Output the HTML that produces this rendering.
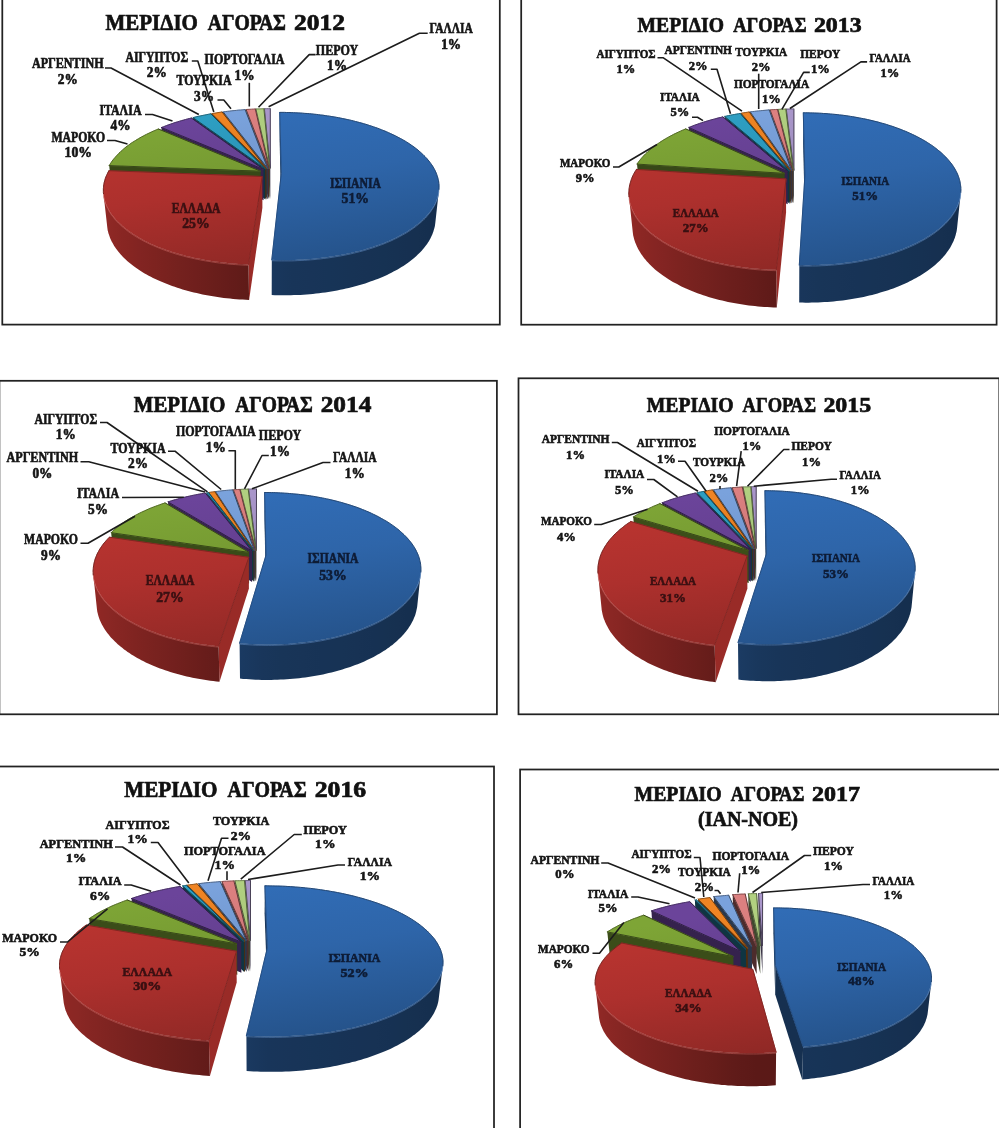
<!DOCTYPE html>
<html lang="el"><head><meta charset="utf-8"><title>ΜΕΡΙΔΙΟ ΑΓΟΡΑΣ 2012-2017</title>
<style>
html,body{margin:0;padding:0;background:#fff}
svg{display:block;filter:blur(0.35px)}
text{font-family:"Liberation Serif","DejaVu Serif",serif;font-weight:bold}
.t{fill:#111;stroke:#111;stroke-width:0.7px}
.l{stroke-width:0.6px}
</style></head><body>
<svg width="999" height="1128" viewBox="0 0 999 1128">
<defs>
<linearGradient id="t0_9" gradientUnits="userSpaceOnUse" x1="270.5" y1="109.7" x2="295.5" y2="265.1"><stop offset="0" stop-color="#a996ca"/><stop offset="0.45" stop-color="#9c8bba"/><stop offset="1" stop-color="#807299"/></linearGradient>
<linearGradient id="t0_8" gradientUnits="userSpaceOnUse" x1="270.5" y1="109.7" x2="295.5" y2="265.1"><stop offset="0" stop-color="#b1d080"/><stop offset="0.45" stop-color="#a3c076"/><stop offset="1" stop-color="#869e61"/></linearGradient>
<linearGradient id="t0_7" gradientUnits="userSpaceOnUse" x1="270.5" y1="109.7" x2="295.5" y2="265.1"><stop offset="0" stop-color="#dc8080"/><stop offset="0.45" stop-color="#cb7676"/><stop offset="1" stop-color="#a76161"/></linearGradient>
<linearGradient id="t0_6" gradientUnits="userSpaceOnUse" x1="270.5" y1="109.7" x2="295.5" y2="265.1"><stop offset="0" stop-color="#7aa2dc"/><stop offset="0.45" stop-color="#7095cb"/><stop offset="1" stop-color="#5c7aa7"/></linearGradient>
<linearGradient id="t0_5" gradientUnits="userSpaceOnUse" x1="270.5" y1="109.7" x2="295.5" y2="265.1"><stop offset="0" stop-color="#ef8423"/><stop offset="0.45" stop-color="#dc7a20"/><stop offset="1" stop-color="#b5641b"/></linearGradient>
<linearGradient id="t0_4" gradientUnits="userSpaceOnUse" x1="270.5" y1="109.7" x2="295.5" y2="265.1"><stop offset="0" stop-color="#2d9ec2"/><stop offset="0.45" stop-color="#2a91b3"/><stop offset="1" stop-color="#227793"/></linearGradient>
<linearGradient id="t0_3" gradientUnits="userSpaceOnUse" x1="270.5" y1="109.7" x2="295.5" y2="265.1"><stop offset="0" stop-color="#6b449a"/><stop offset="0.45" stop-color="#633f8e"/><stop offset="1" stop-color="#513375"/></linearGradient>
<linearGradient id="t0_2" gradientUnits="userSpaceOnUse" x1="270.5" y1="109.7" x2="295.5" y2="265.1"><stop offset="0" stop-color="#7ea536"/><stop offset="0.45" stop-color="#749831"/><stop offset="1" stop-color="#5f7d29"/></linearGradient>
<linearGradient id="w0_0_104" gradientUnits="userSpaceOnUse" x1="271.8" y1="0" x2="438.8" y2="0"><stop offset="0.000" stop-color="#19375d"/><stop offset="0.117" stop-color="#183559"/><stop offset="0.234" stop-color="#183458"/><stop offset="0.347" stop-color="#173457"/><stop offset="0.473" stop-color="#173355"/><stop offset="0.573" stop-color="#173254"/><stop offset="0.665" stop-color="#163253"/><stop offset="0.746" stop-color="#163152"/><stop offset="0.818" stop-color="#163051"/><stop offset="0.877" stop-color="#163050"/><stop offset="0.932" stop-color="#152f4f"/><stop offset="0.966" stop-color="#152e4e"/><stop offset="0.989" stop-color="#152e4d"/><stop offset="1.000" stop-color="#152d4c"/></linearGradient>
<linearGradient id="t0_0" gradientUnits="userSpaceOnUse" x1="270.5" y1="109.7" x2="295.5" y2="265.1"><stop offset="0" stop-color="#316db7"/><stop offset="0.45" stop-color="#2e65a9"/><stop offset="1" stop-color="#25538b"/></linearGradient>
<linearGradient id="w0_1_0" gradientUnits="userSpaceOnUse" x1="103.7" y1="0" x2="248.5" y2="0"><stop offset="0.000" stop-color="#912925"/><stop offset="0.014" stop-color="#902825"/><stop offset="0.037" stop-color="#8e2825"/><stop offset="0.076" stop-color="#8c2724"/><stop offset="0.119" stop-color="#892623"/><stop offset="0.184" stop-color="#862522"/><stop offset="0.248" stop-color="#822422"/><stop offset="0.337" stop-color="#7e2320"/><stop offset="0.420" stop-color="#7a221f"/><stop offset="0.530" stop-color="#74211e"/><stop offset="0.629" stop-color="#701f1d"/><stop offset="0.755" stop-color="#6a1e1b"/><stop offset="0.865" stop-color="#651c1a"/><stop offset="1.000" stop-color="#5f1b18"/></linearGradient>
<linearGradient id="t0_1" gradientUnits="userSpaceOnUse" x1="270.5" y1="109.7" x2="295.5" y2="265.1"><stop offset="0" stop-color="#bb3530"/><stop offset="0.45" stop-color="#ad302d"/><stop offset="1" stop-color="#8e2825"/></linearGradient>
<linearGradient id="t1_9" gradientUnits="userSpaceOnUse" x1="794.2" y1="110.1" x2="819.2" y2="270.5"><stop offset="0" stop-color="#a996ca"/><stop offset="0.45" stop-color="#9c8bba"/><stop offset="1" stop-color="#807299"/></linearGradient>
<linearGradient id="t1_8" gradientUnits="userSpaceOnUse" x1="794.2" y1="110.1" x2="819.2" y2="270.5"><stop offset="0" stop-color="#b1d080"/><stop offset="0.45" stop-color="#a3c076"/><stop offset="1" stop-color="#869e61"/></linearGradient>
<linearGradient id="t1_7" gradientUnits="userSpaceOnUse" x1="794.2" y1="110.1" x2="819.2" y2="270.5"><stop offset="0" stop-color="#dc8080"/><stop offset="0.45" stop-color="#cb7676"/><stop offset="1" stop-color="#a76161"/></linearGradient>
<linearGradient id="t1_6" gradientUnits="userSpaceOnUse" x1="794.2" y1="110.1" x2="819.2" y2="270.5"><stop offset="0" stop-color="#7aa2dc"/><stop offset="0.45" stop-color="#7095cb"/><stop offset="1" stop-color="#5c7aa7"/></linearGradient>
<linearGradient id="t1_5" gradientUnits="userSpaceOnUse" x1="794.2" y1="110.1" x2="819.2" y2="270.5"><stop offset="0" stop-color="#ef8423"/><stop offset="0.45" stop-color="#dc7a20"/><stop offset="1" stop-color="#b5641b"/></linearGradient>
<linearGradient id="t1_4" gradientUnits="userSpaceOnUse" x1="794.2" y1="110.1" x2="819.2" y2="270.5"><stop offset="0" stop-color="#2d9ec2"/><stop offset="0.45" stop-color="#2a91b3"/><stop offset="1" stop-color="#227793"/></linearGradient>
<linearGradient id="t1_3" gradientUnits="userSpaceOnUse" x1="794.2" y1="110.1" x2="819.2" y2="270.5"><stop offset="0" stop-color="#6b449a"/><stop offset="0.45" stop-color="#633f8e"/><stop offset="1" stop-color="#513375"/></linearGradient>
<linearGradient id="t1_2" gradientUnits="userSpaceOnUse" x1="794.2" y1="110.1" x2="819.2" y2="270.5"><stop offset="0" stop-color="#7ea536"/><stop offset="0.45" stop-color="#749831"/><stop offset="1" stop-color="#5f7d29"/></linearGradient>
<linearGradient id="w1_0_104" gradientUnits="userSpaceOnUse" x1="799.3" y1="0" x2="960.6" y2="0"><stop offset="0.000" stop-color="#19365b"/><stop offset="0.120" stop-color="#183558"/><stop offset="0.238" stop-color="#183457"/><stop offset="0.353" stop-color="#173356"/><stop offset="0.463" stop-color="#173355"/><stop offset="0.565" stop-color="#173254"/><stop offset="0.659" stop-color="#163253"/><stop offset="0.755" stop-color="#163152"/><stop offset="0.826" stop-color="#163051"/><stop offset="0.885" stop-color="#163050"/><stop offset="0.931" stop-color="#152f4f"/><stop offset="0.966" stop-color="#152e4e"/><stop offset="0.989" stop-color="#152e4d"/><stop offset="1.000" stop-color="#152d4c"/></linearGradient>
<linearGradient id="t1_0" gradientUnits="userSpaceOnUse" x1="794.2" y1="110.1" x2="819.2" y2="270.5"><stop offset="0" stop-color="#316db7"/><stop offset="0.45" stop-color="#2e65a9"/><stop offset="1" stop-color="#25538b"/></linearGradient>
<linearGradient id="w1_1_0" gradientUnits="userSpaceOnUse" x1="629.2" y1="0" x2="776.3" y2="0"><stop offset="0.000" stop-color="#912925"/><stop offset="0.014" stop-color="#902825"/><stop offset="0.035" stop-color="#8e2825"/><stop offset="0.072" stop-color="#8c2724"/><stop offset="0.123" stop-color="#892623"/><stop offset="0.175" stop-color="#862523"/><stop offset="0.249" stop-color="#822422"/><stop offset="0.336" stop-color="#7d2320"/><stop offset="0.434" stop-color="#78221f"/><stop offset="0.524" stop-color="#74211e"/><stop offset="0.640" stop-color="#6e1f1d"/><stop offset="0.763" stop-color="#691d1b"/><stop offset="0.869" stop-color="#641c1a"/><stop offset="1.000" stop-color="#5e1a18"/></linearGradient>
<linearGradient id="t1_1" gradientUnits="userSpaceOnUse" x1="794.2" y1="110.1" x2="819.2" y2="270.5"><stop offset="0" stop-color="#bb3530"/><stop offset="0.45" stop-color="#ad302d"/><stop offset="1" stop-color="#8e2825"/></linearGradient>
<linearGradient id="t2_9" gradientUnits="userSpaceOnUse" x1="256.7" y1="489.6" x2="281.7" y2="649.4"><stop offset="0" stop-color="#a996ca"/><stop offset="0.45" stop-color="#9c8bba"/><stop offset="1" stop-color="#807299"/></linearGradient>
<linearGradient id="t2_8" gradientUnits="userSpaceOnUse" x1="256.7" y1="489.6" x2="281.7" y2="649.4"><stop offset="0" stop-color="#b1d080"/><stop offset="0.45" stop-color="#a3c076"/><stop offset="1" stop-color="#869e61"/></linearGradient>
<linearGradient id="t2_7" gradientUnits="userSpaceOnUse" x1="256.7" y1="489.6" x2="281.7" y2="649.4"><stop offset="0" stop-color="#dc8080"/><stop offset="0.45" stop-color="#cb7676"/><stop offset="1" stop-color="#a76161"/></linearGradient>
<linearGradient id="t2_6" gradientUnits="userSpaceOnUse" x1="256.7" y1="489.6" x2="281.7" y2="649.4"><stop offset="0" stop-color="#7aa2dc"/><stop offset="0.45" stop-color="#7095cb"/><stop offset="1" stop-color="#5c7aa7"/></linearGradient>
<linearGradient id="t2_5" gradientUnits="userSpaceOnUse" x1="256.7" y1="489.6" x2="281.7" y2="649.4"><stop offset="0" stop-color="#ef8423"/><stop offset="0.45" stop-color="#dc7a20"/><stop offset="1" stop-color="#b5641b"/></linearGradient>
<linearGradient id="t2_4" gradientUnits="userSpaceOnUse" x1="256.7" y1="489.6" x2="281.7" y2="649.4"><stop offset="0" stop-color="#2d9ec2"/><stop offset="0.45" stop-color="#2a91b3"/><stop offset="1" stop-color="#227793"/></linearGradient>
<linearGradient id="t2_3" gradientUnits="userSpaceOnUse" x1="256.7" y1="489.6" x2="281.7" y2="649.4"><stop offset="0" stop-color="#6b449a"/><stop offset="0.45" stop-color="#633f8e"/><stop offset="1" stop-color="#513375"/></linearGradient>
<linearGradient id="t2_2" gradientUnits="userSpaceOnUse" x1="256.7" y1="489.6" x2="281.7" y2="649.4"><stop offset="0" stop-color="#7ea536"/><stop offset="0.45" stop-color="#749831"/><stop offset="1" stop-color="#5f7d29"/></linearGradient>
<linearGradient id="w2_0_104" gradientUnits="userSpaceOnUse" x1="239.6" y1="0" x2="420.6" y2="0"><stop offset="0.000" stop-color="#1a3a62"/><stop offset="0.123" stop-color="#19365b"/><stop offset="0.230" stop-color="#183558"/><stop offset="0.352" stop-color="#183457"/><stop offset="0.453" stop-color="#173356"/><stop offset="0.564" stop-color="#173355"/><stop offset="0.652" stop-color="#173254"/><stop offset="0.743" stop-color="#163153"/><stop offset="0.812" stop-color="#163151"/><stop offset="0.879" stop-color="#163050"/><stop offset="0.924" stop-color="#152f4f"/><stop offset="0.964" stop-color="#152f4e"/><stop offset="0.987" stop-color="#152e4d"/><stop offset="1.000" stop-color="#152d4c"/></linearGradient>
<linearGradient id="t2_0" gradientUnits="userSpaceOnUse" x1="256.7" y1="489.6" x2="281.7" y2="649.4"><stop offset="0" stop-color="#316db7"/><stop offset="0.45" stop-color="#2e65a9"/><stop offset="1" stop-color="#25538b"/></linearGradient>
<linearGradient id="w2_1_0" gradientUnits="userSpaceOnUse" x1="93.5" y1="0" x2="218.6" y2="0"><stop offset="0.000" stop-color="#912925"/><stop offset="0.013" stop-color="#902825"/><stop offset="0.035" stop-color="#8f2825"/><stop offset="0.069" stop-color="#8d2724"/><stop offset="0.124" stop-color="#8a2724"/><stop offset="0.181" stop-color="#872623"/><stop offset="0.249" stop-color="#842522"/><stop offset="0.328" stop-color="#802421"/><stop offset="0.416" stop-color="#7c2320"/><stop offset="0.513" stop-color="#78221f"/><stop offset="0.641" stop-color="#73201e"/><stop offset="0.755" stop-color="#6e1f1c"/><stop offset="0.876" stop-color="#691d1b"/><stop offset="1.000" stop-color="#641c1a"/></linearGradient>
<linearGradient id="t2_1" gradientUnits="userSpaceOnUse" x1="256.7" y1="489.6" x2="281.7" y2="649.4"><stop offset="0" stop-color="#bb3530"/><stop offset="0.45" stop-color="#ad302d"/><stop offset="1" stop-color="#8e2825"/></linearGradient>
<linearGradient id="t3_9" gradientUnits="userSpaceOnUse" x1="756.4" y1="487.7" x2="781.4" y2="649.0"><stop offset="0" stop-color="#a996ca"/><stop offset="0.45" stop-color="#9c8bba"/><stop offset="1" stop-color="#807299"/></linearGradient>
<linearGradient id="t3_8" gradientUnits="userSpaceOnUse" x1="756.4" y1="487.7" x2="781.4" y2="649.0"><stop offset="0" stop-color="#b1d080"/><stop offset="0.45" stop-color="#a3c076"/><stop offset="1" stop-color="#869e61"/></linearGradient>
<linearGradient id="t3_7" gradientUnits="userSpaceOnUse" x1="756.4" y1="487.7" x2="781.4" y2="649.0"><stop offset="0" stop-color="#dc8080"/><stop offset="0.45" stop-color="#cb7676"/><stop offset="1" stop-color="#a76161"/></linearGradient>
<linearGradient id="t3_6" gradientUnits="userSpaceOnUse" x1="756.4" y1="487.7" x2="781.4" y2="649.0"><stop offset="0" stop-color="#7aa2dc"/><stop offset="0.45" stop-color="#7095cb"/><stop offset="1" stop-color="#5c7aa7"/></linearGradient>
<linearGradient id="t3_5" gradientUnits="userSpaceOnUse" x1="756.4" y1="487.7" x2="781.4" y2="649.0"><stop offset="0" stop-color="#ef8423"/><stop offset="0.45" stop-color="#dc7a20"/><stop offset="1" stop-color="#b5641b"/></linearGradient>
<linearGradient id="t3_4" gradientUnits="userSpaceOnUse" x1="756.4" y1="487.7" x2="781.4" y2="649.0"><stop offset="0" stop-color="#2d9ec2"/><stop offset="0.45" stop-color="#2a91b3"/><stop offset="1" stop-color="#227793"/></linearGradient>
<linearGradient id="t3_3" gradientUnits="userSpaceOnUse" x1="756.4" y1="487.7" x2="781.4" y2="649.0"><stop offset="0" stop-color="#6b449a"/><stop offset="0.45" stop-color="#633f8e"/><stop offset="1" stop-color="#513375"/></linearGradient>
<linearGradient id="t3_2" gradientUnits="userSpaceOnUse" x1="756.4" y1="487.7" x2="781.4" y2="649.0"><stop offset="0" stop-color="#7ea536"/><stop offset="0.45" stop-color="#749831"/><stop offset="1" stop-color="#5f7d29"/></linearGradient>
<linearGradient id="w3_0_104" gradientUnits="userSpaceOnUse" x1="738.0" y1="0" x2="914.9" y2="0"><stop offset="0.000" stop-color="#1b3b63"/><stop offset="0.121" stop-color="#19375c"/><stop offset="0.226" stop-color="#183559"/><stop offset="0.346" stop-color="#183457"/><stop offset="0.446" stop-color="#173356"/><stop offset="0.556" stop-color="#173355"/><stop offset="0.658" stop-color="#173254"/><stop offset="0.736" stop-color="#163153"/><stop offset="0.815" stop-color="#163151"/><stop offset="0.881" stop-color="#163050"/><stop offset="0.926" stop-color="#152f4f"/><stop offset="0.965" stop-color="#152f4e"/><stop offset="0.987" stop-color="#152e4d"/><stop offset="1.000" stop-color="#152d4c"/></linearGradient>
<linearGradient id="t3_0" gradientUnits="userSpaceOnUse" x1="756.4" y1="487.7" x2="781.4" y2="649.0"><stop offset="0" stop-color="#316db7"/><stop offset="0.45" stop-color="#2e65a9"/><stop offset="1" stop-color="#25538b"/></linearGradient>
<linearGradient id="w3_1_0" gradientUnits="userSpaceOnUse" x1="598.2" y1="0" x2="714.6" y2="0"><stop offset="0.000" stop-color="#912925"/><stop offset="0.012" stop-color="#902825"/><stop offset="0.035" stop-color="#8f2825"/><stop offset="0.069" stop-color="#8d2724"/><stop offset="0.114" stop-color="#8a2724"/><stop offset="0.171" stop-color="#882623"/><stop offset="0.238" stop-color="#842522"/><stop offset="0.334" stop-color="#802421"/><stop offset="0.424" stop-color="#7c2320"/><stop offset="0.525" stop-color="#78221f"/><stop offset="0.633" stop-color="#74201e"/><stop offset="0.750" stop-color="#6f1f1d"/><stop offset="0.872" stop-color="#6a1e1b"/><stop offset="1.000" stop-color="#651c1a"/></linearGradient>
<linearGradient id="t3_1" gradientUnits="userSpaceOnUse" x1="756.4" y1="487.7" x2="781.4" y2="649.0"><stop offset="0" stop-color="#bb3530"/><stop offset="0.45" stop-color="#ad302d"/><stop offset="1" stop-color="#8e2825"/></linearGradient>
<linearGradient id="t4_9" gradientUnits="userSpaceOnUse" x1="250.8" y1="882.9" x2="275.8" y2="1041.3"><stop offset="0" stop-color="#a996ca"/><stop offset="0.45" stop-color="#9c8bba"/><stop offset="1" stop-color="#807299"/></linearGradient>
<linearGradient id="t4_8" gradientUnits="userSpaceOnUse" x1="250.8" y1="882.9" x2="275.8" y2="1041.3"><stop offset="0" stop-color="#b1d080"/><stop offset="0.45" stop-color="#a3c076"/><stop offset="1" stop-color="#869e61"/></linearGradient>
<linearGradient id="t4_7" gradientUnits="userSpaceOnUse" x1="250.8" y1="882.9" x2="275.8" y2="1041.3"><stop offset="0" stop-color="#dc8080"/><stop offset="0.45" stop-color="#cb7676"/><stop offset="1" stop-color="#a76161"/></linearGradient>
<linearGradient id="t4_6" gradientUnits="userSpaceOnUse" x1="250.8" y1="882.9" x2="275.8" y2="1041.3"><stop offset="0" stop-color="#7aa2dc"/><stop offset="0.45" stop-color="#7095cb"/><stop offset="1" stop-color="#5c7aa7"/></linearGradient>
<linearGradient id="t4_5" gradientUnits="userSpaceOnUse" x1="250.8" y1="882.9" x2="275.8" y2="1041.3"><stop offset="0" stop-color="#ef8423"/><stop offset="0.45" stop-color="#dc7a20"/><stop offset="1" stop-color="#b5641b"/></linearGradient>
<linearGradient id="t4_4" gradientUnits="userSpaceOnUse" x1="250.8" y1="882.9" x2="275.8" y2="1041.3"><stop offset="0" stop-color="#2d9ec2"/><stop offset="0.45" stop-color="#2a91b3"/><stop offset="1" stop-color="#227793"/></linearGradient>
<linearGradient id="t4_3" gradientUnits="userSpaceOnUse" x1="250.8" y1="882.9" x2="275.8" y2="1041.3"><stop offset="0" stop-color="#6b449a"/><stop offset="0.45" stop-color="#633f8e"/><stop offset="1" stop-color="#513375"/></linearGradient>
<linearGradient id="t4_2" gradientUnits="userSpaceOnUse" x1="250.8" y1="882.9" x2="275.8" y2="1041.3"><stop offset="0" stop-color="#7ea536"/><stop offset="0.45" stop-color="#749831"/><stop offset="1" stop-color="#5f7d29"/></linearGradient>
<linearGradient id="w4_0_105" gradientUnits="userSpaceOnUse" x1="246.4" y1="0" x2="442.6" y2="0"><stop offset="0.000" stop-color="#1a3960"/><stop offset="0.111" stop-color="#18355a"/><stop offset="0.240" stop-color="#183458"/><stop offset="0.349" stop-color="#173457"/><stop offset="0.453" stop-color="#173356"/><stop offset="0.567" stop-color="#173255"/><stop offset="0.657" stop-color="#173254"/><stop offset="0.738" stop-color="#163153"/><stop offset="0.808" stop-color="#163151"/><stop offset="0.877" stop-color="#163050"/><stop offset="0.925" stop-color="#152f4f"/><stop offset="0.960" stop-color="#152f4e"/><stop offset="0.988" stop-color="#152e4d"/><stop offset="1.000" stop-color="#152e4c"/></linearGradient>
<linearGradient id="t4_0" gradientUnits="userSpaceOnUse" x1="250.8" y1="882.9" x2="275.8" y2="1041.3"><stop offset="0" stop-color="#316db7"/><stop offset="0.45" stop-color="#2e65a9"/><stop offset="1" stop-color="#25538b"/></linearGradient>
<linearGradient id="w4_1_0" gradientUnits="userSpaceOnUse" x1="59.9" y1="0" x2="208.9" y2="0"><stop offset="0.000" stop-color="#912925"/><stop offset="0.012" stop-color="#902825"/><stop offset="0.039" stop-color="#8e2825"/><stop offset="0.073" stop-color="#8c2724"/><stop offset="0.118" stop-color="#8a2724"/><stop offset="0.185" stop-color="#862623"/><stop offset="0.251" stop-color="#832522"/><stop offset="0.328" stop-color="#7f2421"/><stop offset="0.414" stop-color="#7b2320"/><stop offset="0.528" stop-color="#76211f"/><stop offset="0.631" stop-color="#72201d"/><stop offset="0.741" stop-color="#6d1f1c"/><stop offset="0.880" stop-color="#671d1b"/><stop offset="1.000" stop-color="#621b19"/></linearGradient>
<linearGradient id="t4_1" gradientUnits="userSpaceOnUse" x1="250.8" y1="882.9" x2="275.8" y2="1041.3"><stop offset="0" stop-color="#bb3530"/><stop offset="0.45" stop-color="#ad302d"/><stop offset="1" stop-color="#8e2825"/></linearGradient>
<linearGradient id="t5_9" gradientUnits="userSpaceOnUse" x1="763.2" y1="905.7" x2="788.2" y2="1053.1"><stop offset="0" stop-color="#a996ca"/><stop offset="0.45" stop-color="#9c8bba"/><stop offset="1" stop-color="#807299"/></linearGradient>
<linearGradient id="t5_8" gradientUnits="userSpaceOnUse" x1="763.2" y1="905.7" x2="788.2" y2="1053.1"><stop offset="0" stop-color="#b1d080"/><stop offset="0.45" stop-color="#a3c076"/><stop offset="1" stop-color="#869e61"/></linearGradient>
<linearGradient id="t5_7" gradientUnits="userSpaceOnUse" x1="763.2" y1="905.7" x2="788.2" y2="1053.1"><stop offset="0" stop-color="#dc8080"/><stop offset="0.45" stop-color="#cb7676"/><stop offset="1" stop-color="#a76161"/></linearGradient>
<linearGradient id="t5_6" gradientUnits="userSpaceOnUse" x1="763.2" y1="905.7" x2="788.2" y2="1053.1"><stop offset="0" stop-color="#7aa2dc"/><stop offset="0.45" stop-color="#7095cb"/><stop offset="1" stop-color="#5c7aa7"/></linearGradient>
<linearGradient id="t5_5" gradientUnits="userSpaceOnUse" x1="763.2" y1="905.7" x2="788.2" y2="1053.1"><stop offset="0" stop-color="#ef8423"/><stop offset="0.45" stop-color="#dc7a20"/><stop offset="1" stop-color="#b5641b"/></linearGradient>
<linearGradient id="t5_4" gradientUnits="userSpaceOnUse" x1="763.2" y1="905.7" x2="788.2" y2="1053.1"><stop offset="0" stop-color="#2d9ec2"/><stop offset="0.45" stop-color="#2a91b3"/><stop offset="1" stop-color="#227793"/></linearGradient>
<linearGradient id="t5_3" gradientUnits="userSpaceOnUse" x1="763.2" y1="905.7" x2="788.2" y2="1053.1"><stop offset="0" stop-color="#6b449a"/><stop offset="0.45" stop-color="#633f8e"/><stop offset="1" stop-color="#513375"/></linearGradient>
<linearGradient id="t5_2" gradientUnits="userSpaceOnUse" x1="763.2" y1="905.7" x2="788.2" y2="1053.1"><stop offset="0" stop-color="#7ea536"/><stop offset="0.45" stop-color="#749831"/><stop offset="1" stop-color="#5f7d29"/></linearGradient>
<linearGradient id="w5_0_105" gradientUnits="userSpaceOnUse" x1="803.1" y1="0" x2="931.2" y2="0"><stop offset="0.000" stop-color="#183458"/><stop offset="0.122" stop-color="#173457"/><stop offset="0.240" stop-color="#173356"/><stop offset="0.375" stop-color="#173355"/><stop offset="0.480" stop-color="#173254"/><stop offset="0.576" stop-color="#163253"/><stop offset="0.664" stop-color="#163152"/><stop offset="0.757" stop-color="#163051"/><stop offset="0.824" stop-color="#163050"/><stop offset="0.880" stop-color="#152f50"/><stop offset="0.925" stop-color="#152f4f"/><stop offset="0.966" stop-color="#152e4e"/><stop offset="0.988" stop-color="#152e4d"/><stop offset="1.000" stop-color="#152d4c"/></linearGradient>
<linearGradient id="t5_0" gradientUnits="userSpaceOnUse" x1="763.2" y1="905.7" x2="788.2" y2="1053.1"><stop offset="0" stop-color="#316db7"/><stop offset="0.45" stop-color="#2e65a9"/><stop offset="1" stop-color="#25538b"/></linearGradient>
<linearGradient id="w5_1_0" gradientUnits="userSpaceOnUse" x1="595.4" y1="0" x2="776.1" y2="0"><stop offset="0.000" stop-color="#912925"/><stop offset="0.010" stop-color="#902825"/><stop offset="0.036" stop-color="#8e2825"/><stop offset="0.069" stop-color="#8b2724"/><stop offset="0.122" stop-color="#872623"/><stop offset="0.180" stop-color="#832522"/><stop offset="0.260" stop-color="#7e2321"/><stop offset="0.339" stop-color="#79221f"/><stop offset="0.442" stop-color="#73201e"/><stop offset="0.539" stop-color="#6d1f1c"/><stop offset="0.658" stop-color="#671d1a"/><stop offset="0.765" stop-color="#601b19"/><stop offset="0.892" stop-color="#5b1917"/><stop offset="1.000" stop-color="#5a1917"/></linearGradient>
<linearGradient id="t5_1" gradientUnits="userSpaceOnUse" x1="763.2" y1="905.7" x2="788.2" y2="1053.1"><stop offset="0" stop-color="#bb3530"/><stop offset="0.45" stop-color="#ad302d"/><stop offset="1" stop-color="#8e2825"/></linearGradient>
</defs>
<rect width="999" height="1128" fill="#fff"/>
<rect x="2.3" y="-10.0" width="497.5" height="334.6" fill="#fff" stroke="#222" stroke-width="1.75"/>
<rect x="521.2" y="-10.0" width="475.4" height="334.7" fill="#fff" stroke="#222" stroke-width="1.75"/>
<rect x="-0.6" y="380.8" width="497.5" height="333.5" fill="#fff" stroke="#222" stroke-width="1.75"/>
<rect x="518.5" y="378.3" width="480.8" height="336.0" fill="#fff" stroke="#222" stroke-width="1.75"/>
<rect x="-20.0" y="766.5" width="514.0" height="383.5" fill="#fff" stroke="#222" stroke-width="1.75"/>
<rect x="520.1" y="769.5" width="499.9" height="380.5" fill="#fff" stroke="#222" stroke-width="1.75"/>
<polygon points="270.3,168.3 264.4,108.8 264.5,136.1 270.3,199.0" fill="#3b3547"/>
<polygon points="270.3,168.3 270.3,108.7 270.3,136.0 270.3,199.0" fill="#27232f"/>
<polygon points="270.3,168.3 264.4,108.8 266.4,108.7 268.3,108.7 270.3,108.7" fill="url(#t0_9)" stroke="url(#t0_9)" stroke-width="0.5" stroke-linejoin="round"/>
<polyline points="264.4,108.8 270.3,168.3 270.3,108.7" fill="none" stroke="#4a4258" stroke-width="1.0" stroke-linejoin="round" stroke-linecap="round"/>
<polyline points="264.4,108.8 266.4,108.7 268.3,108.7 270.3,108.7" fill="none" stroke="#625876" stroke-width="0.9"/>
<polygon points="269.7,168.3 255.9,109.0 256.1,136.3 269.7,199.0" fill="#3e492d"/>
<polygon points="269.7,168.3 255.9,109.0 257.9,108.9 259.9,108.9 261.9,108.8 263.9,108.8" fill="url(#t0_8)" stroke="url(#t0_8)" stroke-width="0.5" stroke-linejoin="round"/>
<polyline points="255.9,109.0 269.7,168.3 263.9,108.8" fill="none" stroke="#4d5b38" stroke-width="1.0" stroke-linejoin="round" stroke-linecap="round"/>
<polyline points="255.9,109.0 257.9,108.9 259.9,108.9 261.9,108.8 263.9,108.8" fill="none" stroke="#67794a" stroke-width="0.9"/>
<polygon points="269.0,168.3 246.1,109.5 246.6,136.9 269.0,199.0" fill="#4d2c2c"/>
<polygon points="269.0,168.3 246.1,109.5 248.0,109.4 249.8,109.3 251.6,109.2 253.4,109.1 255.3,109.0" fill="url(#t0_7)" stroke="url(#t0_7)" stroke-width="0.5" stroke-linejoin="round"/>
<polyline points="246.1,109.5 269.0,168.3 255.3,109.0" fill="none" stroke="#603838" stroke-width="1.0" stroke-linejoin="round" stroke-linecap="round"/>
<polyline points="246.1,109.5 248.0,109.4 249.8,109.3 251.6,109.2 253.4,109.1 255.3,109.0" fill="none" stroke="#804a4a" stroke-width="0.9"/>
<polygon points="267.7,168.4 223.2,111.9 224.1,139.4 267.8,199.2" fill="#2a374c"/>
<polygon points="267.7,168.4 223.2,111.9 225.4,111.6 227.6,111.3 229.7,111.1 231.9,110.8 234.1,110.6 236.3,110.4 238.5,110.1 240.7,110.0 242.9,109.8 245.1,109.6" fill="url(#t0_6)" stroke="url(#t0_6)" stroke-width="0.5" stroke-linejoin="round"/>
<polyline points="223.2,111.9 267.7,168.4 245.1,109.6" fill="none" stroke="#354760" stroke-width="1.0" stroke-linejoin="round" stroke-linecap="round"/>
<polyline points="223.2,111.9 225.4,111.6 227.6,111.3 229.7,111.1 231.9,110.8 234.1,110.6 236.3,110.4 238.5,110.1 240.7,110.0 242.9,109.8 245.1,109.6" fill="none" stroke="#475e80" stroke-width="0.9"/>
<polygon points="266.4,168.6 211.9,113.6 212.9,141.2 266.5,199.4" fill="#512d0c"/>
<polygon points="266.4,168.6 211.9,113.6 213.9,113.3 216.0,113.0 218.0,112.6 220.1,112.3 222.1,112.0" fill="url(#t0_5)" stroke="url(#t0_5)" stroke-width="0.5" stroke-linejoin="round"/>
<polyline points="211.9,113.6 266.4,168.6 222.1,112.0" fill="none" stroke="#683a0f" stroke-width="1.0" stroke-linejoin="round" stroke-linecap="round"/>
<polyline points="211.9,113.6 213.9,113.3 216.0,113.0 218.0,112.6 220.1,112.3 222.1,112.0" fill="none" stroke="#8b4d14" stroke-width="0.9"/>
<polygon points="265.3,168.9 193.0,117.6 194.4,145.4 265.4,199.6" fill="#0f3440"/>
<polygon points="265.3,168.9 193.0,117.6 195.0,117.1 196.9,116.6 198.9,116.2 200.9,115.8 202.9,115.4 204.9,115.0 206.9,114.6 208.9,114.2 210.9,113.8" fill="url(#t0_4)" stroke="url(#t0_4)" stroke-width="0.5" stroke-linejoin="round"/>
<polyline points="193.0,117.6 265.3,168.9 210.9,113.8" fill="none" stroke="#144555" stroke-width="1.0" stroke-linejoin="round" stroke-linecap="round"/>
<polyline points="193.0,117.6 195.0,117.1 196.9,116.6 198.9,116.2 200.9,115.8 202.9,115.4 204.9,115.0 206.9,114.6 208.9,114.2 210.9,113.8" fill="none" stroke="#1a5c71" stroke-width="0.9"/>
<polygon points="263.5,169.4 161.4,127.5 163.4,156.0 263.6,200.2" fill="#35214c"/>
<polygon points="263.5,169.4 161.4,127.5 163.2,126.9 164.9,126.2 166.7,125.5 168.5,124.8 170.3,124.2 172.2,123.6 174.0,122.9 175.9,122.3 177.8,121.8 179.7,121.2 181.6,120.6 183.5,120.1 185.5,119.5 187.4,119.0 189.4,118.5 191.4,118.0" fill="url(#t0_3)" stroke="url(#t0_3)" stroke-width="0.5" stroke-linejoin="round"/>
<polyline points="161.4,127.5 263.5,169.4 191.4,118.0" fill="none" stroke="#2f1e44" stroke-width="1.0" stroke-linejoin="round" stroke-linecap="round"/>
<polyline points="161.4,127.5 163.2,126.9 164.9,126.2 166.7,125.5 168.5,124.8 170.3,124.2 172.2,123.6 174.0,122.9 175.9,122.3 177.8,121.8 179.7,121.2 181.6,120.6 183.5,120.1 185.5,119.5 187.4,119.0 189.4,118.5 191.4,118.0" fill="none" stroke="#3e285a" stroke-width="0.9"/>
<polygon points="260.6,171.2 109.2,165.6 112.4,196.2 260.8,202.1" fill="#374817"/>
<polygon points="260.6,171.2 109.2,165.6 109.9,164.5 110.6,163.3 111.4,162.2 112.2,161.0 113.0,159.9 113.9,158.8 114.9,157.7 115.8,156.6 116.8,155.5 117.8,154.4 118.9,153.3 120.0,152.3 121.1,151.2 122.3,150.2 123.5,149.1 124.7,148.1 125.9,147.1 127.2,146.1 128.5,145.2 129.9,144.2 131.2,143.2 132.6,142.3 134.1,141.4 135.5,140.5 137.0,139.6 138.5,138.7 140.0,137.8 141.6,136.9 143.2,136.1 144.8,135.2 146.4,134.4 148.1,133.6 149.7,132.8 151.4,132.0 153.1,131.2 154.9,130.5 156.6,129.7 158.4,129.0" fill="url(#t0_2)" stroke="url(#t0_2)" stroke-width="0.5" stroke-linejoin="round"/>
<polyline points="109.2,165.6 260.6,171.2 158.4,129.0" fill="none" stroke="#374817" stroke-width="1.0" stroke-linejoin="round" stroke-linecap="round"/>
<polyline points="109.2,165.6 109.9,164.5 110.6,163.3 111.4,162.2 112.2,161.0 113.0,159.9 113.9,158.8 114.9,157.7 115.8,156.6 116.8,155.5 117.8,154.4 118.9,153.3 120.0,152.3 121.1,151.2 122.3,150.2 123.5,149.1 124.7,148.1 125.9,147.1 127.2,146.1 128.5,145.2 129.9,144.2 131.2,143.2 132.6,142.3 134.1,141.4 135.5,140.5 137.0,139.6 138.5,138.7 140.0,137.8 141.6,136.9 143.2,136.1 144.8,135.2 146.4,134.4 148.1,133.6 149.7,132.8 151.4,132.0 153.1,131.2 154.9,130.5 156.6,129.7 158.4,129.0" fill="none" stroke="#49601f" stroke-width="0.9"/>
<polygon points="281.3,173.4 279.7,112.4 279.6,139.9 281.1,204.4" fill="#163050"/>
<polygon points="438.8,191.2 438.6,192.5 438.4,193.8 438.1,195.1 437.8,196.4 437.4,197.8 437.0,199.1 436.5,200.4 435.9,201.7 435.3,203.1 434.7,204.4 434.0,205.7 433.2,207.0 432.4,208.3 431.5,209.6 430.6,210.9 429.6,212.2 428.6,213.5 427.5,214.8 426.4,216.1 425.2,217.4 423.9,218.6 422.6,219.9 421.2,221.2 419.8,222.4 418.3,223.6 416.8,224.8 415.2,226.1 413.6,227.2 411.9,228.4 410.1,229.6 408.3,230.8 406.5,231.9 404.6,233.0 402.6,234.1 400.6,235.2 398.6,236.3 396.5,237.4 394.3,238.4 392.1,239.5 389.8,240.5 387.5,241.5 385.2,242.4 382.8,243.4 380.3,244.3 377.8,245.2 375.3,246.1 372.7,247.0 370.1,247.8 367.5,248.6 364.8,249.4 362.0,250.2 359.3,250.9 356.4,251.6 353.6,252.3 350.7,253.0 347.8,253.6 344.9,254.2 341.9,254.8 338.9,255.3 335.9,255.8 332.8,256.3 329.7,256.8 326.6,257.2 323.5,257.6 320.3,258.0 317.2,258.3 314.0,258.7 310.8,258.9 307.6,259.2 304.4,259.4 301.1,259.6 297.9,259.7 294.6,259.9 291.4,260.0 288.1,260.0 284.8,260.0 281.6,260.0 278.3,260.0 275.0,259.9 271.8,259.8 271.7,295.1 274.9,295.2 278.1,295.3 281.3,295.3 284.5,295.3 287.7,295.3 290.9,295.2 294.0,295.1 297.2,295.0 300.4,294.9 303.5,294.7 306.7,294.4 309.8,294.2 312.9,293.9 316.0,293.6 319.1,293.2 322.2,292.8 325.3,292.4 328.3,291.9 331.3,291.5 334.3,290.9 337.2,290.4 340.2,289.8 343.1,289.2 346.0,288.6 348.8,287.9 351.6,287.2 354.4,286.5 357.1,285.8 359.8,285.0 362.5,284.2 365.2,283.4 367.8,282.5 370.3,281.6 372.8,280.7 375.3,279.8 377.7,278.9 380.1,277.9 382.5,276.9 384.8,275.9 387.0,274.9 389.3,273.8 391.4,272.7 393.5,271.6 395.6,270.5 397.6,269.4 399.6,268.2 401.5,267.1 403.4,265.9 405.2,264.7 407.0,263.5 408.7,262.3 410.3,261.0 411.9,259.8 413.5,258.5 415.0,257.2 416.4,255.9 417.8,254.6 419.2,253.3 420.5,252.0 421.7,250.7 422.9,249.3 424.0,248.0 425.1,246.6 426.1,245.3 427.1,243.9 428.0,242.5 428.9,241.2 429.7,239.8 430.4,238.4 431.1,237.0 431.8,235.6 432.4,234.2 432.9,232.8 433.4,231.4 433.8,230.1 434.2,228.7 434.6,227.3 434.9,225.9 435.1,224.5 435.3,223.1" fill="url(#w0_0_104)"/>
<polygon points="281.3,173.4 279.7,112.4 282.0,112.4 284.3,112.4 286.6,112.5 288.9,112.5 291.2,112.6 293.5,112.7 295.8,112.8 298.1,112.9 300.4,113.0 302.7,113.2 304.9,113.4 307.2,113.5 309.5,113.7 311.8,113.9 314.0,114.2 316.3,114.4 318.5,114.7 320.8,115.0 323.0,115.2 325.2,115.6 327.5,115.9 329.7,116.2 331.9,116.6 334.1,116.9 336.3,117.3 338.5,117.7 340.6,118.1 342.8,118.6 345.0,119.0 347.1,119.5 349.2,119.9 351.3,120.4 353.4,120.9 355.5,121.5 357.6,122.0 359.7,122.6 361.7,123.1 363.7,123.7 365.8,124.3 367.8,124.9 369.7,125.6 371.7,126.2 373.7,126.9 375.6,127.5 377.5,128.2 379.4,128.9 381.3,129.7 383.1,130.4 385.0,131.1 386.8,131.9 388.6,132.7 390.4,133.5 392.1,134.3 393.8,135.1 395.5,135.9 397.2,136.8 398.9,137.7 400.5,138.5 402.1,139.4 403.7,140.3 405.3,141.2 406.8,142.2 408.3,143.1 409.8,144.1 411.2,145.1 412.6,146.0 414.0,147.0 415.3,148.0 416.7,149.1 418.0,150.1 419.2,151.2 420.4,152.2 421.6,153.3 422.8,154.4 423.9,155.5 425.0,156.6 426.0,157.7 427.1,158.8 428.0,160.0 429.0,161.1 429.9,162.3 430.7,163.4 431.6,164.6 432.4,165.8 433.1,167.0 433.8,168.2 434.5,169.4 435.1,170.6 435.7,171.9 436.2,173.1 436.7,174.4 437.1,175.6 437.5,176.9 437.9,178.2 438.2,179.4 438.5,180.7 438.7,182.0 438.8,183.3 439.0,184.6 439.0,185.9 439.0,187.2 439.0,188.5 438.9,189.8 438.8,191.2 438.6,192.5 438.4,193.8 438.1,195.1 437.8,196.4 437.4,197.8 437.0,199.1 436.5,200.4 435.9,201.7 435.3,203.1 434.7,204.4 434.0,205.7 433.2,207.0 432.4,208.3 431.5,209.6 430.6,210.9 429.6,212.2 428.6,213.5 427.5,214.8 426.4,216.1 425.2,217.4 423.9,218.6 422.6,219.9 421.2,221.2 419.8,222.4 418.3,223.6 416.8,224.8 415.2,226.1 413.6,227.2 411.9,228.4 410.1,229.6 408.3,230.8 406.5,231.9 404.6,233.0 402.6,234.1 400.6,235.2 398.6,236.3 396.5,237.4 394.3,238.4 392.1,239.5 389.8,240.5 387.5,241.5 385.2,242.4 382.8,243.4 380.3,244.3 377.8,245.2 375.3,246.1 372.7,247.0 370.1,247.8 367.5,248.6 364.8,249.4 362.0,250.2 359.3,250.9 356.4,251.6 353.6,252.3 350.7,253.0 347.8,253.6 344.9,254.2 341.9,254.8 338.9,255.3 335.9,255.8 332.8,256.3 329.7,256.8 326.6,257.2 323.5,257.6 320.3,258.0 317.2,258.3 314.0,258.7 310.8,258.9 307.6,259.2 304.4,259.4 301.1,259.6 297.9,259.7 294.6,259.9 291.4,260.0 288.1,260.0 284.8,260.0 281.6,260.0 278.3,260.0 275.0,259.9 271.8,259.8" fill="url(#t0_0)" stroke="url(#t0_0)" stroke-width="0.5" stroke-linejoin="round"/>
<polyline points="279.7,112.4 281.3,173.4 271.8,259.8" fill="none" stroke="#234c80" stroke-width="1.0" stroke-linejoin="round" stroke-linecap="round"/>
<polyline points="279.7,112.4 282.0,112.4 284.3,112.4 286.6,112.5 288.9,112.5 291.2,112.6 293.5,112.7 295.8,112.8 298.1,112.9 300.4,113.0 302.7,113.2 304.9,113.4 307.2,113.5 309.5,113.7 311.8,113.9 314.0,114.2 316.3,114.4 318.5,114.7 320.8,115.0 323.0,115.2 325.2,115.6 327.5,115.9 329.7,116.2 331.9,116.6 334.1,116.9 336.3,117.3 338.5,117.7 340.6,118.1 342.8,118.6 345.0,119.0 347.1,119.5 349.2,119.9 351.3,120.4 353.4,120.9 355.5,121.5 357.6,122.0 359.7,122.6 361.7,123.1 363.7,123.7 365.8,124.3 367.8,124.9 369.7,125.6 371.7,126.2 373.7,126.9 375.6,127.5 377.5,128.2 379.4,128.9 381.3,129.7 383.1,130.4 385.0,131.1 386.8,131.9 388.6,132.7 390.4,133.5 392.1,134.3 393.8,135.1 395.5,135.9 397.2,136.8 398.9,137.7 400.5,138.5 402.1,139.4 403.7,140.3 405.3,141.2 406.8,142.2 408.3,143.1 409.8,144.1 411.2,145.1 412.6,146.0 414.0,147.0 415.3,148.0 416.7,149.1 418.0,150.1 419.2,151.2 420.4,152.2 421.6,153.3 422.8,154.4 423.9,155.5 425.0,156.6 426.0,157.7 427.1,158.8 428.0,160.0 429.0,161.1 429.9,162.3 430.7,163.4 431.6,164.6 432.4,165.8 433.1,167.0 433.8,168.2 434.5,169.4 435.1,170.6 435.7,171.9 436.2,173.1 436.7,174.4 437.1,175.6 437.5,176.9 437.9,178.2 438.2,179.4 438.5,180.7 438.7,182.0 438.8,183.3 439.0,184.6 439.0,185.9 439.0,187.2 439.0,188.5 438.9,189.8" fill="none" stroke="#1d406b" stroke-width="0.9"/>
<polyline points="438.8,191.2 438.6,192.5 438.4,193.8 438.1,195.1 437.8,196.4 437.4,197.8 437.0,199.1 436.5,200.4 435.9,201.7 435.3,203.1 434.7,204.4 434.0,205.7 433.2,207.0 432.4,208.3 431.5,209.6 430.6,210.9 429.6,212.2 428.6,213.5 427.5,214.8 426.4,216.1 425.2,217.4 423.9,218.6 422.6,219.9 421.2,221.2 419.8,222.4 418.3,223.6 416.8,224.8 415.2,226.1 413.6,227.2 411.9,228.4 410.1,229.6 408.3,230.8 406.5,231.9 404.6,233.0 402.6,234.1 400.6,235.2 398.6,236.3 396.5,237.4 394.3,238.4 392.1,239.5 389.8,240.5 387.5,241.5 385.2,242.4 382.8,243.4 380.3,244.3 377.8,245.2 375.3,246.1 372.7,247.0 370.1,247.8 367.5,248.6 364.8,249.4 362.0,250.2 359.3,250.9 356.4,251.6 353.6,252.3 350.7,253.0 347.8,253.6 344.9,254.2 341.9,254.8 338.9,255.3 335.9,255.8 332.8,256.3 329.7,256.8 326.6,257.2 323.5,257.6 320.3,258.0 317.2,258.3 314.0,258.7 310.8,258.9 307.6,259.2 304.4,259.4 301.1,259.6 297.9,259.7 294.6,259.9 291.4,260.0 288.1,260.0 284.8,260.0 281.6,260.0 278.3,260.0 275.0,259.9 271.8,259.8" fill="none" stroke="#5e8bc3" stroke-width="1" stroke-opacity="0.55" transform="translate(0,0.9)"/>
<polygon points="262.2,176.5 248.5,264.4 249.1,299.9 262.4,207.7" fill="#992b27"/>
<polygon points="248.5,264.4 245.3,264.3 242.0,264.1 238.7,263.9 235.4,263.7 232.2,263.5 229.0,263.2 225.8,262.8 222.6,262.5 219.4,262.1 216.2,261.7 213.1,261.2 210.0,260.7 206.9,260.2 203.8,259.7 200.8,259.1 197.8,258.5 194.8,257.9 191.9,257.2 189.0,256.6 186.1,255.9 183.3,255.1 180.5,254.4 177.7,253.6 175.0,252.8 172.3,251.9 169.7,251.1 167.1,250.2 164.5,249.3 162.0,248.3 159.6,247.4 157.2,246.4 154.8,245.4 152.5,244.4 150.2,243.4 148.0,242.3 145.8,241.2 143.7,240.2 141.6,239.0 139.6,237.9 137.6,236.8 135.7,235.6 133.9,234.5 132.1,233.3 130.3,232.1 128.6,230.9 127.0,229.6 125.4,228.4 123.9,227.1 122.4,225.9 121.0,224.6 119.6,223.3 118.3,222.1 117.0,220.8 115.8,219.5 114.7,218.2 113.6,216.8 112.6,215.5 111.6,214.2 110.7,212.9 109.8,211.5 109.0,210.2 108.3,208.8 107.6,207.5 106.9,206.2 106.3,204.8 105.8,203.5 105.3,202.1 104.9,200.8 104.5,199.4 104.2,198.1 103.9,196.7 103.7,195.4 107.3,227.5 107.5,229.0 107.7,230.4 108.1,231.8 108.4,233.2 108.9,234.6 109.4,236.0 109.9,237.5 110.5,238.9 111.1,240.3 111.8,241.7 112.6,243.1 113.4,244.5 114.2,245.9 115.1,247.3 116.1,248.7 117.1,250.1 118.2,251.5 119.3,252.8 120.5,254.2 121.7,255.6 123.0,256.9 124.3,258.3 125.7,259.6 127.2,260.9 128.7,262.2 130.3,263.5 131.9,264.8 133.5,266.1 135.2,267.3 137.0,268.6 138.8,269.8 140.7,271.0 142.6,272.2 144.6,273.4 146.6,274.5 148.7,275.7 150.9,276.8 153.0,277.9 155.3,279.0 157.5,280.0 159.8,281.1 162.2,282.1 164.6,283.1 167.1,284.1 169.6,285.0 172.1,285.9 174.7,286.8 177.3,287.7 179.9,288.6 182.6,289.4 185.4,290.2 188.1,291.0 190.9,291.7 193.8,292.4 196.7,293.1 199.6,293.7 202.5,294.4 205.4,295.0 208.4,295.5 211.4,296.1 214.5,296.6 217.5,297.0 220.6,297.5 223.7,297.9 226.8,298.2 230.0,298.6 233.1,298.9 236.3,299.2 239.5,299.4 242.7,299.6 245.9,299.8 249.1,299.9" fill="url(#w0_1_0)"/>
<polygon points="262.2,176.5 248.5,264.4 245.3,264.3 242.0,264.1 238.7,263.9 235.4,263.7 232.2,263.5 229.0,263.2 225.8,262.8 222.6,262.5 219.4,262.1 216.2,261.7 213.1,261.2 210.0,260.7 206.9,260.2 203.8,259.7 200.8,259.1 197.8,258.5 194.8,257.9 191.9,257.2 189.0,256.6 186.1,255.9 183.3,255.1 180.5,254.4 177.7,253.6 175.0,252.8 172.3,251.9 169.7,251.1 167.1,250.2 164.5,249.3 162.0,248.3 159.6,247.4 157.2,246.4 154.8,245.4 152.5,244.4 150.2,243.4 148.0,242.3 145.8,241.2 143.7,240.2 141.6,239.0 139.6,237.9 137.6,236.8 135.7,235.6 133.9,234.5 132.1,233.3 130.3,232.1 128.6,230.9 127.0,229.6 125.4,228.4 123.9,227.1 122.4,225.9 121.0,224.6 119.6,223.3 118.3,222.1 117.0,220.8 115.8,219.5 114.7,218.2 113.6,216.8 112.6,215.5 111.6,214.2 110.7,212.9 109.8,211.5 109.0,210.2 108.3,208.8 107.6,207.5 106.9,206.2 106.3,204.8 105.8,203.5 105.3,202.1 104.9,200.8 104.5,199.4 104.2,198.1 103.9,196.7 103.7,195.4 103.6,194.0 103.4,192.7 103.4,191.4 103.4,190.0 103.4,188.7 103.5,187.4 103.6,186.1 103.8,184.7 104.0,183.4 104.3,182.1 104.7,180.8 105.0,179.5 105.4,178.3 105.9,177.0 106.4,175.7 107.0,174.5 107.6,173.2 108.2,172.0 108.9,170.7" fill="url(#t0_1)" stroke="url(#t0_1)" stroke-width="0.5" stroke-linejoin="round"/>
<polyline points="248.5,264.4 262.2,176.5 108.9,170.7" fill="none" stroke="#832522" stroke-width="1.0" stroke-linejoin="round" stroke-linecap="round"/>
<polyline points="103.6,194.0 103.4,192.7 103.4,191.4 103.4,190.0 103.4,188.7 103.5,187.4 103.6,186.1 103.8,184.7 104.0,183.4 104.3,182.1 104.7,180.8 105.0,179.5 105.4,178.3 105.9,177.0 106.4,175.7 107.0,174.5 107.6,173.2 108.2,172.0 108.9,170.7" fill="none" stroke="#6d1f1c" stroke-width="0.9"/>
<polyline points="248.5,264.4 245.3,264.3 242.0,264.1 238.7,263.9 235.4,263.7 232.2,263.5 229.0,263.2 225.8,262.8 222.6,262.5 219.4,262.1 216.2,261.7 213.1,261.2 210.0,260.7 206.9,260.2 203.8,259.7 200.8,259.1 197.8,258.5 194.8,257.9 191.9,257.2 189.0,256.6 186.1,255.9 183.3,255.1 180.5,254.4 177.7,253.6 175.0,252.8 172.3,251.9 169.7,251.1 167.1,250.2 164.5,249.3 162.0,248.3 159.6,247.4 157.2,246.4 154.8,245.4 152.5,244.4 150.2,243.4 148.0,242.3 145.8,241.2 143.7,240.2 141.6,239.0 139.6,237.9 137.6,236.8 135.7,235.6 133.9,234.5 132.1,233.3 130.3,232.1 128.6,230.9 127.0,229.6 125.4,228.4 123.9,227.1 122.4,225.9 121.0,224.6 119.6,223.3 118.3,222.1 117.0,220.8 115.8,219.5 114.7,218.2 113.6,216.8 112.6,215.5 111.6,214.2 110.7,212.9 109.8,211.5 109.0,210.2 108.3,208.8 107.6,207.5 106.9,206.2 106.3,204.8 105.8,203.5 105.3,202.1 104.9,200.8 104.5,199.4 104.2,198.1 103.9,196.7 103.7,195.4" fill="none" stroke="#c6605d" stroke-width="1" stroke-opacity="0.55" transform="translate(0,0.9)"/>
<polyline points="427.7,33.3 419.4,33.3 268.6,106.8" fill="none" stroke="#1c1c1c" stroke-width="1.6" stroke-linejoin="round"/>
<polyline points="315.5,54.6 309.2,54.6 258.5,107.2" fill="none" stroke="#1c1c1c" stroke-width="1.6" stroke-linejoin="round"/>
<polyline points="249.3,82.8 249.3,106.5" fill="none" stroke="#1c1c1c" stroke-width="1.6" stroke-linejoin="round"/>
<polyline points="105.0,68.0 111.0,68.0 198.8,114.5" fill="none" stroke="#1c1c1c" stroke-width="1.6" stroke-linejoin="round"/>
<polyline points="191.8,61.0 197.8,61.0 213.8,112.0" fill="none" stroke="#1c1c1c" stroke-width="1.6" stroke-linejoin="round"/>
<polyline points="217.5,100.0 223.8,100.0 231.0,108.8" fill="none" stroke="#1c1c1c" stroke-width="1.6" stroke-linejoin="round"/>
<polyline points="145.0,114.5 152.5,114.5 172.5,121.0" fill="none" stroke="#1c1c1c" stroke-width="1.6" stroke-linejoin="round"/>
<polyline points="107.0,140.5 115.0,140.5 127.5,144.0" fill="none" stroke="#1c1c1c" stroke-width="1.6" stroke-linejoin="round"/>
<text x="105.4" y="30.0" font-size="23.2" textLength="92.5" lengthAdjust="spacingAndGlyphs" class="t">ΜΕΡΙΔΙΟ</text>
<text x="207.7" y="30.0" font-size="23.2" textLength="78.3" lengthAdjust="spacingAndGlyphs" class="t">ΑΓΟΡΑΣ</text>
<text x="294.0" y="30.0" font-size="23.2" textLength="51.0" lengthAdjust="spacingAndGlyphs" class="t">2012</text>
<text x="429.4" y="33.2" font-size="13.7" textLength="43.5" lengthAdjust="spacingAndGlyphs" class="l" fill="#151515" stroke="#151515">ΓΑΛΛΙΑ</text>
<text x="441.2" y="48.7" font-size="13.7" textLength="20.0" lengthAdjust="spacingAndGlyphs" class="l" fill="#151515" stroke="#151515">1%</text>
<text x="315.8" y="55.3" font-size="13.7" textLength="42.5" lengthAdjust="spacingAndGlyphs" class="l" fill="#151515" stroke="#151515">ΠΕΡΟΥ</text>
<text x="327.0" y="70.2" font-size="13.7" textLength="20.0" lengthAdjust="spacingAndGlyphs" class="l" fill="#151515" stroke="#151515">1%</text>
<text x="204.6" y="63.6" font-size="13.7" textLength="79.9" lengthAdjust="spacingAndGlyphs" class="l" fill="#151515" stroke="#151515">ΠΟΡΤΟΓΑΛΙΑ</text>
<text x="234.6" y="79.5" font-size="13.7" textLength="20.0" lengthAdjust="spacingAndGlyphs" class="l" fill="#151515" stroke="#151515">1%</text>
<text x="31.9" y="68.2" font-size="13.7" textLength="71.7" lengthAdjust="spacingAndGlyphs" class="l" fill="#151515" stroke="#151515">ΑΡΓΕΝΤΙΝΗ</text>
<text x="57.8" y="83.8" font-size="13.7" textLength="20.0" lengthAdjust="spacingAndGlyphs" class="l" fill="#151515" stroke="#151515">2%</text>
<text x="125.5" y="62.0" font-size="13.7" textLength="62.7" lengthAdjust="spacingAndGlyphs" class="l" fill="#151515" stroke="#151515">ΑΙΓΥΠΤΟΣ</text>
<text x="146.8" y="77.0" font-size="13.7" textLength="20.0" lengthAdjust="spacingAndGlyphs" class="l" fill="#151515" stroke="#151515">2%</text>
<text x="176.4" y="85.0" font-size="13.7" textLength="55.2" lengthAdjust="spacingAndGlyphs" class="l" fill="#151515" stroke="#151515">ΤΟΥΡΚΙΑ</text>
<text x="194.0" y="100.5" font-size="13.7" textLength="20.0" lengthAdjust="spacingAndGlyphs" class="l" fill="#151515" stroke="#151515">3%</text>
<text x="99.4" y="115.0" font-size="13.7" textLength="42.2" lengthAdjust="spacingAndGlyphs" class="l" fill="#151515" stroke="#151515">ΙΤΑΛΙΑ</text>
<text x="110.5" y="130.0" font-size="13.7" textLength="20.0" lengthAdjust="spacingAndGlyphs" class="l" fill="#151515" stroke="#151515">4%</text>
<text x="51.4" y="141.8" font-size="13.7" textLength="53.7" lengthAdjust="spacingAndGlyphs" class="l" fill="#151515" stroke="#151515">ΜΑΡΟΚΟ</text>
<text x="64.5" y="157.0" font-size="13.7" textLength="27.5" lengthAdjust="spacingAndGlyphs" class="l" fill="#151515" stroke="#151515">10%</text>
<text x="329.9" y="187.8" font-size="13.7" textLength="51.0" lengthAdjust="spacingAndGlyphs" class="l" fill="#0e1c36" stroke="#0e1c36">ΙΣΠΑΝΙΑ</text>
<text x="341.6" y="202.7" font-size="13.7" textLength="27.5" lengthAdjust="spacingAndGlyphs" class="l" fill="#0e1c36" stroke="#0e1c36">51%</text>
<text x="171.7" y="212.7" font-size="13.7" textLength="48.7" lengthAdjust="spacingAndGlyphs" class="l" fill="#3a1012" stroke="#3a1012">ΕΛΛΑΔΑ</text>
<text x="182.2" y="227.6" font-size="13.7" textLength="27.5" lengthAdjust="spacingAndGlyphs" class="l" fill="#3a1012" stroke="#3a1012">25%</text>
<polygon points="793.9,170.5 786.3,109.1 786.4,138.1 793.9,203.2" fill="#3b3547"/>
<polygon points="793.9,170.5 793.9,109.0 793.9,138.0 793.9,203.2" fill="#27232f"/>
<polygon points="793.9,170.5 786.3,109.1 788.2,109.1 790.1,109.0 792.0,109.0 793.9,109.0" fill="url(#t1_9)" stroke="url(#t1_9)" stroke-width="0.5" stroke-linejoin="round"/>
<polyline points="786.3,109.1 793.9,170.5 793.9,109.0" fill="none" stroke="#4a4258" stroke-width="1.0" stroke-linejoin="round" stroke-linecap="round"/>
<polyline points="786.3,109.1 788.2,109.1 790.1,109.0 792.0,109.0 793.9,109.0" fill="none" stroke="#625876" stroke-width="0.9"/>
<polygon points="793.3,170.5 778.0,109.4 778.3,138.4 793.3,203.2" fill="#3e492d"/>
<polygon points="793.3,170.5 778.0,109.4 779.9,109.3 781.9,109.2 783.8,109.2 785.8,109.1" fill="url(#t1_8)" stroke="url(#t1_8)" stroke-width="0.5" stroke-linejoin="round"/>
<polyline points="778.0,109.4 793.3,170.5 785.8,109.1" fill="none" stroke="#4d5b38" stroke-width="1.0" stroke-linejoin="round" stroke-linecap="round"/>
<polyline points="778.0,109.4 779.9,109.3 781.9,109.2 783.8,109.2 785.8,109.1" fill="none" stroke="#67794a" stroke-width="0.9"/>
<polygon points="792.6,170.6 770.1,109.9 770.6,138.9 792.7,203.2" fill="#4d2c2c"/>
<polygon points="792.6,170.6 770.1,109.9 772.0,109.7 773.8,109.6 775.6,109.5 777.5,109.4" fill="url(#t1_7)" stroke="url(#t1_7)" stroke-width="0.5" stroke-linejoin="round"/>
<polyline points="770.1,109.9 792.6,170.6 777.5,109.4" fill="none" stroke="#603838" stroke-width="1.0" stroke-linejoin="round" stroke-linecap="round"/>
<polyline points="770.1,109.9 772.0,109.7 773.8,109.6 775.6,109.5 777.5,109.4" fill="none" stroke="#804a4a" stroke-width="0.9"/>
<polygon points="791.6,170.7 750.2,111.9 751.0,141.1 791.6,203.3" fill="#2a384c"/>
<polygon points="791.6,170.7 750.2,111.9 752.3,111.6 754.4,111.4 756.5,111.1 758.6,110.9 760.7,110.7 762.8,110.5 765.0,110.3 767.1,110.1 769.2,109.9" fill="url(#t1_6)" stroke="url(#t1_6)" stroke-width="0.5" stroke-linejoin="round"/>
<polyline points="750.2,111.9 791.6,170.7 769.2,109.9" fill="none" stroke="#354760" stroke-width="1.0" stroke-linejoin="round" stroke-linecap="round"/>
<polyline points="750.2,111.9 752.3,111.6 754.4,111.4 756.5,111.1 758.6,110.9 760.7,110.7 762.8,110.5 765.0,110.3 767.1,110.1 769.2,109.9" fill="none" stroke="#475e80" stroke-width="0.9"/>
<polygon points="790.5,170.8 741.1,113.3 742.0,142.6 790.6,203.5" fill="#512d0c"/>
<polygon points="790.5,170.8 741.1,113.3 743.1,112.9 745.2,112.6 747.2,112.3 749.3,112.0" fill="url(#t1_5)" stroke="url(#t1_5)" stroke-width="0.5" stroke-linejoin="round"/>
<polyline points="741.1,113.3 790.5,170.8 749.3,112.0" fill="none" stroke="#683a0f" stroke-width="1.0" stroke-linejoin="round" stroke-linecap="round"/>
<polyline points="741.1,113.3 743.1,112.9 745.2,112.6 747.2,112.3 749.3,112.0" fill="none" stroke="#8b4d14" stroke-width="0.9"/>
<polygon points="789.5,171.0 724.7,116.5 725.9,145.9 789.6,203.7" fill="#0f3541"/>
<polygon points="789.5,171.0 724.7,116.5 726.6,116.0 728.5,115.6 730.5,115.2 732.4,114.8 734.3,114.5 736.3,114.1 738.3,113.8 740.2,113.4" fill="url(#t1_4)" stroke="url(#t1_4)" stroke-width="0.5" stroke-linejoin="round"/>
<polyline points="724.7,116.5 789.5,171.0 740.2,113.4" fill="none" stroke="#144555" stroke-width="1.0" stroke-linejoin="round" stroke-linecap="round"/>
<polyline points="724.7,116.5 726.6,116.0 728.5,115.6 730.5,115.2 732.4,114.8 734.3,114.5 736.3,114.1 738.3,113.8 740.2,113.4" fill="none" stroke="#1a5c71" stroke-width="0.9"/>
<polygon points="787.6,171.6 688.8,127.5 690.7,157.6 787.7,204.3" fill="#35224c"/>
<polygon points="787.6,171.6 688.8,127.5 690.5,126.8 692.3,126.1 694.1,125.4 695.9,124.7 697.8,124.1 699.6,123.4 701.5,122.8 703.4,122.2 705.3,121.6 707.2,121.0 709.1,120.5 711.0,119.9 713.0,119.4 715.0,118.9 716.9,118.3 718.9,117.8 720.9,117.4 722.9,116.9" fill="url(#t1_3)" stroke="url(#t1_3)" stroke-width="0.5" stroke-linejoin="round"/>
<polyline points="688.8,127.5 787.6,171.6 722.9,116.9" fill="none" stroke="#2f1e44" stroke-width="1.0" stroke-linejoin="round" stroke-linecap="round"/>
<polyline points="688.8,127.5 690.5,126.8 692.3,126.1 694.1,125.4 695.9,124.7 697.8,124.1 699.6,123.4 701.5,122.8 703.4,122.2 705.3,121.6 707.2,121.0 709.1,120.5 711.0,119.9 713.0,119.4 715.0,118.9 716.9,118.3 718.9,117.8 720.9,117.4 722.9,116.9" fill="none" stroke="#3e285a" stroke-width="0.9"/>
<polygon points="784.6,173.4 637.0,164.1 640.2,196.4 784.8,206.2" fill="#374818"/>
<polygon points="784.6,173.4 637.0,164.1 637.8,163.0 638.6,161.8 639.5,160.6 640.4,159.5 641.4,158.3 642.4,157.2 643.4,156.1 644.4,155.0 645.5,153.9 646.7,152.8 647.8,151.7 649.0,150.6 650.2,149.6 651.5,148.5 652.7,147.5 654.0,146.5 655.4,145.5 656.8,144.5 658.2,143.5 659.6,142.5 661.0,141.6 662.5,140.6 664.0,139.7 665.5,138.8 667.1,137.9 668.7,137.0 670.3,136.1 671.9,135.3 673.5,134.4 675.2,133.6 676.9,132.8 678.6,132.0 680.4,131.2 682.1,130.4 683.9,129.7 685.7,128.9" fill="url(#t1_2)" stroke="url(#t1_2)" stroke-width="0.5" stroke-linejoin="round"/>
<polyline points="637.0,164.1 784.6,173.4 685.7,128.9" fill="none" stroke="#374817" stroke-width="1.0" stroke-linejoin="round" stroke-linecap="round"/>
<polyline points="637.0,164.1 637.8,163.0 638.6,161.8 639.5,160.6 640.4,159.5 641.4,158.3 642.4,157.2 643.4,156.1 644.4,155.0 645.5,153.9 646.7,152.8 647.8,151.7 649.0,150.6 650.2,149.6 651.5,148.5 652.7,147.5 654.0,146.5 655.4,145.5 656.8,144.5 658.2,143.5 659.6,142.5 661.0,141.6 662.5,140.6 664.0,139.7 665.5,138.8 667.1,137.9 668.7,137.0 670.3,136.1 671.9,135.3 673.5,134.4 675.2,133.6 676.9,132.8 678.6,132.0 680.4,131.2 682.1,130.4 683.9,129.7 685.7,128.9" fill="none" stroke="#49601f" stroke-width="0.9"/>
<polygon points="804.9,175.7 803.3,112.8 803.1,142.0 804.7,208.7" fill="#163050"/>
<polygon points="960.6,193.9 960.5,195.3 960.3,196.6 960.0,198.0 959.7,199.4 959.3,200.7 958.9,202.1 958.4,203.5 957.9,204.8 957.3,206.2 956.6,207.6 955.9,208.9 955.2,210.3 954.4,211.6 953.5,213.0 952.6,214.3 951.7,215.7 950.7,217.0 949.6,218.3 948.5,219.6 947.3,221.0 946.1,222.3 944.8,223.6 943.4,224.9 942.0,226.1 940.6,227.4 939.1,228.7 937.5,229.9 935.9,231.1 934.3,232.4 932.5,233.6 930.8,234.8 928.9,236.0 927.1,237.1 925.2,238.3 923.2,239.4 921.1,240.5 919.1,241.6 916.9,242.7 914.8,243.8 912.6,244.8 910.3,245.8 908.0,246.8 905.6,247.8 903.2,248.8 900.7,249.7 898.3,250.6 895.7,251.5 893.1,252.4 890.5,253.2 887.9,254.0 885.2,254.8 882.4,255.6 879.7,256.3 876.9,257.1 874.0,257.7 871.2,258.4 868.3,259.0 865.3,259.6 862.4,260.2 859.4,260.7 856.4,261.3 853.3,261.7 850.3,262.2 847.2,262.6 844.1,263.0 841.0,263.4 837.8,263.7 834.7,264.0 831.5,264.2 828.3,264.5 825.1,264.7 821.9,264.8 818.7,265.0 815.5,265.1 812.3,265.1 809.0,265.2 805.8,265.2 802.6,265.1 799.3,265.1 799.2,302.6 802.4,302.6 805.5,302.7 808.7,302.7 811.8,302.6 814.9,302.6 818.1,302.5 821.2,302.3 824.3,302.1 827.5,301.9 830.6,301.7 833.6,301.4 836.7,301.1 839.8,300.8 842.8,300.4 845.9,300.0 848.9,299.5 851.9,299.1 854.8,298.6 857.8,298.0 860.7,297.5 863.6,296.9 866.4,296.2 869.3,295.6 872.1,294.9 874.8,294.2 877.6,293.4 880.3,292.6 882.9,291.8 885.6,291.0 888.2,290.2 890.7,289.3 893.3,288.4 895.7,287.4 898.2,286.5 900.6,285.5 902.9,284.5 905.2,283.5 907.5,282.4 909.7,281.3 911.9,280.2 914.0,279.1 916.1,278.0 918.1,276.8 920.1,275.7 922.0,274.5 923.9,273.3 925.8,272.1 927.6,270.8 929.3,269.6 931.0,268.3 932.6,267.0 934.2,265.7 935.7,264.4 937.2,263.1 938.6,261.7 940.0,260.4 941.3,259.0 942.6,257.7 943.8,256.3 945.0,254.9 946.1,253.5 947.1,252.1 948.1,250.7 949.1,249.3 950.0,247.9 950.8,246.5 951.6,245.1 952.3,243.6 953.0,242.2 953.7,240.8 954.2,239.3 954.8,237.9 955.2,236.5 955.7,235.0 956.0,233.6 956.4,232.2 956.7,230.7 956.9,229.3 957.1,227.8" fill="url(#w1_0_104)"/>
<polygon points="804.9,175.7 803.3,112.8 805.6,112.8 807.8,112.8 810.1,112.9 812.4,112.9 814.7,113.0 816.9,113.1 819.2,113.2 821.4,113.3 823.7,113.5 826.0,113.6 828.2,113.8 830.5,114.0 832.7,114.2 835.0,114.4 837.2,114.6 839.4,114.9 841.6,115.1 843.9,115.4 846.1,115.7 848.3,116.0 850.5,116.4 852.7,116.7 854.9,117.1 857.0,117.5 859.2,117.9 861.3,118.3 863.5,118.7 865.6,119.1 867.7,119.6 869.9,120.1 872.0,120.6 874.0,121.1 876.1,121.6 878.2,122.1 880.2,122.7 882.3,123.3 884.3,123.8 886.3,124.4 888.3,125.1 890.3,125.7 892.2,126.3 894.2,127.0 896.1,127.7 898.0,128.4 899.9,129.1 901.8,129.8 903.6,130.6 905.5,131.3 907.3,132.1 909.1,132.9 910.9,133.7 912.6,134.5 914.3,135.3 916.1,136.2 917.7,137.0 919.4,137.9 921.0,138.8 922.7,139.7 924.2,140.6 925.8,141.5 927.3,142.5 928.9,143.5 930.3,144.4 931.8,145.4 933.2,146.4 934.6,147.4 936.0,148.5 937.3,149.5 938.6,150.6 939.9,151.6 941.2,152.7 942.4,153.8 943.5,154.9 944.7,156.0 945.8,157.1 946.9,158.3 947.9,159.4 948.9,160.6 949.9,161.8 950.8,162.9 951.7,164.1 952.6,165.3 953.4,166.6 954.2,167.8 954.9,169.0 955.6,170.3 956.3,171.5 956.9,172.8 957.5,174.1 958.0,175.3 958.5,176.6 958.9,177.9 959.3,179.2 959.7,180.5 960.0,181.8 960.2,183.2 960.5,184.5 960.6,185.8 960.8,187.2 960.8,188.5 960.9,189.9 960.8,191.2 960.8,192.6 960.6,193.9 960.5,195.3 960.3,196.6 960.0,198.0 959.7,199.4 959.3,200.7 958.9,202.1 958.4,203.5 957.9,204.8 957.3,206.2 956.6,207.6 955.9,208.9 955.2,210.3 954.4,211.6 953.5,213.0 952.6,214.3 951.7,215.7 950.7,217.0 949.6,218.3 948.5,219.6 947.3,221.0 946.1,222.3 944.8,223.6 943.4,224.9 942.0,226.1 940.6,227.4 939.1,228.7 937.5,229.9 935.9,231.1 934.3,232.4 932.5,233.6 930.8,234.8 928.9,236.0 927.1,237.1 925.2,238.3 923.2,239.4 921.1,240.5 919.1,241.6 916.9,242.7 914.8,243.8 912.6,244.8 910.3,245.8 908.0,246.8 905.6,247.8 903.2,248.8 900.7,249.7 898.3,250.6 895.7,251.5 893.1,252.4 890.5,253.2 887.9,254.0 885.2,254.8 882.4,255.6 879.7,256.3 876.9,257.1 874.0,257.7 871.2,258.4 868.3,259.0 865.3,259.6 862.4,260.2 859.4,260.7 856.4,261.3 853.3,261.7 850.3,262.2 847.2,262.6 844.1,263.0 841.0,263.4 837.8,263.7 834.7,264.0 831.5,264.2 828.3,264.5 825.1,264.7 821.9,264.8 818.7,265.0 815.5,265.1 812.3,265.1 809.0,265.2 805.8,265.2 802.6,265.1 799.3,265.1" fill="url(#t1_0)" stroke="url(#t1_0)" stroke-width="0.5" stroke-linejoin="round"/>
<polyline points="803.3,112.8 804.9,175.7 799.3,265.1" fill="none" stroke="#234c80" stroke-width="1.0" stroke-linejoin="round" stroke-linecap="round"/>
<polyline points="803.3,112.8 805.6,112.8 807.8,112.8 810.1,112.9 812.4,112.9 814.7,113.0 816.9,113.1 819.2,113.2 821.4,113.3 823.7,113.5 826.0,113.6 828.2,113.8 830.5,114.0 832.7,114.2 835.0,114.4 837.2,114.6 839.4,114.9 841.6,115.1 843.9,115.4 846.1,115.7 848.3,116.0 850.5,116.4 852.7,116.7 854.9,117.1 857.0,117.5 859.2,117.9 861.3,118.3 863.5,118.7 865.6,119.1 867.7,119.6 869.9,120.1 872.0,120.6 874.0,121.1 876.1,121.6 878.2,122.1 880.2,122.7 882.3,123.3 884.3,123.8 886.3,124.4 888.3,125.1 890.3,125.7 892.2,126.3 894.2,127.0 896.1,127.7 898.0,128.4 899.9,129.1 901.8,129.8 903.6,130.6 905.5,131.3 907.3,132.1 909.1,132.9 910.9,133.7 912.6,134.5 914.3,135.3 916.1,136.2 917.7,137.0 919.4,137.9 921.0,138.8 922.7,139.7 924.2,140.6 925.8,141.5 927.3,142.5 928.9,143.5 930.3,144.4 931.8,145.4 933.2,146.4 934.6,147.4 936.0,148.5 937.3,149.5 938.6,150.6 939.9,151.6 941.2,152.7 942.4,153.8 943.5,154.9 944.7,156.0 945.8,157.1 946.9,158.3 947.9,159.4 948.9,160.6 949.9,161.8 950.8,162.9 951.7,164.1 952.6,165.3 953.4,166.6 954.2,167.8 954.9,169.0 955.6,170.3 956.3,171.5 956.9,172.8 957.5,174.1 958.0,175.3 958.5,176.6 958.9,177.9 959.3,179.2 959.7,180.5 960.0,181.8 960.2,183.2 960.5,184.5 960.6,185.8 960.8,187.2 960.8,188.5 960.9,189.9 960.8,191.2 960.8,192.6" fill="none" stroke="#1d406b" stroke-width="0.9"/>
<polyline points="960.6,193.9 960.5,195.3 960.3,196.6 960.0,198.0 959.7,199.4 959.3,200.7 958.9,202.1 958.4,203.5 957.9,204.8 957.3,206.2 956.6,207.6 955.9,208.9 955.2,210.3 954.4,211.6 953.5,213.0 952.6,214.3 951.7,215.7 950.7,217.0 949.6,218.3 948.5,219.6 947.3,221.0 946.1,222.3 944.8,223.6 943.4,224.9 942.0,226.1 940.6,227.4 939.1,228.7 937.5,229.9 935.9,231.1 934.3,232.4 932.5,233.6 930.8,234.8 928.9,236.0 927.1,237.1 925.2,238.3 923.2,239.4 921.1,240.5 919.1,241.6 916.9,242.7 914.8,243.8 912.6,244.8 910.3,245.8 908.0,246.8 905.6,247.8 903.2,248.8 900.7,249.7 898.3,250.6 895.7,251.5 893.1,252.4 890.5,253.2 887.9,254.0 885.2,254.8 882.4,255.6 879.7,256.3 876.9,257.1 874.0,257.7 871.2,258.4 868.3,259.0 865.3,259.6 862.4,260.2 859.4,260.7 856.4,261.3 853.3,261.7 850.3,262.2 847.2,262.6 844.1,263.0 841.0,263.4 837.8,263.7 834.7,264.0 831.5,264.2 828.3,264.5 825.1,264.7 821.9,264.8 818.7,265.0 815.5,265.1 812.3,265.1 809.0,265.2 805.8,265.2 802.6,265.1 799.3,265.1" fill="none" stroke="#5e8bc3" stroke-width="1" stroke-opacity="0.55" transform="translate(0,0.9)"/>
<polygon points="786.0,178.9 776.3,269.8 776.8,307.5 786.1,212.1" fill="#992b27"/>
<polygon points="776.3,269.8 773.1,269.7 769.9,269.6 766.7,269.4 763.4,269.3 760.3,269.0 757.1,268.8 753.9,268.5 750.8,268.2 747.6,267.8 744.5,267.4 741.4,267.0 738.3,266.5 735.3,266.1 732.2,265.6 729.2,265.0 726.3,264.4 723.3,263.8 720.4,263.2 717.5,262.6 714.6,261.9 711.8,261.2 709.0,260.4 706.3,259.7 703.6,258.9 700.9,258.0 698.2,257.2 695.6,256.3 693.1,255.4 690.6,254.5 688.1,253.6 685.7,252.6 683.3,251.6 680.9,250.6 678.6,249.6 676.4,248.6 674.2,247.5 672.0,246.4 669.9,245.3 667.9,244.2 665.9,243.0 663.9,241.9 662.0,240.7 660.2,239.5 658.4,238.3 656.6,237.1 654.9,235.9 653.3,234.6 651.7,233.4 650.1,232.1 648.7,230.8 647.2,229.5 645.9,228.3 644.5,226.9 643.3,225.6 642.1,224.3 640.9,223.0 639.8,221.6 638.7,220.3 637.7,218.9 636.8,217.6 635.9,216.2 635.1,214.9 634.3,213.5 633.6,212.1 632.9,210.7 632.3,209.4 631.7,208.0 631.2,206.6 630.7,205.2 630.3,203.9 630.0,202.5 629.6,201.1 629.4,199.7 629.2,198.4 632.8,232.5 633.0,234.0 633.2,235.4 633.6,236.9 633.9,238.3 634.3,239.8 634.8,241.2 635.3,242.7 635.9,244.1 636.5,245.6 637.2,247.0 637.9,248.5 638.7,249.9 639.5,251.3 640.4,252.8 641.3,254.2 642.3,255.6 643.3,257.0 644.4,258.4 645.6,259.8 646.7,261.2 648.0,262.6 649.3,264.0 650.6,265.3 652.1,266.7 653.5,268.0 655.0,269.4 656.6,270.7 658.2,272.0 659.9,273.3 661.6,274.5 663.3,275.8 665.2,277.0 667.0,278.3 668.9,279.5 670.9,280.7 672.9,281.9 675.0,283.0 677.1,284.1 679.2,285.3 681.4,286.4 683.7,287.4 686.0,288.5 688.3,289.5 690.7,290.5 693.1,291.5 695.6,292.5 698.1,293.4 700.6,294.3 703.2,295.2 705.8,296.1 708.5,296.9 711.1,297.7 713.9,298.5 716.6,299.2 719.4,299.9 722.2,300.6 725.1,301.3 728.0,301.9 730.9,302.5 733.8,303.1 736.7,303.6 739.7,304.1 742.7,304.6 745.7,305.0 748.8,305.4 751.8,305.8 754.9,306.1 758.0,306.4 761.1,306.7 764.2,306.9 767.3,307.1 770.5,307.3 773.6,307.4 776.8,307.5" fill="url(#w1_1_0)"/>
<polygon points="786.0,178.9 776.3,269.8 773.1,269.7 769.9,269.6 766.7,269.4 763.4,269.3 760.3,269.0 757.1,268.8 753.9,268.5 750.8,268.2 747.6,267.8 744.5,267.4 741.4,267.0 738.3,266.5 735.3,266.1 732.2,265.6 729.2,265.0 726.3,264.4 723.3,263.8 720.4,263.2 717.5,262.6 714.6,261.9 711.8,261.2 709.0,260.4 706.3,259.7 703.6,258.9 700.9,258.0 698.2,257.2 695.6,256.3 693.1,255.4 690.6,254.5 688.1,253.6 685.7,252.6 683.3,251.6 680.9,250.6 678.6,249.6 676.4,248.6 674.2,247.5 672.0,246.4 669.9,245.3 667.9,244.2 665.9,243.0 663.9,241.9 662.0,240.7 660.2,239.5 658.4,238.3 656.6,237.1 654.9,235.9 653.3,234.6 651.7,233.4 650.1,232.1 648.7,230.8 647.2,229.5 645.9,228.3 644.5,226.9 643.3,225.6 642.1,224.3 640.9,223.0 639.8,221.6 638.7,220.3 637.7,218.9 636.8,217.6 635.9,216.2 635.1,214.9 634.3,213.5 633.6,212.1 632.9,210.7 632.3,209.4 631.7,208.0 631.2,206.6 630.7,205.2 630.3,203.9 630.0,202.5 629.6,201.1 629.4,199.7 629.2,198.4 629.0,197.0 628.9,195.6 628.8,194.2 628.8,192.9 628.9,191.5 629.0,190.2 629.1,188.8 629.3,187.5 629.5,186.1 629.8,184.8 630.1,183.5 630.5,182.2 630.9,180.9 631.3,179.6 631.8,178.3 632.3,177.0 632.9,175.7 633.5,174.4 634.2,173.2 634.9,171.9 635.7,170.7 636.4,169.4" fill="url(#t1_1)" stroke="url(#t1_1)" stroke-width="0.5" stroke-linejoin="round"/>
<polyline points="776.3,269.8 786.0,178.9 636.4,169.4" fill="none" stroke="#832522" stroke-width="1.0" stroke-linejoin="round" stroke-linecap="round"/>
<polyline points="629.0,197.0 628.9,195.6 628.8,194.2 628.8,192.9 628.9,191.5 629.0,190.2 629.1,188.8 629.3,187.5 629.5,186.1 629.8,184.8 630.1,183.5 630.5,182.2 630.9,180.9 631.3,179.6 631.8,178.3 632.3,177.0 632.9,175.7 633.5,174.4 634.2,173.2 634.9,171.9 635.7,170.7 636.4,169.4" fill="none" stroke="#6d1f1c" stroke-width="0.9"/>
<polyline points="776.3,269.8 773.1,269.7 769.9,269.6 766.7,269.4 763.4,269.3 760.3,269.0 757.1,268.8 753.9,268.5 750.8,268.2 747.6,267.8 744.5,267.4 741.4,267.0 738.3,266.5 735.3,266.1 732.2,265.6 729.2,265.0 726.3,264.4 723.3,263.8 720.4,263.2 717.5,262.6 714.6,261.9 711.8,261.2 709.0,260.4 706.3,259.7 703.6,258.9 700.9,258.0 698.2,257.2 695.6,256.3 693.1,255.4 690.6,254.5 688.1,253.6 685.7,252.6 683.3,251.6 680.9,250.6 678.6,249.6 676.4,248.6 674.2,247.5 672.0,246.4 669.9,245.3 667.9,244.2 665.9,243.0 663.9,241.9 662.0,240.7 660.2,239.5 658.4,238.3 656.6,237.1 654.9,235.9 653.3,234.6 651.7,233.4 650.1,232.1 648.7,230.8 647.2,229.5 645.9,228.3 644.5,226.9 643.3,225.6 642.1,224.3 640.9,223.0 639.8,221.6 638.7,220.3 637.7,218.9 636.8,217.6 635.9,216.2 635.1,214.9 634.3,213.5 633.6,212.1 632.9,210.7 632.3,209.4 631.7,208.0 631.2,206.6 630.7,205.2 630.3,203.9 630.0,202.5 629.6,201.1 629.4,199.7 629.2,198.4" fill="none" stroke="#c6605d" stroke-width="1" stroke-opacity="0.55" transform="translate(0,0.9)"/>
<polyline points="657.5,57.7 663.0,57.7 742.0,111.2" fill="none" stroke="#1c1c1c" stroke-width="1.6" stroke-linejoin="round"/>
<polyline points="710.8,69.2 717.0,69.2 730.5,113.8" fill="none" stroke="#1c1c1c" stroke-width="1.6" stroke-linejoin="round"/>
<polyline points="758.7,73.7 758.7,109.0" fill="none" stroke="#1c1c1c" stroke-width="1.6" stroke-linejoin="round"/>
<polyline points="809.8,72.4 803.6,72.4 781.9,109.3" fill="none" stroke="#1c1c1c" stroke-width="1.6" stroke-linejoin="round"/>
<polyline points="867.1,61.9 860.9,61.9 789.9,108.5" fill="none" stroke="#1c1c1c" stroke-width="1.6" stroke-linejoin="round"/>
<polyline points="692.0,117.3 697.5,117.3 703.0,120.6" fill="none" stroke="#1c1c1c" stroke-width="1.6" stroke-linejoin="round"/>
<polyline points="613.0,167.0 618.8,167.0 657.0,144.5" fill="none" stroke="#1c1c1c" stroke-width="1.6" stroke-linejoin="round"/>
<text x="637.5" y="31.5" font-size="21.6" textLength="86.5" lengthAdjust="spacingAndGlyphs" class="t">ΜΕΡΙΔΙΟ</text>
<text x="733.2" y="31.5" font-size="21.6" textLength="73.3" lengthAdjust="spacingAndGlyphs" class="t">ΑΓΟΡΑΣ</text>
<text x="813.9" y="31.5" font-size="21.6" textLength="47.7" lengthAdjust="spacingAndGlyphs" class="t">2013</text>
<text x="596.5" y="57.5" font-size="13.1" textLength="59.0" lengthAdjust="spacingAndGlyphs" class="l" fill="#151515" stroke="#151515">ΑΙΓΥΠΤΟΣ</text>
<text x="616.6" y="72.5" font-size="13.1" textLength="18.8" lengthAdjust="spacingAndGlyphs" class="l" fill="#151515" stroke="#151515">1%</text>
<text x="664.5" y="54.2" font-size="13.1" textLength="67.5" lengthAdjust="spacingAndGlyphs" class="l" fill="#151515" stroke="#151515">ΑΡΓΕΝΤΙΝΗ</text>
<text x="688.8" y="69.5" font-size="13.1" textLength="18.8" lengthAdjust="spacingAndGlyphs" class="l" fill="#151515" stroke="#151515">2%</text>
<text x="735.2" y="55.8" font-size="13.1" textLength="52.0" lengthAdjust="spacingAndGlyphs" class="l" fill="#151515" stroke="#151515">ΤΟΥΡΚΙΑ</text>
<text x="751.8" y="70.8" font-size="13.1" textLength="18.8" lengthAdjust="spacingAndGlyphs" class="l" fill="#151515" stroke="#151515">2%</text>
<text x="800.3" y="57.9" font-size="13.1" textLength="40.0" lengthAdjust="spacingAndGlyphs" class="l" fill="#151515" stroke="#151515">ΠΕΡΟΥ</text>
<text x="810.9" y="72.9" font-size="13.1" textLength="18.8" lengthAdjust="spacingAndGlyphs" class="l" fill="#151515" stroke="#151515">1%</text>
<text x="869.5" y="61.9" font-size="13.1" textLength="41.0" lengthAdjust="spacingAndGlyphs" class="l" fill="#151515" stroke="#151515">ΓΑΛΛΙΑ</text>
<text x="880.6" y="76.9" font-size="13.1" textLength="18.8" lengthAdjust="spacingAndGlyphs" class="l" fill="#151515" stroke="#151515">1%</text>
<text x="733.9" y="87.6" font-size="13.1" textLength="75.2" lengthAdjust="spacingAndGlyphs" class="l" fill="#151515" stroke="#151515">ΠΟΡΤΟΓΑΛΙΑ</text>
<text x="762.1" y="102.6" font-size="13.1" textLength="18.8" lengthAdjust="spacingAndGlyphs" class="l" fill="#151515" stroke="#151515">1%</text>
<text x="660.0" y="101.2" font-size="13.1" textLength="39.7" lengthAdjust="spacingAndGlyphs" class="l" fill="#151515" stroke="#151515">ΙΤΑΛΙΑ</text>
<text x="670.5" y="116.2" font-size="13.1" textLength="18.8" lengthAdjust="spacingAndGlyphs" class="l" fill="#151515" stroke="#151515">5%</text>
<text x="559.9" y="167.0" font-size="13.1" textLength="50.5" lengthAdjust="spacingAndGlyphs" class="l" fill="#151515" stroke="#151515">ΜΑΡΟΚΟ</text>
<text x="575.8" y="182.0" font-size="13.1" textLength="18.8" lengthAdjust="spacingAndGlyphs" class="l" fill="#151515" stroke="#151515">9%</text>
<text x="841.2" y="184.5" font-size="13.1" textLength="48.0" lengthAdjust="spacingAndGlyphs" class="l" fill="#0e1c36" stroke="#0e1c36">ΙΣΠΑΝΙΑ</text>
<text x="852.3" y="199.5" font-size="13.1" textLength="25.8" lengthAdjust="spacingAndGlyphs" class="l" fill="#0e1c36" stroke="#0e1c36">51%</text>
<text x="672.8" y="217.0" font-size="13.1" textLength="45.9" lengthAdjust="spacingAndGlyphs" class="l" fill="#3a1012" stroke="#3a1012">ΕΛΛΑΔΑ</text>
<text x="682.8" y="232.3" font-size="13.1" textLength="25.8" lengthAdjust="spacingAndGlyphs" class="l" fill="#3a1012" stroke="#3a1012">27%</text>
<polygon points="256.4,550.4 248.6,489.1 248.8,516.5 256.4,581.3" fill="#3b3547"/>
<polygon points="256.4,550.4 256.5,489.0 256.5,516.4 256.4,581.3" fill="#27232f"/>
<polygon points="256.4,550.4 248.6,489.1 250.6,489.1 252.5,489.0 254.5,489.0 256.5,489.0" fill="url(#t2_9)" stroke="url(#t2_9)" stroke-width="0.5" stroke-linejoin="round"/>
<polyline points="248.6,489.1 256.4,550.4 256.5,489.0" fill="none" stroke="#4a4258" stroke-width="1.0" stroke-linejoin="round" stroke-linecap="round"/>
<polyline points="248.6,489.1 250.6,489.1 252.5,489.0 254.5,489.0 256.5,489.0" fill="none" stroke="#625876" stroke-width="0.9"/>
<polygon points="255.9,550.5 240.3,489.4 240.5,516.9 255.9,581.3" fill="#3e492d"/>
<polygon points="255.9,550.5 240.3,489.4 242.2,489.3 244.2,489.2 246.2,489.2 248.2,489.1" fill="url(#t2_8)" stroke="url(#t2_8)" stroke-width="0.5" stroke-linejoin="round"/>
<polyline points="240.3,489.4 255.9,550.5 248.2,489.1" fill="none" stroke="#4d5b38" stroke-width="1.0" stroke-linejoin="round" stroke-linecap="round"/>
<polyline points="240.3,489.4 242.2,489.3 244.2,489.2 246.2,489.2 248.2,489.1" fill="none" stroke="#67794a" stroke-width="0.9"/>
<polygon points="255.3,550.5 233.4,489.8 233.8,517.3 255.4,581.3" fill="#4d2c2c"/>
<polygon points="255.3,550.5 233.4,489.8 235.6,489.7 237.7,489.5 239.8,489.4" fill="url(#t2_7)" stroke="url(#t2_7)" stroke-width="0.5" stroke-linejoin="round"/>
<polyline points="233.4,489.8 255.3,550.5 239.8,489.4" fill="none" stroke="#603838" stroke-width="1.0" stroke-linejoin="round" stroke-linecap="round"/>
<polyline points="233.4,489.8 235.6,489.7 237.7,489.5 239.8,489.4" fill="none" stroke="#804a4a" stroke-width="0.9"/>
<polygon points="254.5,550.6 215.5,491.6 216.2,519.2 254.5,581.4" fill="#2a384c"/>
<polygon points="254.5,550.6 215.5,491.6 217.7,491.3 219.8,491.1 221.9,490.8 224.1,490.6 226.2,490.4 228.4,490.2 230.5,490.0 232.7,489.9" fill="url(#t2_6)" stroke="url(#t2_6)" stroke-width="0.5" stroke-linejoin="round"/>
<polyline points="215.5,491.6 254.5,550.6 232.7,489.9" fill="none" stroke="#354760" stroke-width="1.0" stroke-linejoin="round" stroke-linecap="round"/>
<polyline points="215.5,491.6 217.7,491.3 219.8,491.1 221.9,490.8 224.1,490.6 226.2,490.4 228.4,490.2 230.5,490.0 232.7,489.9" fill="none" stroke="#475e80" stroke-width="0.9"/>
<polygon points="253.7,550.7 208.7,492.5 209.5,520.2 253.7,581.6" fill="#522d0c"/>
<polygon points="253.7,550.7 208.7,492.5 210.8,492.2 212.8,491.9 214.8,491.7" fill="url(#t2_5)" stroke="url(#t2_5)" stroke-width="0.5" stroke-linejoin="round"/>
<polyline points="208.7,492.5 253.7,550.7 214.8,491.7" fill="none" stroke="#683a0f" stroke-width="1.0" stroke-linejoin="round" stroke-linecap="round"/>
<polyline points="208.7,492.5 210.8,492.2 212.8,491.9 214.8,491.7" fill="none" stroke="#8b4d14" stroke-width="0.9"/>
<polygon points="253.4,550.7 206.6,492.9 207.5,520.5 253.5,581.6" fill="#0f3642"/>
<polygon points="253.4,550.7 206.6,492.9 207.6,492.7 208.5,492.6" fill="url(#t2_4)" stroke="url(#t2_4)" stroke-width="0.5" stroke-linejoin="round"/>
<polyline points="206.6,492.9 253.4,550.7 208.5,492.6" fill="none" stroke="#144555" stroke-width="1.0" stroke-linejoin="round" stroke-linecap="round"/>
<polyline points="206.6,492.9 207.6,492.7 208.5,492.6" fill="none" stroke="#1a5c71" stroke-width="0.9"/>
<polygon points="252.0,551.0 168.0,501.9 169.5,530.0 252.1,581.9" fill="#36224e"/>
<polygon points="252.0,551.0 168.0,501.9 169.8,501.3 171.7,500.7 173.6,500.1 175.5,499.6 177.4,499.1 179.4,498.5 181.3,498.0 183.2,497.5 185.2,497.1 187.2,496.6 189.2,496.2 191.2,495.7 193.2,495.3 195.2,494.9 197.2,494.5 199.3,494.1 201.3,493.8 203.3,493.4 205.4,493.1" fill="url(#t2_3)" stroke="url(#t2_3)" stroke-width="0.5" stroke-linejoin="round"/>
<polyline points="168.0,501.9 252.0,551.0 205.4,493.1" fill="none" stroke="#2f1e44" stroke-width="1.0" stroke-linejoin="round" stroke-linecap="round"/>
<polyline points="168.0,501.9 169.8,501.3 171.7,500.7 173.6,500.1 175.5,499.6 177.4,499.1 179.4,498.5 181.3,498.0 183.2,497.5 185.2,497.1 187.2,496.6 189.2,496.2 191.2,495.7 193.2,495.3 195.2,494.9 197.2,494.5 199.3,494.1 201.3,493.8 203.3,493.4 205.4,493.1" fill="none" stroke="#3e285a" stroke-width="0.9"/>
<polygon points="249.0,552.4 111.2,532.7 113.9,562.6 249.1,583.4" fill="#394b18"/>
<polygon points="249.0,552.4 111.2,532.7 112.3,531.6 113.5,530.5 114.7,529.5 115.9,528.4 117.2,527.4 118.5,526.3 119.8,525.3 121.1,524.3 122.5,523.3 123.9,522.3 125.4,521.3 126.8,520.4 128.3,519.4 129.9,518.5 131.4,517.6 133.0,516.7 134.6,515.8 136.2,514.9 137.8,514.1 139.5,513.2 141.2,512.4 142.9,511.6 144.7,510.8 146.4,510.0 148.2,509.2 150.0,508.4 151.8,507.7 153.6,507.0 155.5,506.3 157.4,505.6 159.3,504.9 161.2,504.2 163.1,503.6 165.1,502.9" fill="url(#t2_2)" stroke="url(#t2_2)" stroke-width="0.5" stroke-linejoin="round"/>
<polyline points="111.2,532.7 249.0,552.4 165.1,502.9" fill="none" stroke="#374817" stroke-width="1.0" stroke-linejoin="round" stroke-linecap="round"/>
<polyline points="111.2,532.7 112.3,531.6 113.5,530.5 114.7,529.5 115.9,528.4 117.2,527.4 118.5,526.3 119.8,525.3 121.1,524.3 122.5,523.3 123.9,522.3 125.4,521.3 126.8,520.4 128.3,519.4 129.9,518.5 131.4,517.6 133.0,516.7 134.6,515.8 136.2,514.9 137.8,514.1 139.5,513.2 141.2,512.4 142.9,511.6 144.7,510.8 146.4,510.0 148.2,509.2 150.0,508.4 151.8,507.7 153.6,507.0 155.5,506.3 157.4,505.6 159.3,504.9 161.2,504.2 163.1,503.6 165.1,502.9" fill="none" stroke="#49601f" stroke-width="0.9"/>
<polygon points="266.0,555.2 264.6,492.5 264.5,520.1 265.8,586.4" fill="#163050"/>
<polygon points="420.6,573.8 420.4,575.1 420.2,576.5 419.9,577.9 419.6,579.2 419.2,580.6 418.7,582.0 418.3,583.3 417.7,584.7 417.1,586.0 416.4,587.4 415.7,588.8 415.0,590.1 414.2,591.5 413.3,592.8 412.4,594.2 411.4,595.5 410.4,596.8 409.3,598.2 408.1,599.5 406.9,600.8 405.7,602.1 404.4,603.4 403.0,604.7 401.6,606.0 400.2,607.2 398.6,608.5 397.1,609.7 395.4,611.0 393.8,612.2 392.0,613.4 390.3,614.6 388.4,615.8 386.5,616.9 384.6,618.1 382.6,619.2 380.6,620.3 378.5,621.4 376.3,622.5 374.2,623.5 371.9,624.6 369.6,625.6 367.3,626.6 364.9,627.5 362.5,628.5 360.1,629.4 357.6,630.3 355.0,631.2 352.4,632.1 349.8,632.9 347.1,633.7 344.4,634.5 341.7,635.2 338.9,636.0 336.1,636.7 333.3,637.4 330.4,638.0 327.5,638.6 324.6,639.2 321.6,639.8 318.6,640.3 315.6,640.8 312.6,641.3 309.5,641.7 306.4,642.1 303.3,642.5 300.2,642.8 297.1,643.1 293.9,643.4 290.7,643.7 287.6,643.9 284.4,644.1 281.2,644.2 278.0,644.3 274.8,644.4 271.6,644.5 268.4,644.5 265.1,644.5 261.9,644.4 258.7,644.4 255.5,644.3 252.3,644.1 249.1,643.9 245.9,643.7 242.7,643.5 239.6,643.2 240.0,678.6 243.1,678.9 246.2,679.1 249.3,679.3 252.4,679.5 255.5,679.7 258.7,679.8 261.8,679.9 264.9,679.9 268.1,679.9 271.2,679.9 274.4,679.8 277.5,679.8 280.6,679.6 283.7,679.5 286.8,679.3 289.9,679.1 293.0,678.8 296.1,678.5 299.2,678.2 302.2,677.8 305.2,677.4 308.3,677.0 311.2,676.5 314.2,676.0 317.2,675.5 320.1,675.0 323.0,674.4 325.8,673.8 328.7,673.1 331.5,672.5 334.3,671.7 337.0,671.0 339.7,670.3 342.4,669.5 345.0,668.6 347.6,667.8 350.2,666.9 352.7,666.0 355.2,665.1 357.7,664.2 360.1,663.2 362.5,662.2 364.8,661.2 367.1,660.1 369.3,659.1 371.5,658.0 373.6,656.9 375.7,655.8 377.8,654.6 379.8,653.5 381.7,652.3 383.6,651.1 385.5,649.9 387.3,648.6 389.0,647.4 390.7,646.1 392.4,644.9 394.0,643.6 395.5,642.3 397.0,640.9 398.4,639.6 399.8,638.3 401.2,636.9 402.5,635.6 403.7,634.2 404.9,632.8 406.0,631.4 407.1,630.1 408.1,628.7 409.0,627.3 410.0,625.8 410.8,624.4 411.6,623.0 412.4,621.6 413.1,620.2 413.7,618.7 414.3,617.3 414.9,615.9 415.4,614.4 415.8,613.0 416.2,611.6 416.5,610.1 416.8,608.7 417.1,607.3 417.3,605.8" fill="url(#w2_0_104)"/>
<polygon points="266.0,555.2 264.6,492.5 266.9,492.5 269.1,492.5 271.4,492.6 273.7,492.6 275.9,492.7 278.2,492.8 280.4,492.9 282.7,493.0 284.9,493.2 287.2,493.3 289.4,493.5 291.7,493.7 293.9,493.9 296.1,494.1 298.4,494.3 300.6,494.6 302.8,494.8 305.0,495.1 307.2,495.4 309.4,495.7 311.6,496.1 313.8,496.4 315.9,496.8 318.1,497.2 320.3,497.6 322.4,498.0 324.5,498.4 326.7,498.9 328.8,499.3 330.9,499.8 333.0,500.3 335.0,500.8 337.1,501.3 339.2,501.9 341.2,502.4 343.2,503.0 345.2,503.6 347.2,504.2 349.2,504.8 351.2,505.4 353.1,506.1 355.1,506.7 357.0,507.4 358.9,508.1 360.8,508.8 362.6,509.6 364.5,510.3 366.3,511.1 368.1,511.8 369.9,512.6 371.6,513.4 373.4,514.3 375.1,515.1 376.8,515.9 378.5,516.8 380.1,517.7 381.7,518.6 383.3,519.5 384.9,520.4 386.5,521.3 388.0,522.3 389.5,523.2 390.9,524.2 392.4,525.2 393.8,526.2 395.2,527.2 396.5,528.2 397.9,529.3 399.2,530.3 400.4,531.4 401.6,532.5 402.8,533.6 404.0,534.7 405.1,535.8 406.2,536.9 407.3,538.1 408.3,539.2 409.3,540.4 410.3,541.6 411.2,542.8 412.1,544.0 412.9,545.2 413.7,546.4 414.5,547.6 415.2,548.9 415.9,550.1 416.5,551.4 417.1,552.6 417.7,553.9 418.2,555.2 418.7,556.5 419.1,557.8 419.5,559.1 419.8,560.4 420.1,561.7 420.4,563.0 420.6,564.3 420.7,565.7 420.8,567.0 420.9,568.4 420.9,569.7 420.9,571.1 420.8,572.4 420.6,573.8 420.4,575.1 420.2,576.5 419.9,577.9 419.6,579.2 419.2,580.6 418.7,582.0 418.3,583.3 417.7,584.7 417.1,586.0 416.4,587.4 415.7,588.8 415.0,590.1 414.2,591.5 413.3,592.8 412.4,594.2 411.4,595.5 410.4,596.8 409.3,598.2 408.1,599.5 406.9,600.8 405.7,602.1 404.4,603.4 403.0,604.7 401.6,606.0 400.2,607.2 398.6,608.5 397.1,609.7 395.4,611.0 393.8,612.2 392.0,613.4 390.3,614.6 388.4,615.8 386.5,616.9 384.6,618.1 382.6,619.2 380.6,620.3 378.5,621.4 376.3,622.5 374.2,623.5 371.9,624.6 369.6,625.6 367.3,626.6 364.9,627.5 362.5,628.5 360.1,629.4 357.6,630.3 355.0,631.2 352.4,632.1 349.8,632.9 347.1,633.7 344.4,634.5 341.7,635.2 338.9,636.0 336.1,636.7 333.3,637.4 330.4,638.0 327.5,638.6 324.6,639.2 321.6,639.8 318.6,640.3 315.6,640.8 312.6,641.3 309.5,641.7 306.4,642.1 303.3,642.5 300.2,642.8 297.1,643.1 293.9,643.4 290.7,643.7 287.6,643.9 284.4,644.1 281.2,644.2 278.0,644.3 274.8,644.4 271.6,644.5 268.4,644.5 265.1,644.5 261.9,644.4 258.7,644.4 255.5,644.3 252.3,644.1 249.1,643.9 245.9,643.7 242.7,643.5 239.6,643.2" fill="url(#t2_0)" stroke="url(#t2_0)" stroke-width="0.5" stroke-linejoin="round"/>
<polyline points="264.6,492.5 266.0,555.2 239.6,643.2" fill="none" stroke="#234c80" stroke-width="1.0" stroke-linejoin="round" stroke-linecap="round"/>
<polyline points="264.6,492.5 266.9,492.5 269.1,492.5 271.4,492.6 273.7,492.6 275.9,492.7 278.2,492.8 280.4,492.9 282.7,493.0 284.9,493.2 287.2,493.3 289.4,493.5 291.7,493.7 293.9,493.9 296.1,494.1 298.4,494.3 300.6,494.6 302.8,494.8 305.0,495.1 307.2,495.4 309.4,495.7 311.6,496.1 313.8,496.4 315.9,496.8 318.1,497.2 320.3,497.6 322.4,498.0 324.5,498.4 326.7,498.9 328.8,499.3 330.9,499.8 333.0,500.3 335.0,500.8 337.1,501.3 339.2,501.9 341.2,502.4 343.2,503.0 345.2,503.6 347.2,504.2 349.2,504.8 351.2,505.4 353.1,506.1 355.1,506.7 357.0,507.4 358.9,508.1 360.8,508.8 362.6,509.6 364.5,510.3 366.3,511.1 368.1,511.8 369.9,512.6 371.6,513.4 373.4,514.3 375.1,515.1 376.8,515.9 378.5,516.8 380.1,517.7 381.7,518.6 383.3,519.5 384.9,520.4 386.5,521.3 388.0,522.3 389.5,523.2 390.9,524.2 392.4,525.2 393.8,526.2 395.2,527.2 396.5,528.2 397.9,529.3 399.2,530.3 400.4,531.4 401.6,532.5 402.8,533.6 404.0,534.7 405.1,535.8 406.2,536.9 407.3,538.1 408.3,539.2 409.3,540.4 410.3,541.6 411.2,542.8 412.1,544.0 412.9,545.2 413.7,546.4 414.5,547.6 415.2,548.9 415.9,550.1 416.5,551.4 417.1,552.6 417.7,553.9 418.2,555.2 418.7,556.5 419.1,557.8 419.5,559.1 419.8,560.4 420.1,561.7 420.4,563.0 420.6,564.3 420.7,565.7 420.8,567.0 420.9,568.4 420.9,569.7 420.9,571.1 420.8,572.4" fill="none" stroke="#1d406b" stroke-width="0.9"/>
<polyline points="420.6,573.8 420.4,575.1 420.2,576.5 419.9,577.9 419.6,579.2 419.2,580.6 418.7,582.0 418.3,583.3 417.7,584.7 417.1,586.0 416.4,587.4 415.7,588.8 415.0,590.1 414.2,591.5 413.3,592.8 412.4,594.2 411.4,595.5 410.4,596.8 409.3,598.2 408.1,599.5 406.9,600.8 405.7,602.1 404.4,603.4 403.0,604.7 401.6,606.0 400.2,607.2 398.6,608.5 397.1,609.7 395.4,611.0 393.8,612.2 392.0,613.4 390.3,614.6 388.4,615.8 386.5,616.9 384.6,618.1 382.6,619.2 380.6,620.3 378.5,621.4 376.3,622.5 374.2,623.5 371.9,624.6 369.6,625.6 367.3,626.6 364.9,627.5 362.5,628.5 360.1,629.4 357.6,630.3 355.0,631.2 352.4,632.1 349.8,632.9 347.1,633.7 344.4,634.5 341.7,635.2 338.9,636.0 336.1,636.7 333.3,637.4 330.4,638.0 327.5,638.6 324.6,639.2 321.6,639.8 318.6,640.3 315.6,640.8 312.6,641.3 309.5,641.7 306.4,642.1 303.3,642.5 300.2,642.8 297.1,643.1 293.9,643.4 290.7,643.7 287.6,643.9 284.4,644.1 281.2,644.2 278.0,644.3 274.8,644.4 271.6,644.5 268.4,644.5 265.1,644.5 261.9,644.4 258.7,644.4 255.5,644.3 252.3,644.1 249.1,643.9 245.9,643.7 242.7,643.5 239.6,643.2" fill="none" stroke="#5e8bc3" stroke-width="1" stroke-opacity="0.55" transform="translate(0,0.9)"/>
<polygon points="248.8,557.3 218.6,646.2 219.5,681.7 248.9,588.5" fill="#992b27"/>
<polygon points="218.6,646.2 215.4,645.9 212.3,645.6 209.2,645.2 206.1,644.8 203.0,644.4 199.9,643.9 196.9,643.4 193.9,642.9 190.9,642.3 188.0,641.8 185.1,641.1 182.2,640.5 179.3,639.8 176.5,639.1 173.7,638.4 170.9,637.6 168.2,636.9 165.5,636.1 162.9,635.2 160.3,634.4 157.7,633.5 155.2,632.6 152.7,631.6 150.3,630.7 147.9,629.7 145.5,628.7 143.2,627.7 141.0,626.7 138.7,625.6 136.6,624.5 134.5,623.4 132.4,622.3 130.4,621.2 128.4,620.0 126.5,618.9 124.7,617.7 122.8,616.5 121.1,615.3 119.4,614.1 117.7,612.8 116.1,611.6 114.6,610.3 113.1,609.0 111.7,607.8 110.3,606.5 109.0,605.2 107.7,603.9 106.5,602.5 105.3,601.2 104.2,599.9 103.1,598.5 102.1,597.2 101.2,595.8 100.3,594.5 99.4,593.1 98.7,591.7 97.9,590.4 97.2,589.0 96.6,587.6 96.0,586.3 95.5,584.9 95.1,583.5 94.6,582.1 94.3,580.8 94.0,579.4 93.7,578.0 93.5,576.6 96.9,608.8 97.1,610.3 97.3,611.7 97.7,613.2 98.0,614.6 98.4,616.1 98.9,617.5 99.4,618.9 100.0,620.4 100.6,621.8 101.3,623.3 102.0,624.7 102.8,626.1 103.6,627.6 104.5,629.0 105.5,630.4 106.4,631.8 107.5,633.2 108.6,634.6 109.7,636.0 110.9,637.4 112.2,638.8 113.5,640.1 114.9,641.5 116.3,642.8 117.7,644.2 119.3,645.5 120.8,646.8 122.5,648.1 124.1,649.4 125.8,650.6 127.6,651.9 129.4,653.1 131.3,654.4 133.2,655.6 135.2,656.7 137.2,657.9 139.3,659.0 141.4,660.2 143.6,661.3 145.8,662.4 148.1,663.4 150.4,664.5 152.7,665.5 155.1,666.5 157.5,667.5 160.0,668.4 162.5,669.3 165.1,670.2 167.6,671.1 170.3,671.9 172.9,672.8 175.6,673.5 178.4,674.3 181.1,675.0 183.9,675.7 186.7,676.4 189.6,677.0 192.5,677.7 195.4,678.2 198.3,678.8 201.3,679.3 204.3,679.8 207.3,680.2 210.3,680.7 213.3,681.1 216.4,681.4 219.5,681.7" fill="url(#w2_1_0)"/>
<polygon points="248.8,557.3 218.6,646.2 215.4,645.9 212.3,645.6 209.2,645.2 206.1,644.8 203.0,644.4 199.9,643.9 196.9,643.4 193.9,642.9 190.9,642.3 188.0,641.8 185.1,641.1 182.2,640.5 179.3,639.8 176.5,639.1 173.7,638.4 170.9,637.6 168.2,636.9 165.5,636.1 162.9,635.2 160.3,634.4 157.7,633.5 155.2,632.6 152.7,631.6 150.3,630.7 147.9,629.7 145.5,628.7 143.2,627.7 141.0,626.7 138.7,625.6 136.6,624.5 134.5,623.4 132.4,622.3 130.4,621.2 128.4,620.0 126.5,618.9 124.7,617.7 122.8,616.5 121.1,615.3 119.4,614.1 117.7,612.8 116.1,611.6 114.6,610.3 113.1,609.0 111.7,607.8 110.3,606.5 109.0,605.2 107.7,603.9 106.5,602.5 105.3,601.2 104.2,599.9 103.1,598.5 102.1,597.2 101.2,595.8 100.3,594.5 99.4,593.1 98.7,591.7 97.9,590.4 97.2,589.0 96.6,587.6 96.0,586.3 95.5,584.9 95.1,583.5 94.6,582.1 94.3,580.8 94.0,579.4 93.7,578.0 93.5,576.6 93.3,575.3 93.2,573.9 93.2,572.5 93.1,571.2 93.2,569.8 93.3,568.5 93.4,567.1 93.6,565.8 93.8,564.4 94.1,563.1 94.4,561.8 94.7,560.5 95.1,559.2 95.6,557.9 96.1,556.6 96.6,555.3 97.2,554.0 97.8,552.7 98.5,551.5 99.2,550.2 99.9,549.0 100.7,547.8 101.5,546.5 102.4,545.3 103.3,544.1 104.2,542.9 105.2,541.8 106.2,540.6 107.3,539.4 108.3,538.3 109.4,537.2" fill="url(#t2_1)" stroke="url(#t2_1)" stroke-width="0.5" stroke-linejoin="round"/>
<polyline points="218.6,646.2 248.8,557.3 109.4,537.2" fill="none" stroke="#832522" stroke-width="1.0" stroke-linejoin="round" stroke-linecap="round"/>
<polyline points="93.3,575.3 93.2,573.9 93.2,572.5 93.1,571.2 93.2,569.8 93.3,568.5 93.4,567.1 93.6,565.8 93.8,564.4 94.1,563.1 94.4,561.8 94.7,560.5 95.1,559.2 95.6,557.9 96.1,556.6 96.6,555.3 97.2,554.0 97.8,552.7 98.5,551.5 99.2,550.2 99.9,549.0 100.7,547.8 101.5,546.5 102.4,545.3 103.3,544.1 104.2,542.9 105.2,541.8 106.2,540.6 107.3,539.4 108.3,538.3 109.4,537.2" fill="none" stroke="#6d1f1c" stroke-width="0.9"/>
<polyline points="218.6,646.2 215.4,645.9 212.3,645.6 209.2,645.2 206.1,644.8 203.0,644.4 199.9,643.9 196.9,643.4 193.9,642.9 190.9,642.3 188.0,641.8 185.1,641.1 182.2,640.5 179.3,639.8 176.5,639.1 173.7,638.4 170.9,637.6 168.2,636.9 165.5,636.1 162.9,635.2 160.3,634.4 157.7,633.5 155.2,632.6 152.7,631.6 150.3,630.7 147.9,629.7 145.5,628.7 143.2,627.7 141.0,626.7 138.7,625.6 136.6,624.5 134.5,623.4 132.4,622.3 130.4,621.2 128.4,620.0 126.5,618.9 124.7,617.7 122.8,616.5 121.1,615.3 119.4,614.1 117.7,612.8 116.1,611.6 114.6,610.3 113.1,609.0 111.7,607.8 110.3,606.5 109.0,605.2 107.7,603.9 106.5,602.5 105.3,601.2 104.2,599.9 103.1,598.5 102.1,597.2 101.2,595.8 100.3,594.5 99.4,593.1 98.7,591.7 97.9,590.4 97.2,589.0 96.6,587.6 96.0,586.3 95.5,584.9 95.1,583.5 94.6,582.1 94.3,580.8 94.0,579.4 93.7,578.0 93.5,576.6" fill="none" stroke="#c6605d" stroke-width="1" stroke-opacity="0.55" transform="translate(0,0.9)"/>
<polyline points="100.0,422.5 107.0,422.5 207.5,491.8" fill="none" stroke="#1c1c1c" stroke-width="1.6" stroke-linejoin="round"/>
<polyline points="80.5,461.8 88.8,461.8 205.0,492.0" fill="none" stroke="#1c1c1c" stroke-width="1.6" stroke-linejoin="round"/>
<polyline points="168.0,451.2 175.0,451.2 221.2,489.5" fill="none" stroke="#1c1c1c" stroke-width="1.6" stroke-linejoin="round"/>
<polyline points="228.4,450.8 235.3,450.8 235.3,489.2" fill="none" stroke="#1c1c1c" stroke-width="1.6" stroke-linejoin="round"/>
<polyline points="268.8,455.5 262.0,455.5 244.5,488.8" fill="none" stroke="#1c1c1c" stroke-width="1.6" stroke-linejoin="round"/>
<polyline points="330.5,462.5 323.0,462.5 252.0,488.8" fill="none" stroke="#1c1c1c" stroke-width="1.6" stroke-linejoin="round"/>
<polyline points="122.0,497.5 183.8,497.3" fill="none" stroke="#1c1c1c" stroke-width="1.6" stroke-linejoin="round"/>
<polyline points="80.5,543.2 88.0,543.2 135.0,516.2" fill="none" stroke="#1c1c1c" stroke-width="1.6" stroke-linejoin="round"/>
<text x="133.8" y="412.0" font-size="22.6" textLength="91.7" lengthAdjust="spacingAndGlyphs" class="t">ΜΕΡΙΔΙΟ</text>
<text x="235.2" y="412.0" font-size="22.6" textLength="77.7" lengthAdjust="spacingAndGlyphs" class="t">ΑΓΟΡΑΣ</text>
<text x="320.7" y="412.0" font-size="22.6" textLength="50.6" lengthAdjust="spacingAndGlyphs" class="t">2014</text>
<text x="34.4" y="423.8" font-size="13.7" textLength="62.7" lengthAdjust="spacingAndGlyphs" class="l" fill="#151515" stroke="#151515">ΑΙΓΥΠΤΟΣ</text>
<text x="55.8" y="439.2" font-size="13.7" textLength="20.0" lengthAdjust="spacingAndGlyphs" class="l" fill="#151515" stroke="#151515">1%</text>
<text x="6.5" y="462.0" font-size="13.7" textLength="71.7" lengthAdjust="spacingAndGlyphs" class="l" fill="#151515" stroke="#151515">ΑΡΓΕΝΤΙΝΗ</text>
<text x="32.4" y="477.5" font-size="13.7" textLength="20.0" lengthAdjust="spacingAndGlyphs" class="l" fill="#151515" stroke="#151515">0%</text>
<text x="110.4" y="452.5" font-size="13.7" textLength="55.2" lengthAdjust="spacingAndGlyphs" class="l" fill="#151515" stroke="#151515">ΤΟΥΡΚΙΑ</text>
<text x="128.0" y="468.0" font-size="13.7" textLength="20.0" lengthAdjust="spacingAndGlyphs" class="l" fill="#151515" stroke="#151515">2%</text>
<text x="175.9" y="436.2" font-size="13.7" textLength="79.9" lengthAdjust="spacingAndGlyphs" class="l" fill="#151515" stroke="#151515">ΠΟΡΤΟΓΑΛΙΑ</text>
<text x="205.8" y="451.9" font-size="13.7" textLength="20.0" lengthAdjust="spacingAndGlyphs" class="l" fill="#151515" stroke="#151515">1%</text>
<text x="258.8" y="439.5" font-size="13.7" textLength="42.5" lengthAdjust="spacingAndGlyphs" class="l" fill="#151515" stroke="#151515">ΠΕΡΟΥ</text>
<text x="270.0" y="455.5" font-size="13.7" textLength="20.0" lengthAdjust="spacingAndGlyphs" class="l" fill="#151515" stroke="#151515">1%</text>
<text x="333.1" y="461.8" font-size="13.7" textLength="43.5" lengthAdjust="spacingAndGlyphs" class="l" fill="#151515" stroke="#151515">ΓΑΛΛΙΑ</text>
<text x="344.8" y="477.5" font-size="13.7" textLength="20.0" lengthAdjust="spacingAndGlyphs" class="l" fill="#151515" stroke="#151515">1%</text>
<text x="76.9" y="498.0" font-size="13.7" textLength="42.2" lengthAdjust="spacingAndGlyphs" class="l" fill="#151515" stroke="#151515">ΙΤΑΛΙΑ</text>
<text x="88.0" y="513.8" font-size="13.7" textLength="20.0" lengthAdjust="spacingAndGlyphs" class="l" fill="#151515" stroke="#151515">5%</text>
<text x="24.1" y="543.8" font-size="13.7" textLength="53.7" lengthAdjust="spacingAndGlyphs" class="l" fill="#151515" stroke="#151515">ΜΑΡΟΚΟ</text>
<text x="41.0" y="559.5" font-size="13.7" textLength="20.0" lengthAdjust="spacingAndGlyphs" class="l" fill="#151515" stroke="#151515">9%</text>
<text x="307.5" y="563.0" font-size="13.7" textLength="51.0" lengthAdjust="spacingAndGlyphs" class="l" fill="#0e1c36" stroke="#0e1c36">ΙΣΠΑΝΙΑ</text>
<text x="319.2" y="580.0" font-size="13.7" textLength="27.5" lengthAdjust="spacingAndGlyphs" class="l" fill="#0e1c36" stroke="#0e1c36">53%</text>
<text x="145.7" y="585.3" font-size="13.7" textLength="48.7" lengthAdjust="spacingAndGlyphs" class="l" fill="#3a1012" stroke="#3a1012">ΕΛΛΑΔΑ</text>
<text x="156.2" y="601.5" font-size="13.7" textLength="27.5" lengthAdjust="spacingAndGlyphs" class="l" fill="#3a1012" stroke="#3a1012">27%</text>
<polygon points="756.2,548.5 751.2,486.8 751.3,515.5 756.2,580.9" fill="#3b3547"/>
<polygon points="756.2,548.5 756.2,486.7 756.2,515.5 756.2,580.9" fill="#27232f"/>
<polygon points="756.2,548.5 751.2,486.8 752.9,486.7 754.6,486.7 756.2,486.7" fill="url(#t3_9)" stroke="url(#t3_9)" stroke-width="0.5" stroke-linejoin="round"/>
<polyline points="751.2,486.8 756.2,548.5 756.2,486.7" fill="none" stroke="#4a4258" stroke-width="1.0" stroke-linejoin="round" stroke-linecap="round"/>
<polyline points="751.2,486.8 752.9,486.7 754.6,486.7 756.2,486.7" fill="none" stroke="#625876" stroke-width="0.9"/>
<polygon points="755.7,548.6 743.0,487.0 743.2,515.8 755.7,580.9" fill="#3e492d"/>
<polygon points="755.7,548.6 743.0,487.0 744.9,486.9 746.9,486.9 748.8,486.8 750.8,486.8" fill="url(#t3_8)" stroke="url(#t3_8)" stroke-width="0.5" stroke-linejoin="round"/>
<polyline points="743.0,487.0 755.7,548.6 750.8,486.8" fill="none" stroke="#4d5b38" stroke-width="1.0" stroke-linejoin="round" stroke-linecap="round"/>
<polyline points="743.0,487.0 744.9,486.9 746.9,486.9 748.8,486.8 750.8,486.8" fill="none" stroke="#67794a" stroke-width="0.9"/>
<polygon points="755.0,548.6 732.1,487.7 732.5,516.5 755.0,580.9" fill="#4d2c2c"/>
<polygon points="755.0,548.6 732.1,487.7 734.2,487.5 736.2,487.4 738.2,487.3 740.3,487.1 742.3,487.0" fill="url(#t3_7)" stroke="url(#t3_7)" stroke-width="0.5" stroke-linejoin="round"/>
<polyline points="732.1,487.7 755.0,548.6 742.3,487.0" fill="none" stroke="#603838" stroke-width="1.0" stroke-linejoin="round" stroke-linecap="round"/>
<polyline points="732.1,487.7 734.2,487.5 736.2,487.4 738.2,487.3 740.3,487.1 742.3,487.0" fill="none" stroke="#804a4a" stroke-width="0.9"/>
<polygon points="753.8,548.7 713.4,489.8 714.1,518.7 753.9,581.1" fill="#2a374c"/>
<polygon points="753.8,548.7 713.4,489.8 715.3,489.5 717.3,489.3 719.3,489.0 721.2,488.8 723.2,488.5 725.2,488.3 727.2,488.1 729.2,487.9 731.1,487.8" fill="url(#t3_6)" stroke="url(#t3_6)" stroke-width="0.5" stroke-linejoin="round"/>
<polyline points="713.4,489.8 753.8,548.7 731.1,487.8" fill="none" stroke="#354760" stroke-width="1.0" stroke-linejoin="round" stroke-linecap="round"/>
<polyline points="713.4,489.8 715.3,489.5 717.3,489.3 719.3,489.0 721.2,488.8 723.2,488.5 725.2,488.3 727.2,488.1 729.2,487.9 731.1,487.8" fill="none" stroke="#475e80" stroke-width="0.9"/>
<polygon points="752.8,548.9 704.2,491.3 705.1,520.3 752.9,581.2" fill="#512d0c"/>
<polygon points="752.8,548.9 704.2,491.3 705.8,491.0 707.5,490.7 709.1,490.4 710.8,490.2 712.5,489.9" fill="url(#t3_5)" stroke="url(#t3_5)" stroke-width="0.5" stroke-linejoin="round"/>
<polyline points="704.2,491.3 752.8,548.9 712.5,489.9" fill="none" stroke="#683a0f" stroke-width="1.0" stroke-linejoin="round" stroke-linecap="round"/>
<polyline points="704.2,491.3 705.8,491.0 707.5,490.7 709.1,490.4 710.8,490.2 712.5,489.9" fill="none" stroke="#8b4d14" stroke-width="0.9"/>
<polygon points="752.2,549.0 697.1,492.7 698.1,521.8 752.3,581.4" fill="#0f3541"/>
<polygon points="752.2,549.0 697.1,492.7 698.7,492.3 700.4,492.0 702.0,491.7 703.6,491.4" fill="url(#t3_4)" stroke="url(#t3_4)" stroke-width="0.5" stroke-linejoin="round"/>
<polyline points="697.1,492.7 752.2,549.0 703.6,491.4" fill="none" stroke="#144555" stroke-width="1.0" stroke-linejoin="round" stroke-linecap="round"/>
<polyline points="697.1,492.7 698.7,492.3 700.4,492.0 702.0,491.7 703.6,491.4" fill="none" stroke="#1a5c71" stroke-width="0.9"/>
<polygon points="750.7,549.5 662.1,502.8 663.8,532.5 750.8,581.8" fill="#35224d"/>
<polygon points="750.7,549.5 662.1,502.8 663.8,502.2 665.6,501.5 667.4,500.9 669.2,500.2 671.0,499.6 672.8,499.0 674.7,498.4 676.5,497.9 678.4,497.3 680.3,496.8 682.2,496.3 684.1,495.7 686.0,495.3 687.9,494.8 689.8,494.3 691.8,493.9 693.7,493.4 695.7,493.0" fill="url(#t3_3)" stroke="url(#t3_3)" stroke-width="0.5" stroke-linejoin="round"/>
<polyline points="662.1,502.8 750.7,549.5 695.7,493.0" fill="none" stroke="#2f1e44" stroke-width="1.0" stroke-linejoin="round" stroke-linecap="round"/>
<polyline points="662.1,502.8 663.8,502.2 665.6,501.5 667.4,500.9 669.2,500.2 671.0,499.6 672.8,499.0 674.7,498.4 676.5,497.9 678.4,497.3 680.3,496.8 682.2,496.3 684.1,495.7 686.0,495.3 687.9,494.8 689.8,494.3 691.8,493.9 693.7,493.4 695.7,493.0" fill="none" stroke="#3e285a" stroke-width="0.9"/>
<polygon points="748.5,550.5 633.3,517.0 635.6,547.5 748.7,582.9" fill="#3c4e19"/>
<polygon points="748.5,550.5 633.3,517.0 634.8,516.1 636.2,515.2 637.6,514.4 639.1,513.5 640.6,512.7 642.1,511.8 643.6,511.0 645.2,510.2 646.8,509.4 648.4,508.7 650.0,507.9 651.6,507.2 653.2,506.4 654.9,505.7 656.6,505.0 658.3,504.3 660.0,503.6" fill="url(#t3_2)" stroke="url(#t3_2)" stroke-width="0.5" stroke-linejoin="round"/>
<polyline points="633.3,517.0 748.5,550.5 660.0,503.6" fill="none" stroke="#374817" stroke-width="1.0" stroke-linejoin="round" stroke-linecap="round"/>
<polyline points="633.3,517.0 634.8,516.1 636.2,515.2 637.6,514.4 639.1,513.5 640.6,512.7 642.1,511.8 643.6,511.0 645.2,510.2 646.8,509.4 648.4,508.7 650.0,507.9 651.6,507.2 653.2,506.4 654.9,505.7 656.6,505.0 658.3,504.3 660.0,503.6" fill="none" stroke="#49601f" stroke-width="0.9"/>
<polygon points="766.4,554.0 764.9,490.7 764.8,519.7 766.2,586.7" fill="#163050"/>
<polygon points="914.9,572.8 914.8,574.2 914.5,575.6 914.3,576.9 913.9,578.3 913.6,579.7 913.1,581.1 912.7,582.5 912.1,583.8 911.5,585.2 910.9,586.6 910.2,588.0 909.5,589.3 908.7,590.7 907.9,592.1 907.0,593.4 906.1,594.8 905.1,596.1 904.0,597.4 902.9,598.8 901.8,600.1 900.6,601.4 899.3,602.7 898.0,604.0 896.7,605.3 895.3,606.6 893.8,607.9 892.3,609.1 890.8,610.4 889.1,611.6 887.5,612.8 885.8,614.0 884.0,615.2 882.2,616.4 880.3,617.5 878.4,618.7 876.5,619.8 874.4,620.9 872.4,622.0 870.3,623.0 868.1,624.1 866.0,625.1 863.7,626.1 861.4,627.1 859.1,628.0 856.8,629.0 854.3,629.9 851.9,630.8 849.4,631.7 846.9,632.5 844.3,633.3 841.7,634.1 839.1,634.9 836.4,635.6 833.7,636.3 831.0,637.0 828.2,637.6 825.5,638.2 822.6,638.8 819.8,639.4 816.9,639.9 814.0,640.4 811.1,640.9 808.2,641.3 805.2,641.8 802.2,642.1 799.2,642.5 796.2,642.8 793.2,643.1 790.2,643.3 787.1,643.5 784.0,643.7 781.0,643.9 777.9,644.0 774.8,644.1 771.7,644.1 768.6,644.1 765.5,644.1 762.5,644.1 759.4,644.0 756.3,643.9 753.2,643.7 750.1,643.5 747.1,643.3 744.0,643.1 741.0,642.8 738.0,642.5 738.4,679.6 741.4,679.9 744.3,680.2 747.3,680.4 750.3,680.7 753.3,680.8 756.3,681.0 759.3,681.1 762.3,681.2 765.3,681.3 768.3,681.3 771.3,681.3 774.4,681.2 777.4,681.1 780.4,681.0 783.4,680.8 786.3,680.6 789.3,680.4 792.3,680.2 795.2,679.9 798.2,679.5 801.1,679.2 804.0,678.8 806.9,678.4 809.8,677.9 812.6,677.4 815.4,676.9 818.2,676.3 821.0,675.7 823.8,675.1 826.5,674.5 829.2,673.8 831.9,673.1 834.5,672.3 837.1,671.6 839.7,670.8 842.2,669.9 844.7,669.1 847.2,668.2 849.6,667.3 852.0,666.4 854.4,665.4 856.7,664.4 858.9,663.4 861.2,662.4 863.4,661.4 865.5,660.3 867.6,659.2 869.7,658.1 871.7,656.9 873.6,655.8 875.6,654.6 877.4,653.4 879.3,652.2 881.0,651.0 882.8,649.7 884.4,648.5 886.1,647.2 887.7,645.9 889.2,644.6 890.7,643.3 892.1,642.0 893.5,640.6 894.8,639.3 896.1,637.9 897.3,636.5 898.5,635.1 899.6,633.8 900.7,632.4 901.8,630.9 902.7,629.5 903.7,628.1 904.5,626.7 905.4,625.3 906.1,623.8 906.9,622.4 907.5,620.9 908.2,619.5 908.7,618.0 909.3,616.6 909.7,615.1 910.2,613.7 910.5,612.2 910.9,610.8 911.1,609.3 911.4,607.9 911.6,606.5" fill="url(#w3_0_104)"/>
<polygon points="766.4,554.0 764.9,490.7 767.1,490.7 769.3,490.7 771.5,490.8 773.6,490.8 775.8,490.9 778.0,491.0 780.1,491.1 782.3,491.2 784.5,491.4 786.6,491.5 788.8,491.7 790.9,491.9 793.1,492.1 795.2,492.3 797.4,492.6 799.5,492.8 801.6,493.1 803.7,493.4 805.9,493.7 808.0,494.0 810.1,494.3 812.2,494.7 814.2,495.1 816.3,495.4 818.4,495.8 820.5,496.3 822.5,496.7 824.5,497.1 826.6,497.6 828.6,498.1 830.6,498.6 832.6,499.1 834.6,499.6 836.6,500.2 838.5,500.7 840.5,501.3 842.4,501.9 844.3,502.5 846.2,503.1 848.1,503.8 850.0,504.4 851.8,505.1 853.7,505.8 855.5,506.5 857.3,507.2 859.1,508.0 860.9,508.7 862.6,509.5 864.4,510.3 866.1,511.1 867.8,511.9 869.4,512.7 871.1,513.5 872.7,514.4 874.3,515.3 875.9,516.1 877.5,517.0 879.0,518.0 880.5,518.9 882.0,519.8 883.5,520.8 884.9,521.8 886.4,522.7 887.7,523.7 889.1,524.8 890.4,525.8 891.7,526.8 893.0,527.9 894.2,528.9 895.5,530.0 896.6,531.1 897.8,532.2 898.9,533.3 900.0,534.5 901.1,535.6 902.1,536.8 903.1,537.9 904.0,539.1 904.9,540.3 905.8,541.5 906.7,542.7 907.5,543.9 908.3,545.2 909.0,546.4 909.7,547.6 910.3,548.9 911.0,550.2 911.5,551.4 912.1,552.7 912.6,554.0 913.0,555.3 913.4,556.6 913.8,558.0 914.1,559.3 914.4,560.6 914.7,561.9 914.9,563.3 915.0,564.6 915.1,566.0 915.2,567.3 915.2,568.7 915.1,570.1 915.1,571.4 914.9,572.8 914.8,574.2 914.5,575.6 914.3,576.9 913.9,578.3 913.6,579.7 913.1,581.1 912.7,582.5 912.1,583.8 911.5,585.2 910.9,586.6 910.2,588.0 909.5,589.3 908.7,590.7 907.9,592.1 907.0,593.4 906.1,594.8 905.1,596.1 904.0,597.4 902.9,598.8 901.8,600.1 900.6,601.4 899.3,602.7 898.0,604.0 896.7,605.3 895.3,606.6 893.8,607.9 892.3,609.1 890.8,610.4 889.1,611.6 887.5,612.8 885.8,614.0 884.0,615.2 882.2,616.4 880.3,617.5 878.4,618.7 876.5,619.8 874.4,620.9 872.4,622.0 870.3,623.0 868.1,624.1 866.0,625.1 863.7,626.1 861.4,627.1 859.1,628.0 856.8,629.0 854.3,629.9 851.9,630.8 849.4,631.7 846.9,632.5 844.3,633.3 841.7,634.1 839.1,634.9 836.4,635.6 833.7,636.3 831.0,637.0 828.2,637.6 825.5,638.2 822.6,638.8 819.8,639.4 816.9,639.9 814.0,640.4 811.1,640.9 808.2,641.3 805.2,641.8 802.2,642.1 799.2,642.5 796.2,642.8 793.2,643.1 790.2,643.3 787.1,643.5 784.0,643.7 781.0,643.9 777.9,644.0 774.8,644.1 771.7,644.1 768.6,644.1 765.5,644.1 762.5,644.1 759.4,644.0 756.3,643.9 753.2,643.7 750.1,643.5 747.1,643.3 744.0,643.1 741.0,642.8 738.0,642.5" fill="url(#t3_0)" stroke="url(#t3_0)" stroke-width="0.5" stroke-linejoin="round"/>
<polyline points="764.9,490.7 766.4,554.0 738.0,642.5" fill="none" stroke="#234c80" stroke-width="1.0" stroke-linejoin="round" stroke-linecap="round"/>
<polyline points="764.9,490.7 767.1,490.7 769.3,490.7 771.5,490.8 773.6,490.8 775.8,490.9 778.0,491.0 780.1,491.1 782.3,491.2 784.5,491.4 786.6,491.5 788.8,491.7 790.9,491.9 793.1,492.1 795.2,492.3 797.4,492.6 799.5,492.8 801.6,493.1 803.7,493.4 805.9,493.7 808.0,494.0 810.1,494.3 812.2,494.7 814.2,495.1 816.3,495.4 818.4,495.8 820.5,496.3 822.5,496.7 824.5,497.1 826.6,497.6 828.6,498.1 830.6,498.6 832.6,499.1 834.6,499.6 836.6,500.2 838.5,500.7 840.5,501.3 842.4,501.9 844.3,502.5 846.2,503.1 848.1,503.8 850.0,504.4 851.8,505.1 853.7,505.8 855.5,506.5 857.3,507.2 859.1,508.0 860.9,508.7 862.6,509.5 864.4,510.3 866.1,511.1 867.8,511.9 869.4,512.7 871.1,513.5 872.7,514.4 874.3,515.3 875.9,516.1 877.5,517.0 879.0,518.0 880.5,518.9 882.0,519.8 883.5,520.8 884.9,521.8 886.4,522.7 887.7,523.7 889.1,524.8 890.4,525.8 891.7,526.8 893.0,527.9 894.2,528.9 895.5,530.0 896.6,531.1 897.8,532.2 898.9,533.3 900.0,534.5 901.1,535.6 902.1,536.8 903.1,537.9 904.0,539.1 904.9,540.3 905.8,541.5 906.7,542.7 907.5,543.9 908.3,545.2 909.0,546.4 909.7,547.6 910.3,548.9 911.0,550.2 911.5,551.4 912.1,552.7 912.6,554.0 913.0,555.3 913.4,556.6 913.8,558.0 914.1,559.3 914.4,560.6 914.7,561.9 914.9,563.3 915.0,564.6 915.1,566.0 915.2,567.3 915.2,568.7 915.1,570.1 915.1,571.4" fill="none" stroke="#1d406b" stroke-width="0.9"/>
<polyline points="914.9,572.8 914.8,574.2 914.5,575.6 914.3,576.9 913.9,578.3 913.6,579.7 913.1,581.1 912.7,582.5 912.1,583.8 911.5,585.2 910.9,586.6 910.2,588.0 909.5,589.3 908.7,590.7 907.9,592.1 907.0,593.4 906.1,594.8 905.1,596.1 904.0,597.4 902.9,598.8 901.8,600.1 900.6,601.4 899.3,602.7 898.0,604.0 896.7,605.3 895.3,606.6 893.8,607.9 892.3,609.1 890.8,610.4 889.1,611.6 887.5,612.8 885.8,614.0 884.0,615.2 882.2,616.4 880.3,617.5 878.4,618.7 876.5,619.8 874.4,620.9 872.4,622.0 870.3,623.0 868.1,624.1 866.0,625.1 863.7,626.1 861.4,627.1 859.1,628.0 856.8,629.0 854.3,629.9 851.9,630.8 849.4,631.7 846.9,632.5 844.3,633.3 841.7,634.1 839.1,634.9 836.4,635.6 833.7,636.3 831.0,637.0 828.2,637.6 825.5,638.2 822.6,638.8 819.8,639.4 816.9,639.9 814.0,640.4 811.1,640.9 808.2,641.3 805.2,641.8 802.2,642.1 799.2,642.5 796.2,642.8 793.2,643.1 790.2,643.3 787.1,643.5 784.0,643.7 781.0,643.9 777.9,644.0 774.8,644.1 771.7,644.1 768.6,644.1 765.5,644.1 762.5,644.1 759.4,644.0 756.3,643.9 753.2,643.7 750.1,643.5 747.1,643.3 744.0,643.1 741.0,642.8 738.0,642.5" fill="none" stroke="#5e8bc3" stroke-width="1" stroke-opacity="0.55" transform="translate(0,0.9)"/>
<polygon points="747.2,555.8 714.6,645.0 715.7,682.2 747.4,588.5" fill="#992b27"/>
<polygon points="714.6,645.0 711.6,644.7 708.6,644.3 705.7,643.9 702.7,643.4 699.8,643.0 696.9,642.5 694.0,641.9 691.1,641.4 688.3,640.8 685.5,640.2 682.7,639.5 680.0,638.8 677.3,638.1 674.6,637.4 671.9,636.6 669.3,635.8 666.7,635.0 664.2,634.1 661.7,633.3 659.3,632.4 656.8,631.5 654.5,630.5 652.1,629.6 649.8,628.6 647.6,627.6 645.4,626.5 643.2,625.5 641.1,624.4 639.0,623.3 637.0,622.2 635.1,621.1 633.1,619.9 631.3,618.8 629.4,617.6 627.7,616.4 625.9,615.2 624.3,614.0 622.6,612.7 621.1,611.5 619.5,610.2 618.1,608.9 616.7,607.6 615.3,606.3 614.0,605.0 612.7,603.7 611.5,602.4 610.3,601.1 609.2,599.7 608.2,598.4 607.2,597.0 606.2,595.6 605.3,594.3 604.5,592.9 603.7,591.5 603.0,590.2 602.3,588.8 601.6,587.4 601.1,586.0 600.5,584.6 600.0,583.2 599.6,581.8 599.2,580.4 598.9,579.1 598.6,577.7 598.4,576.3 598.2,574.9 601.6,608.7 601.7,610.1 602.0,611.6 602.3,613.0 602.6,614.5 603.0,615.9 603.4,617.4 603.9,618.9 604.5,620.3 605.0,621.8 605.7,623.2 606.4,624.7 607.1,626.1 607.9,627.6 608.7,629.0 609.6,630.5 610.5,631.9 611.5,633.3 612.6,634.7 613.6,636.1 614.8,637.5 616.0,638.9 617.2,640.3 618.5,641.7 619.9,643.1 621.2,644.4 622.7,645.7 624.2,647.1 625.7,648.4 627.3,649.7 629.0,651.0 630.7,652.2 632.4,653.5 634.2,654.7 636.0,655.9 637.9,657.1 639.8,658.3 641.8,659.5 643.8,660.6 645.9,661.8 648.0,662.9 650.2,663.9 652.4,665.0 654.6,666.0 656.9,667.0 659.2,668.0 661.6,669.0 664.0,669.9 666.4,670.8 668.9,671.7 671.4,672.6 674.0,673.4 676.6,674.2 679.2,675.0 681.8,675.7 684.5,676.4 687.2,677.1 690.0,677.8 692.7,678.4 695.5,679.0 698.3,679.5 701.2,680.1 704.0,680.6 706.9,681.0 709.8,681.4 712.7,681.8 715.7,682.2" fill="url(#w3_1_0)"/>
<polygon points="747.2,555.8 714.6,645.0 711.6,644.7 708.6,644.3 705.7,643.9 702.7,643.4 699.8,643.0 696.9,642.5 694.0,641.9 691.1,641.4 688.3,640.8 685.5,640.2 682.7,639.5 680.0,638.8 677.3,638.1 674.6,637.4 671.9,636.6 669.3,635.8 666.7,635.0 664.2,634.1 661.7,633.3 659.3,632.4 656.8,631.5 654.5,630.5 652.1,629.6 649.8,628.6 647.6,627.6 645.4,626.5 643.2,625.5 641.1,624.4 639.0,623.3 637.0,622.2 635.1,621.1 633.1,619.9 631.3,618.8 629.4,617.6 627.7,616.4 625.9,615.2 624.3,614.0 622.6,612.7 621.1,611.5 619.5,610.2 618.1,608.9 616.7,607.6 615.3,606.3 614.0,605.0 612.7,603.7 611.5,602.4 610.3,601.1 609.2,599.7 608.2,598.4 607.2,597.0 606.2,595.6 605.3,594.3 604.5,592.9 603.7,591.5 603.0,590.2 602.3,588.8 601.6,587.4 601.1,586.0 600.5,584.6 600.0,583.2 599.6,581.8 599.2,580.4 598.9,579.1 598.6,577.7 598.4,576.3 598.2,574.9 598.0,573.5 597.9,572.1 597.9,570.8 597.9,569.4 598.0,568.0 598.0,566.7 598.2,565.3 598.4,564.0 598.6,562.6 598.9,561.3 599.2,559.9 599.6,558.6 600.0,557.3 600.4,556.0 600.9,554.7 601.4,553.4 602.0,552.1 602.6,550.8 603.3,549.5 604.0,548.3 604.7,547.0 605.5,545.8 606.3,544.6 607.1,543.3 608.0,542.1 608.9,540.9 609.9,539.7 610.8,538.6 611.9,537.4 612.9,536.3 614.0,535.1 615.1,534.0 616.3,532.9 617.4,531.8 618.7,530.7 619.9,529.6 621.2,528.6 622.5,527.5 623.8,526.5 625.1,525.4 626.5,524.4 627.9,523.4 629.4,522.5 630.8,521.5" fill="url(#t3_1)" stroke="url(#t3_1)" stroke-width="0.5" stroke-linejoin="round"/>
<polyline points="714.6,645.0 747.2,555.8 630.8,521.5" fill="none" stroke="#832522" stroke-width="1.0" stroke-linejoin="round" stroke-linecap="round"/>
<polyline points="598.0,573.5 597.9,572.1 597.9,570.8 597.9,569.4 598.0,568.0 598.0,566.7 598.2,565.3 598.4,564.0 598.6,562.6 598.9,561.3 599.2,559.9 599.6,558.6 600.0,557.3 600.4,556.0 600.9,554.7 601.4,553.4 602.0,552.1 602.6,550.8 603.3,549.5 604.0,548.3 604.7,547.0 605.5,545.8 606.3,544.6 607.1,543.3 608.0,542.1 608.9,540.9 609.9,539.7 610.8,538.6 611.9,537.4 612.9,536.3 614.0,535.1 615.1,534.0 616.3,532.9 617.4,531.8 618.7,530.7 619.9,529.6 621.2,528.6 622.5,527.5 623.8,526.5 625.1,525.4 626.5,524.4 627.9,523.4 629.4,522.5 630.8,521.5" fill="none" stroke="#6d1f1c" stroke-width="0.9"/>
<polyline points="714.6,645.0 711.6,644.7 708.6,644.3 705.7,643.9 702.7,643.4 699.8,643.0 696.9,642.5 694.0,641.9 691.1,641.4 688.3,640.8 685.5,640.2 682.7,639.5 680.0,638.8 677.3,638.1 674.6,637.4 671.9,636.6 669.3,635.8 666.7,635.0 664.2,634.1 661.7,633.3 659.3,632.4 656.8,631.5 654.5,630.5 652.1,629.6 649.8,628.6 647.6,627.6 645.4,626.5 643.2,625.5 641.1,624.4 639.0,623.3 637.0,622.2 635.1,621.1 633.1,619.9 631.3,618.8 629.4,617.6 627.7,616.4 625.9,615.2 624.3,614.0 622.6,612.7 621.1,611.5 619.5,610.2 618.1,608.9 616.7,607.6 615.3,606.3 614.0,605.0 612.7,603.7 611.5,602.4 610.3,601.1 609.2,599.7 608.2,598.4 607.2,597.0 606.2,595.6 605.3,594.3 604.5,592.9 603.7,591.5 603.0,590.2 602.3,588.8 601.6,587.4 601.1,586.0 600.5,584.6 600.0,583.2 599.6,581.8 599.2,580.4 598.9,579.1 598.6,577.7 598.4,576.3 598.2,574.9" fill="none" stroke="#c6605d" stroke-width="1" stroke-opacity="0.55" transform="translate(0,0.9)"/>
<polyline points="611.8,442.5 617.5,442.5 698.0,491.2" fill="none" stroke="#1c1c1c" stroke-width="1.6" stroke-linejoin="round"/>
<polyline points="678.0,461.2 685.0,461.2 706.2,491.2" fill="none" stroke="#1c1c1c" stroke-width="1.6" stroke-linejoin="round"/>
<polyline points="720.0,486.0 720.0,489.0" fill="none" stroke="#1c1c1c" stroke-width="1.6" stroke-linejoin="round"/>
<polyline points="741.2,451.2 736.6,486.2" fill="none" stroke="#1c1c1c" stroke-width="1.6" stroke-linejoin="round"/>
<polyline points="789.5,449.5 783.8,449.5 747.5,486.2" fill="none" stroke="#1c1c1c" stroke-width="1.6" stroke-linejoin="round"/>
<polyline points="837.0,479.2 831.2,479.2 753.8,486.2" fill="none" stroke="#1c1c1c" stroke-width="1.6" stroke-linejoin="round"/>
<polyline points="647.0,479.5 653.8,479.5 677.5,496.8" fill="none" stroke="#1c1c1c" stroke-width="1.6" stroke-linejoin="round"/>
<polyline points="594.2,524.5 601.2,524.5 647.5,509.2" fill="none" stroke="#1c1c1c" stroke-width="1.6" stroke-linejoin="round"/>
<text x="646.8" y="412.0" font-size="21.6" textLength="86.7" lengthAdjust="spacingAndGlyphs" class="t">ΜΕΡΙΔΙΟ</text>
<text x="742.6" y="412.0" font-size="21.6" textLength="73.4" lengthAdjust="spacingAndGlyphs" class="t">ΑΓΟΡΑΣ</text>
<text x="823.4" y="412.0" font-size="21.6" textLength="47.8" lengthAdjust="spacingAndGlyphs" class="t">2015</text>
<text x="541.7" y="442.5" font-size="13.3" textLength="67.8" lengthAdjust="spacingAndGlyphs" class="l" fill="#151515" stroke="#151515">ΑΡΓΕΝΤΙΝΗ</text>
<text x="566.1" y="458.8" font-size="13.3" textLength="18.9" lengthAdjust="spacingAndGlyphs" class="l" fill="#151515" stroke="#151515">1%</text>
<text x="636.7" y="446.8" font-size="13.3" textLength="59.3" lengthAdjust="spacingAndGlyphs" class="l" fill="#151515" stroke="#151515">ΑΙΓΥΠΤΟΣ</text>
<text x="656.9" y="462.5" font-size="13.3" textLength="18.9" lengthAdjust="spacingAndGlyphs" class="l" fill="#151515" stroke="#151515">1%</text>
<text x="692.9" y="466.2" font-size="13.3" textLength="52.2" lengthAdjust="spacingAndGlyphs" class="l" fill="#151515" stroke="#151515">ΤΟΥΡΚΙΑ</text>
<text x="709.5" y="481.8" font-size="13.3" textLength="18.9" lengthAdjust="spacingAndGlyphs" class="l" fill="#151515" stroke="#151515">2%</text>
<text x="714.2" y="434.5" font-size="13.3" textLength="75.6" lengthAdjust="spacingAndGlyphs" class="l" fill="#151515" stroke="#151515">ΠΟΡΤΟΓΑΛΙΑ</text>
<text x="742.5" y="450.0" font-size="13.3" textLength="18.9" lengthAdjust="spacingAndGlyphs" class="l" fill="#151515" stroke="#151515">1%</text>
<text x="791.5" y="449.5" font-size="13.3" textLength="40.2" lengthAdjust="spacingAndGlyphs" class="l" fill="#151515" stroke="#151515">ΠΕΡΟΥ</text>
<text x="802.1" y="465.5" font-size="13.3" textLength="18.9" lengthAdjust="spacingAndGlyphs" class="l" fill="#151515" stroke="#151515">1%</text>
<text x="839.6" y="478.8" font-size="13.3" textLength="41.2" lengthAdjust="spacingAndGlyphs" class="l" fill="#151515" stroke="#151515">ΓΑΛΛΙΑ</text>
<text x="850.8" y="494.2" font-size="13.3" textLength="18.9" lengthAdjust="spacingAndGlyphs" class="l" fill="#151515" stroke="#151515">1%</text>
<text x="604.4" y="477.5" font-size="13.3" textLength="39.9" lengthAdjust="spacingAndGlyphs" class="l" fill="#151515" stroke="#151515">ΙΤΑΛΙΑ</text>
<text x="614.9" y="493.8" font-size="13.3" textLength="18.9" lengthAdjust="spacingAndGlyphs" class="l" fill="#151515" stroke="#151515">5%</text>
<text x="541.0" y="525.0" font-size="13.3" textLength="50.8" lengthAdjust="spacingAndGlyphs" class="l" fill="#151515" stroke="#151515">ΜΑΡΟΚΟ</text>
<text x="556.9" y="540.5" font-size="13.3" textLength="18.9" lengthAdjust="spacingAndGlyphs" class="l" fill="#151515" stroke="#151515">4%</text>
<text x="811.8" y="561.9" font-size="13.3" textLength="48.3" lengthAdjust="spacingAndGlyphs" class="l" fill="#0e1c36" stroke="#0e1c36">ΙΣΠΑΝΙΑ</text>
<text x="822.9" y="578.1" font-size="13.3" textLength="26.0" lengthAdjust="spacingAndGlyphs" class="l" fill="#0e1c36" stroke="#0e1c36">53%</text>
<text x="650.0" y="585.3" font-size="13.3" textLength="46.1" lengthAdjust="spacingAndGlyphs" class="l" fill="#3a1012" stroke="#3a1012">ΕΛΛΑΔΑ</text>
<text x="660.0" y="601.5" font-size="13.3" textLength="26.0" lengthAdjust="spacingAndGlyphs" class="l" fill="#3a1012" stroke="#3a1012">31%</text>
<polygon points="250.5,940.7 245.2,880.6 245.3,907.9 250.5,971.4" fill="#3b3547"/>
<polygon points="250.5,940.7 250.5,880.5 250.5,907.8 250.5,971.4" fill="#27232f"/>
<polygon points="250.5,940.7 245.2,880.6 247.0,880.6 248.8,880.5 250.5,880.5" fill="url(#t4_9)" stroke="url(#t4_9)" stroke-width="0.5" stroke-linejoin="round"/>
<polyline points="245.2,880.6 250.5,940.7 250.5,880.5" fill="none" stroke="#4a4258" stroke-width="1.0" stroke-linejoin="round" stroke-linecap="round"/>
<polyline points="245.2,880.6 247.0,880.6 248.8,880.5 250.5,880.5" fill="none" stroke="#625876" stroke-width="0.9"/>
<polygon points="249.7,940.7 234.9,880.8 235.2,908.1 249.7,971.4" fill="#3e492d"/>
<polygon points="249.7,940.7 234.9,880.8 237.3,880.7 239.7,880.7 242.1,880.6 244.5,880.6" fill="url(#t4_8)" stroke="url(#t4_8)" stroke-width="0.5" stroke-linejoin="round"/>
<polyline points="234.9,880.8 249.7,940.7 244.5,880.6" fill="none" stroke="#4d5b38" stroke-width="1.0" stroke-linejoin="round" stroke-linecap="round"/>
<polyline points="234.9,880.8 237.3,880.7 239.7,880.7 242.1,880.6 244.5,880.6" fill="none" stroke="#67794a" stroke-width="0.9"/>
<polygon points="248.5,940.8 221.9,881.5 222.4,908.8 248.5,971.5" fill="#4d2c2c"/>
<polygon points="248.5,940.8 221.9,881.5 224.3,881.3 226.7,881.2 229.1,881.1 231.5,881.0 233.9,880.9" fill="url(#t4_7)" stroke="url(#t4_7)" stroke-width="0.5" stroke-linejoin="round"/>
<polyline points="221.9,881.5 248.5,940.8 233.9,880.9" fill="none" stroke="#603838" stroke-width="1.0" stroke-linejoin="round" stroke-linecap="round"/>
<polyline points="221.9,881.5 224.3,881.3 226.7,881.2 229.1,881.1 231.5,881.0 233.9,880.9" fill="none" stroke="#804a4a" stroke-width="0.9"/>
<polygon points="246.6,941.0 198.7,883.7 199.6,911.1 246.7,971.7" fill="#2a374c"/>
<polygon points="246.6,941.0 198.7,883.7 201.0,883.4 203.4,883.1 205.8,882.8 208.2,882.6 210.6,882.4 213.0,882.2 215.4,882.0 217.8,881.8 220.3,881.6" fill="url(#t4_6)" stroke="url(#t4_6)" stroke-width="0.5" stroke-linejoin="round"/>
<polyline points="198.7,883.7 246.6,941.0 220.3,881.6" fill="none" stroke="#354760" stroke-width="1.0" stroke-linejoin="round" stroke-linecap="round"/>
<polyline points="198.7,883.7 201.0,883.4 203.4,883.1 205.8,882.8 208.2,882.6 210.6,882.4 213.0,882.2 215.4,882.0 217.8,881.8 220.3,881.6" fill="none" stroke="#475e80" stroke-width="0.9"/>
<polygon points="244.8,941.2 187.1,885.2 188.2,912.8 245.0,971.9" fill="#512d0c"/>
<polygon points="244.8,941.2 187.1,885.2 189.1,884.9 191.1,884.6 193.1,884.4 195.1,884.1 197.2,883.8" fill="url(#t4_5)" stroke="url(#t4_5)" stroke-width="0.5" stroke-linejoin="round"/>
<polyline points="187.1,885.2 244.8,941.2 197.2,883.8" fill="none" stroke="#683a0f" stroke-width="1.0" stroke-linejoin="round" stroke-linecap="round"/>
<polyline points="187.1,885.2 189.1,884.9 191.1,884.6 193.1,884.4 195.1,884.1 197.2,883.8" fill="none" stroke="#8b4d14" stroke-width="0.9"/>
<polygon points="244.1,941.3 182.6,885.9 183.8,913.5 244.2,972.1" fill="#0f3542"/>
<polygon points="244.1,941.3 182.6,885.9 184.5,885.6 186.4,885.3" fill="url(#t4_4)" stroke="url(#t4_4)" stroke-width="0.5" stroke-linejoin="round"/>
<polyline points="182.6,885.9 244.1,941.3 186.4,885.3" fill="none" stroke="#144555" stroke-width="1.0" stroke-linejoin="round" stroke-linecap="round"/>
<polyline points="182.6,885.9 184.5,885.6 186.4,885.3" fill="none" stroke="#1a5c71" stroke-width="0.9"/>
<polygon points="241.2,942.0 131.5,898.5 133.6,926.9 241.4,972.8" fill="#35224c"/>
<polygon points="241.2,942.0 131.5,898.5 133.5,897.8 135.6,897.1 137.7,896.5 139.7,895.8 141.8,895.1 144.0,894.5 146.1,893.9 148.3,893.3 150.4,892.7 152.6,892.1 154.8,891.6 157.1,891.0 159.3,890.5 161.6,890.0 163.8,889.5 166.1,889.0 168.4,888.6 170.7,888.1 173.0,887.7 175.4,887.2 177.7,886.8 180.1,886.4" fill="url(#t4_3)" stroke="url(#t4_3)" stroke-width="0.5" stroke-linejoin="round"/>
<polyline points="131.5,898.5 241.2,942.0 180.1,886.4" fill="none" stroke="#2f1e44" stroke-width="1.0" stroke-linejoin="round" stroke-linecap="round"/>
<polyline points="131.5,898.5 133.5,897.8 135.6,897.1 137.7,896.5 139.7,895.8 141.8,895.1 144.0,894.5 146.1,893.9 148.3,893.3 150.4,892.7 152.6,892.1 154.8,891.6 157.1,891.0 159.3,890.5 161.6,890.0 163.8,889.5 166.1,889.0 168.4,888.6 170.7,888.1 173.0,887.7 175.4,887.2 177.7,886.8 180.1,886.4" fill="none" stroke="#3e285a" stroke-width="0.9"/>
<polygon points="237.0,943.9 89.2,918.6 92.2,948.1 237.3,974.7" fill="#3a4c19"/>
<polygon points="237.0,943.9 89.2,918.6 90.7,917.6 92.2,916.7 93.7,915.7 95.2,914.8 96.7,913.8 98.3,912.9 100.0,912.0 101.6,911.1 103.3,910.2 105.0,909.4 106.7,908.5 108.5,907.7 110.2,906.8 112.0,906.0 113.9,905.2 115.7,904.4 117.6,903.7 119.5,902.9 121.4,902.2 123.4,901.4 125.3,900.7 127.3,900.0" fill="url(#t4_2)" stroke="url(#t4_2)" stroke-width="0.5" stroke-linejoin="round"/>
<polyline points="89.2,918.6 237.0,943.9 127.3,900.0" fill="none" stroke="#374817" stroke-width="1.0" stroke-linejoin="round" stroke-linecap="round"/>
<polyline points="89.2,918.6 90.7,917.6 92.2,916.7 93.7,915.7 95.2,914.8 96.7,913.8 98.3,912.9 100.0,912.0 101.6,911.1 103.3,910.2 105.0,909.4 106.7,908.5 108.5,907.7 110.2,906.8 112.0,906.0 113.9,905.2 115.7,904.4 117.6,903.7 119.5,902.9 121.4,902.2 123.4,901.4 125.3,900.7 127.3,900.0" fill="none" stroke="#49601f" stroke-width="0.9"/>
<polygon points="267.3,948.0 264.9,885.8 264.6,913.4 267.0,979.1" fill="#163050"/>
<polygon points="442.6,967.6 442.4,968.9 442.1,970.3 441.7,971.6 441.3,973.0 440.8,974.3 440.3,975.7 439.7,977.0 439.0,978.4 438.3,979.7 437.5,981.1 436.7,982.4 435.8,983.8 434.8,985.1 433.8,986.4 432.7,987.7 431.6,989.1 430.4,990.4 429.1,991.7 427.8,993.0 426.4,994.3 425.0,995.6 423.5,996.8 421.9,998.1 420.3,999.4 418.6,1000.6 416.8,1001.8 415.0,1003.1 413.1,1004.3 411.2,1005.5 409.2,1006.6 407.1,1007.8 405.0,1009.0 402.9,1010.1 400.6,1011.2 398.3,1012.3 396.0,1013.4 393.6,1014.5 391.2,1015.5 388.6,1016.5 386.1,1017.6 383.5,1018.5 380.8,1019.5 378.1,1020.5 375.3,1021.4 372.5,1022.3 369.7,1023.2 366.8,1024.0 363.8,1024.8 360.8,1025.6 357.8,1026.4 354.7,1027.2 351.6,1027.9 348.4,1028.6 345.2,1029.3 341.9,1029.9 338.7,1030.5 335.4,1031.1 332.0,1031.7 328.7,1032.2 325.3,1032.7 321.8,1033.2 318.4,1033.6 314.9,1034.0 311.4,1034.4 307.9,1034.7 304.3,1035.1 300.8,1035.3 297.2,1035.6 293.6,1035.8 290.0,1036.0 286.4,1036.2 282.8,1036.3 279.1,1036.4 275.5,1036.4 271.9,1036.5 268.2,1036.4 264.6,1036.4 260.9,1036.3 257.3,1036.2 253.7,1036.1 250.1,1035.9 246.4,1035.7 246.6,1071.1 250.1,1071.3 253.6,1071.5 257.2,1071.6 260.7,1071.7 264.3,1071.8 267.8,1071.8 271.4,1071.8 274.9,1071.8 278.5,1071.8 282.0,1071.7 285.5,1071.5 289.1,1071.4 292.6,1071.2 296.1,1070.9 299.6,1070.7 303.1,1070.4 306.5,1070.1 310.0,1069.7 313.4,1069.3 316.8,1068.9 320.1,1068.4 323.5,1067.9 326.8,1067.4 330.1,1066.9 333.4,1066.3 336.6,1065.7 339.8,1065.0 343.0,1064.3 346.1,1063.6 349.2,1062.9 352.2,1062.1 355.3,1061.4 358.2,1060.5 361.2,1059.7 364.0,1058.8 366.9,1058.0 369.7,1057.0 372.4,1056.1 375.1,1055.1 377.8,1054.1 380.4,1053.1 383.0,1052.1 385.5,1051.0 387.9,1050.0 390.3,1048.9 392.7,1047.8 395.0,1046.6 397.2,1045.5 399.4,1044.3 401.5,1043.1 403.6,1041.9 405.6,1040.7 407.6,1039.4 409.5,1038.2 411.3,1036.9 413.1,1035.6 414.8,1034.4 416.5,1033.0 418.1,1031.7 419.6,1030.4 421.1,1029.1 422.6,1027.7 423.9,1026.4 425.2,1025.0 426.5,1023.6 427.7,1022.3 428.8,1020.9 429.9,1019.5 430.9,1018.1 431.8,1016.7 432.7,1015.3 433.5,1013.9 434.3,1012.4 435.0,1011.0 435.7,1009.6 436.3,1008.2 436.8,1006.8 437.3,1005.4 437.7,1003.9 438.1,1002.5 438.4,1001.1 438.6,999.7" fill="url(#w4_0_105)"/>
<polygon points="267.3,948.0 264.9,885.8 267.4,885.8 270.0,885.9 272.5,885.9 275.1,886.0 277.7,886.0 280.2,886.1 282.8,886.2 285.3,886.3 287.9,886.5 290.4,886.6 293.0,886.8 295.5,887.0 298.0,887.2 300.5,887.4 303.1,887.6 305.6,887.9 308.1,888.2 310.6,888.4 313.1,888.7 315.6,889.0 318.1,889.4 320.5,889.7 323.0,890.1 325.5,890.5 327.9,890.8 330.3,891.3 332.8,891.7 335.2,892.1 337.6,892.6 339.9,893.0 342.3,893.5 344.7,894.0 347.0,894.6 349.4,895.1 351.7,895.6 354.0,896.2 356.3,896.8 358.5,897.4 360.8,898.0 363.0,898.6 365.2,899.3 367.4,899.9 369.6,900.6 371.8,901.3 373.9,902.0 376.0,902.7 378.1,903.4 380.2,904.2 382.3,905.0 384.3,905.7 386.3,906.5 388.3,907.3 390.2,908.2 392.2,909.0 394.1,909.9 396.0,910.7 397.8,911.6 399.6,912.5 401.4,913.4 403.2,914.3 404.9,915.3 406.6,916.2 408.3,917.2 410.0,918.2 411.6,919.2 413.2,920.2 414.7,921.2 416.2,922.2 417.7,923.3 419.2,924.3 420.6,925.4 421.9,926.5 423.3,927.6 424.6,928.7 425.8,929.8 427.1,930.9 428.2,932.1 429.4,933.2 430.5,934.4 431.5,935.5 432.6,936.7 433.5,937.9 434.5,939.1 435.4,940.3 436.2,941.6 437.0,942.8 437.7,944.0 438.4,945.3 439.1,946.6 439.7,947.8 440.3,949.1 440.8,950.4 441.2,951.7 441.6,953.0 442.0,954.3 442.3,955.6 442.5,956.9 442.7,958.2 442.9,959.5 443.0,960.9 443.0,962.2 443.0,963.5 442.9,964.9 442.8,966.2 442.6,967.6 442.4,968.9 442.1,970.3 441.7,971.6 441.3,973.0 440.8,974.3 440.3,975.7 439.7,977.0 439.0,978.4 438.3,979.7 437.5,981.1 436.7,982.4 435.8,983.8 434.8,985.1 433.8,986.4 432.7,987.7 431.6,989.1 430.4,990.4 429.1,991.7 427.8,993.0 426.4,994.3 425.0,995.6 423.5,996.8 421.9,998.1 420.3,999.4 418.6,1000.6 416.8,1001.8 415.0,1003.1 413.1,1004.3 411.2,1005.5 409.2,1006.6 407.1,1007.8 405.0,1009.0 402.9,1010.1 400.6,1011.2 398.3,1012.3 396.0,1013.4 393.6,1014.5 391.2,1015.5 388.6,1016.5 386.1,1017.6 383.5,1018.5 380.8,1019.5 378.1,1020.5 375.3,1021.4 372.5,1022.3 369.7,1023.2 366.8,1024.0 363.8,1024.8 360.8,1025.6 357.8,1026.4 354.7,1027.2 351.6,1027.9 348.4,1028.6 345.2,1029.3 341.9,1029.9 338.7,1030.5 335.4,1031.1 332.0,1031.7 328.7,1032.2 325.3,1032.7 321.8,1033.2 318.4,1033.6 314.9,1034.0 311.4,1034.4 307.9,1034.7 304.3,1035.1 300.8,1035.3 297.2,1035.6 293.6,1035.8 290.0,1036.0 286.4,1036.2 282.8,1036.3 279.1,1036.4 275.5,1036.4 271.9,1036.5 268.2,1036.4 264.6,1036.4 260.9,1036.3 257.3,1036.2 253.7,1036.1 250.1,1035.9 246.4,1035.7" fill="url(#t4_0)" stroke="url(#t4_0)" stroke-width="0.5" stroke-linejoin="round"/>
<polyline points="264.9,885.8 267.3,948.0 246.4,1035.7" fill="none" stroke="#234c80" stroke-width="1.0" stroke-linejoin="round" stroke-linecap="round"/>
<polyline points="264.9,885.8 267.4,885.8 270.0,885.9 272.5,885.9 275.1,886.0 277.7,886.0 280.2,886.1 282.8,886.2 285.3,886.3 287.9,886.5 290.4,886.6 293.0,886.8 295.5,887.0 298.0,887.2 300.5,887.4 303.1,887.6 305.6,887.9 308.1,888.2 310.6,888.4 313.1,888.7 315.6,889.0 318.1,889.4 320.5,889.7 323.0,890.1 325.5,890.5 327.9,890.8 330.3,891.3 332.8,891.7 335.2,892.1 337.6,892.6 339.9,893.0 342.3,893.5 344.7,894.0 347.0,894.6 349.4,895.1 351.7,895.6 354.0,896.2 356.3,896.8 358.5,897.4 360.8,898.0 363.0,898.6 365.2,899.3 367.4,899.9 369.6,900.6 371.8,901.3 373.9,902.0 376.0,902.7 378.1,903.4 380.2,904.2 382.3,905.0 384.3,905.7 386.3,906.5 388.3,907.3 390.2,908.2 392.2,909.0 394.1,909.9 396.0,910.7 397.8,911.6 399.6,912.5 401.4,913.4 403.2,914.3 404.9,915.3 406.6,916.2 408.3,917.2 410.0,918.2 411.6,919.2 413.2,920.2 414.7,921.2 416.2,922.2 417.7,923.3 419.2,924.3 420.6,925.4 421.9,926.5 423.3,927.6 424.6,928.7 425.8,929.8 427.1,930.9 428.2,932.1 429.4,933.2 430.5,934.4 431.5,935.5 432.6,936.7 433.5,937.9 434.5,939.1 435.4,940.3 436.2,941.6 437.0,942.8 437.7,944.0 438.4,945.3 439.1,946.6 439.7,947.8 440.3,949.1 440.8,950.4 441.2,951.7 441.6,953.0 442.0,954.3 442.3,955.6 442.5,956.9 442.7,958.2 442.9,959.5 443.0,960.9 443.0,962.2 443.0,963.5 442.9,964.9 442.8,966.2" fill="none" stroke="#1d406b" stroke-width="0.9"/>
<polyline points="442.6,967.6 442.4,968.9 442.1,970.3 441.7,971.6 441.3,973.0 440.8,974.3 440.3,975.7 439.7,977.0 439.0,978.4 438.3,979.7 437.5,981.1 436.7,982.4 435.8,983.8 434.8,985.1 433.8,986.4 432.7,987.7 431.6,989.1 430.4,990.4 429.1,991.7 427.8,993.0 426.4,994.3 425.0,995.6 423.5,996.8 421.9,998.1 420.3,999.4 418.6,1000.6 416.8,1001.8 415.0,1003.1 413.1,1004.3 411.2,1005.5 409.2,1006.6 407.1,1007.8 405.0,1009.0 402.9,1010.1 400.6,1011.2 398.3,1012.3 396.0,1013.4 393.6,1014.5 391.2,1015.5 388.6,1016.5 386.1,1017.6 383.5,1018.5 380.8,1019.5 378.1,1020.5 375.3,1021.4 372.5,1022.3 369.7,1023.2 366.8,1024.0 363.8,1024.8 360.8,1025.6 357.8,1026.4 354.7,1027.2 351.6,1027.9 348.4,1028.6 345.2,1029.3 341.9,1029.9 338.7,1030.5 335.4,1031.1 332.0,1031.7 328.7,1032.2 325.3,1032.7 321.8,1033.2 318.4,1033.6 314.9,1034.0 311.4,1034.4 307.9,1034.7 304.3,1035.1 300.8,1035.3 297.2,1035.6 293.6,1035.8 290.0,1036.0 286.4,1036.2 282.8,1036.3 279.1,1036.4 275.5,1036.4 271.9,1036.5 268.2,1036.4 264.6,1036.4 260.9,1036.3 257.3,1036.2 253.7,1036.1 250.1,1035.9 246.4,1035.7" fill="none" stroke="#5e8bc3" stroke-width="1" stroke-opacity="0.55" transform="translate(0,0.9)"/>
<polygon points="236.5,951.2 208.9,1040.4 209.9,1076.0 236.7,982.5" fill="#992b27"/>
<polygon points="208.9,1040.4 205.3,1040.1 201.7,1039.9 198.1,1039.6 194.6,1039.2 191.0,1038.9 187.5,1038.5 184.0,1038.1 180.6,1037.6 177.1,1037.1 173.7,1036.6 170.3,1036.1 167.0,1035.5 163.7,1034.9 160.4,1034.2 157.2,1033.6 154.0,1032.9 150.8,1032.2 147.7,1031.4 144.6,1030.7 141.5,1029.9 138.5,1029.0 135.6,1028.2 132.7,1027.3 129.8,1026.4 127.0,1025.5 124.2,1024.6 121.5,1023.6 118.9,1022.6 116.2,1021.6 113.7,1020.6 111.2,1019.5 108.7,1018.5 106.3,1017.4 104.0,1016.3 101.7,1015.1 99.5,1014.0 97.3,1012.8 95.2,1011.7 93.2,1010.5 91.2,1009.3 89.2,1008.1 87.4,1006.9 85.5,1005.6 83.8,1004.4 82.1,1003.1 80.5,1001.8 78.9,1000.5 77.4,999.2 76.0,997.9 74.6,996.6 73.3,995.3 72.0,994.0 70.8,992.7 69.7,991.3 68.6,990.0 67.6,988.6 66.6,987.3 65.7,985.9 64.9,984.6 64.1,983.2 63.4,981.8 62.8,980.5 62.2,979.1 61.6,977.7 61.2,976.4 60.7,975.0 60.4,973.6 60.1,972.3 59.9,970.9 63.8,1003.2 64.1,1004.6 64.4,1006.0 64.8,1007.5 65.2,1008.9 65.6,1010.4 66.2,1011.8 66.8,1013.2 67.4,1014.7 68.1,1016.1 68.9,1017.5 69.7,1018.9 70.6,1020.4 71.5,1021.8 72.5,1023.2 73.6,1024.6 74.7,1026.0 75.9,1027.4 77.2,1028.8 78.5,1030.2 79.8,1031.6 81.3,1032.9 82.7,1034.3 84.3,1035.6 85.9,1037.0 87.5,1038.3 89.3,1039.6 91.0,1040.9 92.9,1042.2 94.8,1043.4 96.7,1044.7 98.7,1045.9 100.8,1047.2 102.9,1048.4 105.1,1049.6 107.4,1050.7 109.7,1051.9 112.0,1053.0 114.4,1054.1 116.9,1055.2 119.4,1056.3 121.9,1057.4 124.5,1058.4 127.2,1059.4 129.9,1060.4 132.6,1061.4 135.4,1062.3 138.3,1063.2 141.2,1064.1 144.1,1065.0 147.1,1065.8 150.1,1066.6 153.2,1067.4 156.3,1068.1 159.4,1068.8 162.6,1069.5 165.8,1070.2 169.0,1070.8 172.3,1071.4 175.6,1072.0 178.9,1072.5 182.3,1073.0 185.6,1073.5 189.0,1074.0 192.5,1074.4 195.9,1074.8 199.4,1075.1 202.9,1075.4 206.4,1075.7 209.9,1076.0" fill="url(#w4_1_0)"/>
<polygon points="236.5,951.2 208.9,1040.4 205.3,1040.1 201.7,1039.9 198.1,1039.6 194.6,1039.2 191.0,1038.9 187.5,1038.5 184.0,1038.1 180.6,1037.6 177.1,1037.1 173.7,1036.6 170.3,1036.1 167.0,1035.5 163.7,1034.9 160.4,1034.2 157.2,1033.6 154.0,1032.9 150.8,1032.2 147.7,1031.4 144.6,1030.7 141.5,1029.9 138.5,1029.0 135.6,1028.2 132.7,1027.3 129.8,1026.4 127.0,1025.5 124.2,1024.6 121.5,1023.6 118.9,1022.6 116.2,1021.6 113.7,1020.6 111.2,1019.5 108.7,1018.5 106.3,1017.4 104.0,1016.3 101.7,1015.1 99.5,1014.0 97.3,1012.8 95.2,1011.7 93.2,1010.5 91.2,1009.3 89.2,1008.1 87.4,1006.9 85.5,1005.6 83.8,1004.4 82.1,1003.1 80.5,1001.8 78.9,1000.5 77.4,999.2 76.0,997.9 74.6,996.6 73.3,995.3 72.0,994.0 70.8,992.7 69.7,991.3 68.6,990.0 67.6,988.6 66.6,987.3 65.7,985.9 64.9,984.6 64.1,983.2 63.4,981.8 62.8,980.5 62.2,979.1 61.6,977.7 61.2,976.4 60.7,975.0 60.4,973.6 60.1,972.3 59.9,970.9 59.7,969.5 59.5,968.2 59.5,966.8 59.5,965.5 59.5,964.1 59.6,962.8 59.7,961.4 59.9,960.1 60.2,958.8 60.5,957.4 60.9,956.1 61.3,954.8 61.7,953.5 62.2,952.2 62.8,950.9 63.4,949.7 64.1,948.4 64.8,947.1 65.5,945.9 66.3,944.6 67.1,943.4 68.0,942.2 69.0,940.9 69.9,939.7 71.0,938.5 72.0,937.3 73.1,936.2 74.3,935.0 75.4,933.9 76.7,932.7 77.9,931.6 79.2,930.5 80.6,929.4 81.9,928.3 83.3,927.2 84.8,926.1 86.3,925.1" fill="url(#t4_1)" stroke="url(#t4_1)" stroke-width="0.5" stroke-linejoin="round"/>
<polyline points="208.9,1040.4 236.5,951.2 86.3,925.1" fill="none" stroke="#832522" stroke-width="1.0" stroke-linejoin="round" stroke-linecap="round"/>
<polyline points="59.7,969.5 59.5,968.2 59.5,966.8 59.5,965.5 59.5,964.1 59.6,962.8 59.7,961.4 59.9,960.1 60.2,958.8 60.5,957.4 60.9,956.1 61.3,954.8 61.7,953.5 62.2,952.2 62.8,950.9 63.4,949.7 64.1,948.4 64.8,947.1 65.5,945.9 66.3,944.6 67.1,943.4 68.0,942.2 69.0,940.9 69.9,939.7 71.0,938.5 72.0,937.3 73.1,936.2 74.3,935.0 75.4,933.9 76.7,932.7 77.9,931.6 79.2,930.5 80.6,929.4 81.9,928.3 83.3,927.2 84.8,926.1 86.3,925.1" fill="none" stroke="#6d1f1c" stroke-width="0.9"/>
<polyline points="208.9,1040.4 205.3,1040.1 201.7,1039.9 198.1,1039.6 194.6,1039.2 191.0,1038.9 187.5,1038.5 184.0,1038.1 180.6,1037.6 177.1,1037.1 173.7,1036.6 170.3,1036.1 167.0,1035.5 163.7,1034.9 160.4,1034.2 157.2,1033.6 154.0,1032.9 150.8,1032.2 147.7,1031.4 144.6,1030.7 141.5,1029.9 138.5,1029.0 135.6,1028.2 132.7,1027.3 129.8,1026.4 127.0,1025.5 124.2,1024.6 121.5,1023.6 118.9,1022.6 116.2,1021.6 113.7,1020.6 111.2,1019.5 108.7,1018.5 106.3,1017.4 104.0,1016.3 101.7,1015.1 99.5,1014.0 97.3,1012.8 95.2,1011.7 93.2,1010.5 91.2,1009.3 89.2,1008.1 87.4,1006.9 85.5,1005.6 83.8,1004.4 82.1,1003.1 80.5,1001.8 78.9,1000.5 77.4,999.2 76.0,997.9 74.6,996.6 73.3,995.3 72.0,994.0 70.8,992.7 69.7,991.3 68.6,990.0 67.6,988.6 66.6,987.3 65.7,985.9 64.9,984.6 64.1,983.2 63.4,981.8 62.8,980.5 62.2,979.1 61.6,977.7 61.2,976.4 60.7,975.0 60.4,973.6 60.1,972.3 59.9,970.9" fill="none" stroke="#c6605d" stroke-width="1" stroke-opacity="0.55" transform="translate(0,0.9)"/>
<polyline points="150.8,842.5 158.0,842.5 188.8,883.0" fill="none" stroke="#1c1c1c" stroke-width="1.6" stroke-linejoin="round"/>
<polyline points="115.0,847.0 122.5,847.0 180.5,885.0" fill="none" stroke="#1c1c1c" stroke-width="1.6" stroke-linejoin="round"/>
<polyline points="228.5,838.3 221.5,838.3 208.0,880.8" fill="none" stroke="#1c1c1c" stroke-width="1.6" stroke-linejoin="round"/>
<polyline points="227.0,871.2 227.0,880.0" fill="none" stroke="#1c1c1c" stroke-width="1.6" stroke-linejoin="round"/>
<polyline points="301.8,834.5 294.2,834.5 240.8,879.2" fill="none" stroke="#1c1c1c" stroke-width="1.6" stroke-linejoin="round"/>
<polyline points="345.0,865.0 338.0,865.0 248.0,879.5" fill="none" stroke="#1c1c1c" stroke-width="1.6" stroke-linejoin="round"/>
<polyline points="124.2,885.0 131.2,885.0 151.2,891.2" fill="none" stroke="#1c1c1c" stroke-width="1.6" stroke-linejoin="round"/>
<polyline points="60.0,942.0 67.5,942.0 107.5,908.8" fill="none" stroke="#1c1c1c" stroke-width="1.6" stroke-linejoin="round"/>
<text x="124.2" y="797.0" font-size="22.6" textLength="93.4" lengthAdjust="spacingAndGlyphs" class="t">ΜΕΡΙΔΙΟ</text>
<text x="227.6" y="797.0" font-size="22.6" textLength="79.1" lengthAdjust="spacingAndGlyphs" class="t">ΑΓΟΡΑΣ</text>
<text x="314.7" y="797.0" font-size="22.6" textLength="51.5" lengthAdjust="spacingAndGlyphs" class="t">2016</text>
<text x="105.6" y="828.8" font-size="13.3" textLength="63.9" lengthAdjust="spacingAndGlyphs" class="l" fill="#151515" stroke="#151515">ΑΙΓΥΠΤΟΣ</text>
<text x="127.4" y="843.0" font-size="13.3" textLength="20.4" lengthAdjust="spacingAndGlyphs" class="l" fill="#151515" stroke="#151515">1%</text>
<text x="39.7" y="847.5" font-size="13.3" textLength="73.1" lengthAdjust="spacingAndGlyphs" class="l" fill="#151515" stroke="#151515">ΑΡΓΕΝΤΙΝΗ</text>
<text x="66.0" y="862.0" font-size="13.3" textLength="20.4" lengthAdjust="spacingAndGlyphs" class="l" fill="#151515" stroke="#151515">1%</text>
<text x="212.9" y="824.5" font-size="13.3" textLength="56.3" lengthAdjust="spacingAndGlyphs" class="l" fill="#151515" stroke="#151515">ΤΟΥΡΚΙΑ</text>
<text x="230.8" y="839.5" font-size="13.3" textLength="20.4" lengthAdjust="spacingAndGlyphs" class="l" fill="#151515" stroke="#151515">2%</text>
<text x="184.0" y="854.5" font-size="13.3" textLength="81.5" lengthAdjust="spacingAndGlyphs" class="l" fill="#151515" stroke="#151515">ΠΟΡΤΟΓΑΛΙΑ</text>
<text x="214.6" y="868.8" font-size="13.3" textLength="20.4" lengthAdjust="spacingAndGlyphs" class="l" fill="#151515" stroke="#151515">1%</text>
<text x="303.6" y="833.8" font-size="13.3" textLength="43.3" lengthAdjust="spacingAndGlyphs" class="l" fill="#151515" stroke="#151515">ΠΕΡΟΥ</text>
<text x="315.1" y="848.0" font-size="13.3" textLength="20.4" lengthAdjust="spacingAndGlyphs" class="l" fill="#151515" stroke="#151515">1%</text>
<text x="347.8" y="865.5" font-size="13.3" textLength="44.3" lengthAdjust="spacingAndGlyphs" class="l" fill="#151515" stroke="#151515">ΓΑΛΛΙΑ</text>
<text x="359.8" y="879.5" font-size="13.3" textLength="20.4" lengthAdjust="spacingAndGlyphs" class="l" fill="#151515" stroke="#151515">1%</text>
<text x="78.6" y="885.0" font-size="13.3" textLength="43.0" lengthAdjust="spacingAndGlyphs" class="l" fill="#151515" stroke="#151515">ΙΤΑΛΙΑ</text>
<text x="89.9" y="899.5" font-size="13.3" textLength="20.4" lengthAdjust="spacingAndGlyphs" class="l" fill="#151515" stroke="#151515">6%</text>
<text x="2.3" y="942.0" font-size="13.3" textLength="54.8" lengthAdjust="spacingAndGlyphs" class="l" fill="#151515" stroke="#151515">ΜΑΡΟΚΟ</text>
<text x="19.5" y="956.2" font-size="13.3" textLength="20.4" lengthAdjust="spacingAndGlyphs" class="l" fill="#151515" stroke="#151515">5%</text>
<text x="328.4" y="962.1" font-size="13.3" textLength="52.0" lengthAdjust="spacingAndGlyphs" class="l" fill="#0e1c36" stroke="#0e1c36">ΙΣΠΑΝΙΑ</text>
<text x="340.4" y="976.9" font-size="13.3" textLength="28.1" lengthAdjust="spacingAndGlyphs" class="l" fill="#0e1c36" stroke="#0e1c36">52%</text>
<text x="122.4" y="975.6" font-size="13.3" textLength="49.7" lengthAdjust="spacingAndGlyphs" class="l" fill="#3a1012" stroke="#3a1012">ΕΛΛΑΔΑ</text>
<text x="133.2" y="990.3" font-size="13.3" textLength="28.1" lengthAdjust="spacingAndGlyphs" class="l" fill="#3a1012" stroke="#3a1012">30%</text>
<polygon points="762.5,945.8 758.5,893.5 758.6,918.2 762.5,973.6" fill="#3b3547"/>
<polygon points="762.5,945.8 762.6,893.4 762.6,918.2 762.5,973.6" fill="#27232f"/>
<polygon points="762.5,945.8 758.5,893.5 760.5,893.4 762.6,893.4" fill="url(#t5_9)" stroke="url(#t5_9)" stroke-width="0.5" stroke-linejoin="round"/>
<polyline points="758.5,893.5 762.5,945.8 762.6,893.4" fill="none" stroke="#4a4258" stroke-width="1.0" stroke-linejoin="round" stroke-linecap="round"/>
<polyline points="758.5,893.5 760.5,893.4 762.6,893.4" fill="none" stroke="#625876" stroke-width="0.9"/>
<polygon points="760.2,945.9 748.3,893.8 748.6,918.6 760.3,973.8" fill="#3e492d"/>
<polygon points="760.2,945.9 748.3,893.8 750.4,893.7 752.5,893.6 754.5,893.6 756.6,893.6" fill="url(#t5_8)" stroke="url(#t5_8)" stroke-width="0.5" stroke-linejoin="round"/>
<polyline points="748.3,893.8 760.2,945.9 756.6,893.6" fill="none" stroke="#4d5b38" stroke-width="1.0" stroke-linejoin="round" stroke-linecap="round"/>
<polyline points="748.3,893.8 750.4,893.7 752.5,893.6 754.5,893.6 756.6,893.6" fill="none" stroke="#67794a" stroke-width="0.9"/>
<polygon points="756.5,946.2 732.7,894.6 733.2,919.5 756.7,974.1" fill="#4d2c2c"/>
<polygon points="756.5,946.2 732.7,894.6 734.8,894.5 736.9,894.4 738.9,894.3 741.0,894.1 743.1,894.1 745.2,894.0" fill="url(#t5_7)" stroke="url(#t5_7)" stroke-width="0.5" stroke-linejoin="round"/>
<polyline points="732.7,894.6 756.5,946.2 745.2,894.0" fill="none" stroke="#603838" stroke-width="1.0" stroke-linejoin="round" stroke-linecap="round"/>
<polyline points="732.7,894.6 734.8,894.5 736.9,894.4 738.9,894.3 741.0,894.1 743.1,894.1 745.2,894.0" fill="none" stroke="#804a4a" stroke-width="0.9"/>
<polygon points="751.8,947.0 713.7,896.6 714.5,921.6 752.1,974.9" fill="#2a384c"/>
<polygon points="751.8,947.0 713.7,896.6 715.8,896.4 717.9,896.2 720.1,896.0 722.2,895.8 724.4,895.6 726.5,895.4 728.7,895.2" fill="url(#t5_6)" stroke="url(#t5_6)" stroke-width="0.5" stroke-linejoin="round"/>
<polyline points="713.7,896.6 751.8,947.0 728.7,895.2" fill="none" stroke="#354760" stroke-width="1.0" stroke-linejoin="round" stroke-linecap="round"/>
<polyline points="713.7,896.6 715.8,896.4 717.9,896.2 720.1,896.0 722.2,895.8 724.4,895.6 726.5,895.4 728.7,895.2" fill="none" stroke="#475e80" stroke-width="0.9"/>
<polygon points="747.7,948.3 698.0,899.2 699.1,924.4 748.0,976.2" fill="#512d0c"/>
<polygon points="747.7,948.3 698.0,899.2 700.0,898.9 702.0,898.6 704.0,898.4 706.0,898.1 708.0,897.8 710.0,897.6" fill="url(#t5_5)" stroke="url(#t5_5)" stroke-width="0.5" stroke-linejoin="round"/>
<polyline points="698.0,899.2 747.7,948.3 710.0,897.6" fill="none" stroke="#683a0f" stroke-width="1.0" stroke-linejoin="round" stroke-linecap="round"/>
<polyline points="698.0,899.2 700.0,898.9 702.0,898.6 704.0,898.4 706.0,898.1 708.0,897.8 710.0,897.6" fill="none" stroke="#8b4d14" stroke-width="0.9"/>
<polygon points="745.9,949.1 694.9,900.1 696.0,925.3 746.3,977.0" fill="#0f3542"/>
<polygon points="745.9,949.1 694.9,900.1 695.6,900.0 696.4,899.8" fill="url(#t5_4)" stroke="url(#t5_4)" stroke-width="0.5" stroke-linejoin="round"/>
<polyline points="694.9,900.1 745.9,949.1 696.4,899.8" fill="none" stroke="#144555" stroke-width="1.0" stroke-linejoin="round" stroke-linecap="round"/>
<polyline points="694.9,900.1 695.6,900.0 696.4,899.8" fill="none" stroke="#1a5c71" stroke-width="0.9"/>
<polygon points="740.4,951.2 651.4,910.9 653.3,936.7 740.9,979.3" fill="#35224d"/>
<polygon points="740.4,951.2 651.4,910.9 653.2,910.3 655.0,909.7 656.8,909.2 658.7,908.6 660.5,908.1 662.4,907.6 664.3,907.1 666.2,906.6 668.1,906.1 670.0,905.6 671.9,905.2 673.9,904.8 675.9,904.3 677.8,903.9 679.8,903.5 681.8,903.1 683.8,902.7 685.8,902.4 687.8,902.0 689.8,901.7" fill="url(#t5_3)" stroke="url(#t5_3)" stroke-width="0.5" stroke-linejoin="round"/>
<polyline points="651.4,910.9 740.4,951.2 689.8,901.7" fill="none" stroke="#2f1e44" stroke-width="1.0" stroke-linejoin="round" stroke-linecap="round"/>
<polyline points="651.4,910.9 653.2,910.3 655.0,909.7 656.8,909.2 658.7,908.6 660.5,908.1 662.4,907.6 664.3,907.1 666.2,906.6 668.1,906.1 670.0,905.6 671.9,905.2 673.9,904.8 675.9,904.3 677.8,903.9 679.8,903.5 681.8,903.1 683.8,902.7 685.8,902.4 687.8,902.0 689.8,901.7" fill="none" stroke="#3e285a" stroke-width="0.9"/>
<polygon points="733.3,956.6 607.3,931.9 610.2,959.0 733.9,985.0" fill="#3b4d19"/>
<polygon points="733.3,956.6 607.3,931.9 608.7,931.0 610.2,930.2 611.6,929.3 613.1,928.4 614.6,927.6 616.2,926.8 617.7,925.9 619.3,925.1 620.9,924.3 622.6,923.6 624.2,922.8 625.9,922.0 627.6,921.3 629.3,920.6 631.1,919.8 632.8,919.1 634.6,918.4 636.4,917.8 638.3,917.1 640.1,916.4 642.0,915.8 643.8,915.2" fill="url(#t5_2)" stroke="url(#t5_2)" stroke-width="0.5" stroke-linejoin="round"/>
<polyline points="607.3,931.9 733.3,956.6 643.8,915.2" fill="none" stroke="#374817" stroke-width="1.0" stroke-linejoin="round" stroke-linecap="round"/>
<polyline points="607.3,931.9 608.7,931.0 610.2,930.2 611.6,929.3 613.1,928.4 614.6,927.6 616.2,926.8 617.7,925.9 619.3,925.1 620.9,924.3 622.6,923.6 624.2,922.8 625.9,922.0 627.6,921.3 629.3,920.6 631.1,919.8 632.8,919.1 634.6,918.4 636.4,917.8 638.3,917.1 640.1,916.4 642.0,915.8 643.8,915.2" fill="none" stroke="#49601f" stroke-width="0.9"/>
<polygon points="775.4,965.5 773.6,907.9 773.4,933.5 775.2,994.4" fill="#163050"/>
<polygon points="775.4,965.5 803.1,1046.6 802.2,1079.4 775.2,994.4" fill="#163050"/>
<polygon points="931.2,983.3 931.0,984.5 930.7,985.8 930.4,987.0 930.0,988.3 929.6,989.5 929.2,990.8 928.6,992.0 928.1,993.3 927.5,994.5 926.8,995.7 926.0,997.0 925.3,998.2 924.4,999.5 923.5,1000.7 922.6,1001.9 921.6,1003.1 920.5,1004.4 919.4,1005.6 918.3,1006.8 917.0,1008.0 915.8,1009.2 914.4,1010.3 913.1,1011.5 911.6,1012.7 910.1,1013.8 908.6,1015.0 907.0,1016.1 905.4,1017.2 903.7,1018.3 901.9,1019.4 900.1,1020.5 898.2,1021.6 896.3,1022.6 894.4,1023.7 892.4,1024.7 890.3,1025.7 888.2,1026.7 886.0,1027.7 883.8,1028.6 881.6,1029.6 879.3,1030.5 876.9,1031.4 874.5,1032.3 872.1,1033.1 869.6,1034.0 867.1,1034.8 864.5,1035.6 861.9,1036.4 859.3,1037.1 856.6,1037.9 853.9,1038.6 851.1,1039.3 848.3,1039.9 845.5,1040.5 842.7,1041.1 839.8,1041.7 836.8,1042.3 833.9,1042.8 830.9,1043.3 827.9,1043.8 824.9,1044.2 821.8,1044.7 818.8,1045.1 815.7,1045.4 812.6,1045.7 809.4,1046.1 806.3,1046.3 803.1,1046.6 802.2,1079.4 805.3,1079.2 808.3,1078.9 811.4,1078.5 814.4,1078.2 817.4,1077.8 820.4,1077.4 823.4,1077.0 826.4,1076.5 829.3,1076.0 832.2,1075.5 835.1,1074.9 838.0,1074.3 840.8,1073.7 843.6,1073.1 846.3,1072.4 849.1,1071.8 851.8,1071.0 854.4,1070.3 857.0,1069.5 859.6,1068.8 862.2,1067.9 864.7,1067.1 867.2,1066.3 869.6,1065.4 872.0,1064.5 874.3,1063.6 876.6,1062.6 878.9,1061.6 881.1,1060.7 883.2,1059.7 885.3,1058.6 887.4,1057.6 889.4,1056.5 891.4,1055.5 893.3,1054.4 895.2,1053.3 897.0,1052.2 898.8,1051.0 900.5,1049.9 902.2,1048.7 903.8,1047.5 905.4,1046.4 906.9,1045.2 908.3,1043.9 909.8,1042.7 911.1,1041.5 912.4,1040.3 913.7,1039.0 914.9,1037.8 916.0,1036.5 917.1,1035.2 918.2,1033.9 919.1,1032.7 920.1,1031.4 921.0,1030.1 921.8,1028.8 922.6,1027.5 923.3,1026.2 924.0,1024.9 924.6,1023.6 925.2,1022.3 925.7,1020.9 926.1,1019.6 926.6,1018.3 926.9,1017.0 927.2,1015.7 927.5,1014.4 927.7,1013.1" fill="url(#w5_0_105)"/>
<polygon points="775.4,965.5 773.6,907.9 775.9,907.9 778.1,907.9 780.4,907.9 782.7,908.0 784.9,908.1 787.2,908.1 789.5,908.2 791.7,908.3 794.0,908.5 796.2,908.6 798.5,908.8 800.7,908.9 803.0,909.1 805.2,909.3 807.5,909.5 809.7,909.8 811.9,910.0 814.1,910.3 816.3,910.5 818.5,910.8 820.7,911.1 822.9,911.5 825.1,911.8 827.3,912.1 829.5,912.5 831.6,912.9 833.8,913.3 835.9,913.7 838.0,914.1 840.1,914.5 842.2,915.0 844.3,915.4 846.4,915.9 848.5,916.4 850.5,916.9 852.6,917.4 854.6,918.0 856.6,918.5 858.6,919.1 860.6,919.7 862.5,920.3 864.5,920.9 866.4,921.5 868.3,922.1 870.2,922.8 872.1,923.4 873.9,924.1 875.8,924.8 877.6,925.5 879.4,926.2 881.2,927.0 882.9,927.7 884.7,928.5 886.4,929.2 888.1,930.0 889.7,930.8 891.4,931.6 893.0,932.5 894.6,933.3 896.2,934.2 897.7,935.0 899.2,935.9 900.7,936.8 902.2,937.7 903.6,938.6 905.0,939.5 906.4,940.5 907.7,941.4 909.0,942.4 910.3,943.4 911.6,944.3 912.8,945.3 914.0,946.3 915.1,947.4 916.2,948.4 917.3,949.4 918.4,950.5 919.4,951.6 920.3,952.6 921.3,953.7 922.2,954.8 923.1,955.9 923.9,957.0 924.7,958.1 925.4,959.3 926.1,960.4 926.8,961.6 927.4,962.7 928.0,963.9 928.5,965.0 929.0,966.2 929.5,967.4 929.9,968.6 930.3,969.8 930.6,971.0 930.9,972.2 931.1,973.4 931.3,974.6 931.4,975.8 931.5,977.1 931.5,978.3 931.5,979.5 931.5,980.8 931.3,982.0 931.2,983.3 931.0,984.5 930.7,985.8 930.4,987.0 930.0,988.3 929.6,989.5 929.2,990.8 928.6,992.0 928.1,993.3 927.5,994.5 926.8,995.7 926.0,997.0 925.3,998.2 924.4,999.5 923.5,1000.7 922.6,1001.9 921.6,1003.1 920.5,1004.4 919.4,1005.6 918.3,1006.8 917.0,1008.0 915.8,1009.2 914.4,1010.3 913.1,1011.5 911.6,1012.7 910.1,1013.8 908.6,1015.0 907.0,1016.1 905.4,1017.2 903.7,1018.3 901.9,1019.4 900.1,1020.5 898.2,1021.6 896.3,1022.6 894.4,1023.7 892.4,1024.7 890.3,1025.7 888.2,1026.7 886.0,1027.7 883.8,1028.6 881.6,1029.6 879.3,1030.5 876.9,1031.4 874.5,1032.3 872.1,1033.1 869.6,1034.0 867.1,1034.8 864.5,1035.6 861.9,1036.4 859.3,1037.1 856.6,1037.9 853.9,1038.6 851.1,1039.3 848.3,1039.9 845.5,1040.5 842.7,1041.1 839.8,1041.7 836.8,1042.3 833.9,1042.8 830.9,1043.3 827.9,1043.8 824.9,1044.2 821.8,1044.7 818.8,1045.1 815.7,1045.4 812.6,1045.7 809.4,1046.1 806.3,1046.3 803.1,1046.6" fill="url(#t5_0)" stroke="url(#t5_0)" stroke-width="0.5" stroke-linejoin="round"/>
<polyline points="773.6,907.9 775.4,965.5 803.1,1046.6" fill="none" stroke="#234c80" stroke-width="1.0" stroke-linejoin="round" stroke-linecap="round"/>
<polyline points="773.6,907.9 775.9,907.9 778.1,907.9 780.4,907.9 782.7,908.0 784.9,908.1 787.2,908.1 789.5,908.2 791.7,908.3 794.0,908.5 796.2,908.6 798.5,908.8 800.7,908.9 803.0,909.1 805.2,909.3 807.5,909.5 809.7,909.8 811.9,910.0 814.1,910.3 816.3,910.5 818.5,910.8 820.7,911.1 822.9,911.5 825.1,911.8 827.3,912.1 829.5,912.5 831.6,912.9 833.8,913.3 835.9,913.7 838.0,914.1 840.1,914.5 842.2,915.0 844.3,915.4 846.4,915.9 848.5,916.4 850.5,916.9 852.6,917.4 854.6,918.0 856.6,918.5 858.6,919.1 860.6,919.7 862.5,920.3 864.5,920.9 866.4,921.5 868.3,922.1 870.2,922.8 872.1,923.4 873.9,924.1 875.8,924.8 877.6,925.5 879.4,926.2 881.2,927.0 882.9,927.7 884.7,928.5 886.4,929.2 888.1,930.0 889.7,930.8 891.4,931.6 893.0,932.5 894.6,933.3 896.2,934.2 897.7,935.0 899.2,935.9 900.7,936.8 902.2,937.7 903.6,938.6 905.0,939.5 906.4,940.5 907.7,941.4 909.0,942.4 910.3,943.4 911.6,944.3 912.8,945.3 914.0,946.3 915.1,947.4 916.2,948.4 917.3,949.4 918.4,950.5 919.4,951.6 920.3,952.6 921.3,953.7 922.2,954.8 923.1,955.9 923.9,957.0 924.7,958.1 925.4,959.3 926.1,960.4 926.8,961.6 927.4,962.7 928.0,963.9 928.5,965.0 929.0,966.2 929.5,967.4 929.9,968.6 930.3,969.8 930.6,971.0 930.9,972.2 931.1,973.4 931.3,974.6 931.4,975.8 931.5,977.1 931.5,978.3 931.5,979.5 931.5,980.8 931.3,982.0" fill="none" stroke="#1d406b" stroke-width="0.9"/>
<polyline points="931.2,983.3 931.0,984.5 930.7,985.8 930.4,987.0 930.0,988.3 929.6,989.5 929.2,990.8 928.6,992.0 928.1,993.3 927.5,994.5 926.8,995.7 926.0,997.0 925.3,998.2 924.4,999.5 923.5,1000.7 922.6,1001.9 921.6,1003.1 920.5,1004.4 919.4,1005.6 918.3,1006.8 917.0,1008.0 915.8,1009.2 914.4,1010.3 913.1,1011.5 911.6,1012.7 910.1,1013.8 908.6,1015.0 907.0,1016.1 905.4,1017.2 903.7,1018.3 901.9,1019.4 900.1,1020.5 898.2,1021.6 896.3,1022.6 894.4,1023.7 892.4,1024.7 890.3,1025.7 888.2,1026.7 886.0,1027.7 883.8,1028.6 881.6,1029.6 879.3,1030.5 876.9,1031.4 874.5,1032.3 872.1,1033.1 869.6,1034.0 867.1,1034.8 864.5,1035.6 861.9,1036.4 859.3,1037.1 856.6,1037.9 853.9,1038.6 851.1,1039.3 848.3,1039.9 845.5,1040.5 842.7,1041.1 839.8,1041.7 836.8,1042.3 833.9,1042.8 830.9,1043.3 827.9,1043.8 824.9,1044.2 821.8,1044.7 818.8,1045.1 815.7,1045.4 812.6,1045.7 809.4,1046.1 806.3,1046.3 803.1,1046.6" fill="none" stroke="#5e8bc3" stroke-width="1" stroke-opacity="0.55" transform="translate(0,0.9)"/>
<polygon points="776.1,1052.2 772.8,1052.4 769.6,1052.6 766.3,1052.7 763.1,1052.9 759.8,1053.0 756.5,1053.1 753.2,1053.1 750.0,1053.1 746.7,1053.1 743.4,1053.0 740.1,1052.9 736.9,1052.8 733.6,1052.7 730.4,1052.5 727.1,1052.3 723.9,1052.1 720.7,1051.8 717.5,1051.5 714.3,1051.2 711.2,1050.8 708.0,1050.4 704.9,1050.0 701.8,1049.6 698.8,1049.1 695.7,1048.6 692.7,1048.1 689.7,1047.5 686.8,1046.9 683.9,1046.3 681.0,1045.7 678.1,1045.0 675.3,1044.4 672.5,1043.6 669.8,1042.9 667.0,1042.1 664.4,1041.4 661.7,1040.6 659.2,1039.7 656.6,1038.9 654.1,1038.0 651.7,1037.1 649.3,1036.2 646.9,1035.3 644.6,1034.3 642.3,1033.3 640.1,1032.3 637.9,1031.3 635.8,1030.3 633.7,1029.2 631.7,1028.2 629.8,1027.1 627.8,1026.0 626.0,1024.9 624.2,1023.8 622.4,1022.7 620.7,1021.5 619.1,1020.4 617.5,1019.2 615.9,1018.0 614.5,1016.8 613.0,1015.6 611.7,1014.4 610.4,1013.2 609.1,1012.0 607.9,1010.7 606.7,1009.5 605.6,1008.3 604.6,1007.0 603.6,1005.7 602.7,1004.5 601.8,1003.2 601.0,1002.0 600.2,1000.7 599.5,999.4 598.9,998.1 598.3,996.8 597.7,995.6 597.2,994.3 596.8,993.0 596.4,991.7 596.1,990.4 595.8,989.2 595.6,987.9 595.4,986.6 598.9,1016.6 599.1,1017.9 599.3,1019.3 599.6,1020.6 599.9,1022.0 600.3,1023.3 600.7,1024.7 601.2,1026.0 601.8,1027.3 602.4,1028.7 603.0,1030.0 603.7,1031.4 604.5,1032.7 605.3,1034.0 606.2,1035.4 607.1,1036.7 608.1,1038.0 609.1,1039.3 610.2,1040.6 611.3,1041.9 612.5,1043.2 613.7,1044.5 615.0,1045.8 616.4,1047.0 617.8,1048.3 619.2,1049.5 620.8,1050.8 622.3,1052.0 623.9,1053.2 625.6,1054.4 627.3,1055.6 629.1,1056.8 630.9,1057.9 632.8,1059.1 634.7,1060.2 636.7,1061.3 638.7,1062.4 640.8,1063.5 642.9,1064.5 645.1,1065.6 647.3,1066.6 649.6,1067.6 651.9,1068.6 654.3,1069.5 656.7,1070.5 659.1,1071.4 661.6,1072.3 664.1,1073.1 666.7,1074.0 669.3,1074.8 672.0,1075.6 674.6,1076.3 677.4,1077.1 680.1,1077.8 682.9,1078.5 685.7,1079.2 688.6,1079.8 691.5,1080.4 694.4,1081.0 697.3,1081.5 700.3,1082.1 703.3,1082.6 706.3,1083.0 709.4,1083.4 712.4,1083.8 715.5,1084.2 718.6,1084.6 721.7,1084.9 724.9,1085.1 728.0,1085.4 731.2,1085.6 734.3,1085.8 737.5,1085.9 740.7,1086.1 743.9,1086.1 747.1,1086.2 750.3,1086.2 753.5,1086.2 756.7,1086.2 759.9,1086.1 763.1,1086.0 766.3,1085.9 769.4,1085.7 772.6,1085.5 775.8,1085.2" fill="url(#w5_1_0)"/>
<polygon points="752.8,969.3 776.1,1052.2 772.8,1052.4 769.6,1052.6 766.3,1052.7 763.1,1052.9 759.8,1053.0 756.5,1053.1 753.2,1053.1 750.0,1053.1 746.7,1053.1 743.4,1053.0 740.1,1052.9 736.9,1052.8 733.6,1052.7 730.4,1052.5 727.1,1052.3 723.9,1052.1 720.7,1051.8 717.5,1051.5 714.3,1051.2 711.2,1050.8 708.0,1050.4 704.9,1050.0 701.8,1049.6 698.8,1049.1 695.7,1048.6 692.7,1048.1 689.7,1047.5 686.8,1046.9 683.9,1046.3 681.0,1045.7 678.1,1045.0 675.3,1044.4 672.5,1043.6 669.8,1042.9 667.0,1042.1 664.4,1041.4 661.7,1040.6 659.2,1039.7 656.6,1038.9 654.1,1038.0 651.7,1037.1 649.3,1036.2 646.9,1035.3 644.6,1034.3 642.3,1033.3 640.1,1032.3 637.9,1031.3 635.8,1030.3 633.7,1029.2 631.7,1028.2 629.8,1027.1 627.8,1026.0 626.0,1024.9 624.2,1023.8 622.4,1022.7 620.7,1021.5 619.1,1020.4 617.5,1019.2 615.9,1018.0 614.5,1016.8 613.0,1015.6 611.7,1014.4 610.4,1013.2 609.1,1012.0 607.9,1010.7 606.7,1009.5 605.6,1008.3 604.6,1007.0 603.6,1005.7 602.7,1004.5 601.8,1003.2 601.0,1002.0 600.2,1000.7 599.5,999.4 598.9,998.1 598.3,996.8 597.7,995.6 597.2,994.3 596.8,993.0 596.4,991.7 596.1,990.4 595.8,989.2 595.6,987.9 595.4,986.6 595.2,985.3 595.2,984.1 595.1,982.8 595.2,981.5 595.2,980.3 595.4,979.0 595.5,977.8 595.7,976.5 596.0,975.3 596.3,974.1 596.7,972.8 597.1,971.6 597.5,970.4 598.0,969.2 598.5,968.0 599.1,966.8 599.7,965.6 600.4,964.4 601.1,963.3 601.8,962.1 602.6,961.0 603.5,959.8 604.3,958.7 605.2,957.6 606.2,956.5 607.1,955.4 608.2,954.3 609.2,953.2 610.3,952.1 611.4,951.1 612.6,950.0 613.8,949.0 615.0,948.0 616.3,947.0 617.5,946.0 618.9,945.0 620.2,944.0 621.6,943.0" fill="url(#t5_1)" stroke="url(#t5_1)" stroke-width="0.5" stroke-linejoin="round"/>
<polyline points="776.1,1052.2 752.8,969.3 621.6,943.0" fill="none" stroke="#832522" stroke-width="1.0" stroke-linejoin="round" stroke-linecap="round"/>
<polyline points="595.2,985.3 595.2,984.1 595.1,982.8 595.2,981.5 595.2,980.3 595.4,979.0 595.5,977.8 595.7,976.5 596.0,975.3 596.3,974.1 596.7,972.8 597.1,971.6 597.5,970.4 598.0,969.2 598.5,968.0 599.1,966.8 599.7,965.6 600.4,964.4 601.1,963.3 601.8,962.1 602.6,961.0 603.5,959.8 604.3,958.7 605.2,957.6 606.2,956.5 607.1,955.4 608.2,954.3 609.2,953.2 610.3,952.1 611.4,951.1 612.6,950.0 613.8,949.0 615.0,948.0 616.3,947.0 617.5,946.0 618.9,945.0 620.2,944.0 621.6,943.0" fill="none" stroke="#6d1f1c" stroke-width="0.9"/>
<polyline points="776.1,1052.2 772.8,1052.4 769.6,1052.6 766.3,1052.7 763.1,1052.9 759.8,1053.0 756.5,1053.1 753.2,1053.1 750.0,1053.1 746.7,1053.1 743.4,1053.0 740.1,1052.9 736.9,1052.8 733.6,1052.7 730.4,1052.5 727.1,1052.3 723.9,1052.1 720.7,1051.8 717.5,1051.5 714.3,1051.2 711.2,1050.8 708.0,1050.4 704.9,1050.0 701.8,1049.6 698.8,1049.1 695.7,1048.6 692.7,1048.1 689.7,1047.5 686.8,1046.9 683.9,1046.3 681.0,1045.7 678.1,1045.0 675.3,1044.4 672.5,1043.6 669.8,1042.9 667.0,1042.1 664.4,1041.4 661.7,1040.6 659.2,1039.7 656.6,1038.9 654.1,1038.0 651.7,1037.1 649.3,1036.2 646.9,1035.3 644.6,1034.3 642.3,1033.3 640.1,1032.3 637.9,1031.3 635.8,1030.3 633.7,1029.2 631.7,1028.2 629.8,1027.1 627.8,1026.0 626.0,1024.9 624.2,1023.8 622.4,1022.7 620.7,1021.5 619.1,1020.4 617.5,1019.2 615.9,1018.0 614.5,1016.8 613.0,1015.6 611.7,1014.4 610.4,1013.2 609.1,1012.0 607.9,1010.7 606.7,1009.5 605.6,1008.3 604.6,1007.0 603.6,1005.7 602.7,1004.5 601.8,1003.2 601.0,1002.0 600.2,1000.7 599.5,999.4 598.9,998.1 598.3,996.8 597.7,995.6 597.2,994.3 596.8,993.0 596.4,991.7 596.1,990.4 595.8,989.2 595.6,987.9 595.4,986.6" fill="none" stroke="#c6605d" stroke-width="1" stroke-opacity="0.55" transform="translate(0,0.9)"/>
<polyline points="601.2,863.0 608.0,863.0 695.0,898.0" fill="none" stroke="#1c1c1c" stroke-width="1.6" stroke-linejoin="round"/>
<polyline points="693.8,857.5 700.0,857.5 703.8,897.0" fill="none" stroke="#1c1c1c" stroke-width="1.6" stroke-linejoin="round"/>
<polyline points="714.5,890.5 718.0,890.5 720.5,893.8" fill="none" stroke="#1c1c1c" stroke-width="1.6" stroke-linejoin="round"/>
<polyline points="739.7,873.2 738.0,892.5" fill="none" stroke="#1c1c1c" stroke-width="1.6" stroke-linejoin="round"/>
<polyline points="811.2,855.5 804.5,855.5 752.5,892.5" fill="none" stroke="#1c1c1c" stroke-width="1.6" stroke-linejoin="round"/>
<polyline points="870.0,884.5 863.0,884.5 761.2,892.5" fill="none" stroke="#1c1c1c" stroke-width="1.6" stroke-linejoin="round"/>
<polyline points="631.2,897.0 638.0,897.0 669.5,903.8" fill="none" stroke="#1c1c1c" stroke-width="1.6" stroke-linejoin="round"/>
<polyline points="592.5,953.2 599.5,953.2 623.8,922.5" fill="none" stroke="#1c1c1c" stroke-width="1.6" stroke-linejoin="round"/>
<text x="634.5" y="800.8" font-size="21.2" textLength="87.0" lengthAdjust="spacingAndGlyphs" class="t">ΜΕΡΙΔΙΟ</text>
<text x="730.8" y="800.8" font-size="21.2" textLength="73.7" lengthAdjust="spacingAndGlyphs" class="t">ΑΓΟΡΑΣ</text>
<text x="812.0" y="800.8" font-size="21.2" textLength="48.0" lengthAdjust="spacingAndGlyphs" class="t">2017</text>
<text x="698.0" y="826.2" font-size="21.2" textLength="100.0" lengthAdjust="spacingAndGlyphs" class="t">(ΙΑΝ-ΝΟΕ)</text>
<text x="530.5" y="863.8" font-size="13.1" textLength="68.9" lengthAdjust="spacingAndGlyphs" class="l" fill="#151515" stroke="#151515">ΑΡΓΕΝΤΙΝΗ</text>
<text x="555.3" y="878.0" font-size="13.1" textLength="19.2" lengthAdjust="spacingAndGlyphs" class="l" fill="#151515" stroke="#151515">0%</text>
<text x="631.4" y="858.2" font-size="13.1" textLength="60.2" lengthAdjust="spacingAndGlyphs" class="l" fill="#151515" stroke="#151515">ΑΙΓΥΠΤΟΣ</text>
<text x="651.9" y="872.5" font-size="13.1" textLength="19.2" lengthAdjust="spacingAndGlyphs" class="l" fill="#151515" stroke="#151515">2%</text>
<text x="677.9" y="876.2" font-size="13.1" textLength="53.0" lengthAdjust="spacingAndGlyphs" class="l" fill="#151515" stroke="#151515">ΤΟΥΡΚΙΑ</text>
<text x="694.8" y="890.5" font-size="13.1" textLength="19.2" lengthAdjust="spacingAndGlyphs" class="l" fill="#151515" stroke="#151515">2%</text>
<text x="712.4" y="859.5" font-size="13.1" textLength="76.8" lengthAdjust="spacingAndGlyphs" class="l" fill="#151515" stroke="#151515">ΠΟΡΤΟΓΑΛΙΑ</text>
<text x="741.2" y="873.8" font-size="13.1" textLength="19.2" lengthAdjust="spacingAndGlyphs" class="l" fill="#151515" stroke="#151515">1%</text>
<text x="813.1" y="855.0" font-size="13.1" textLength="40.8" lengthAdjust="spacingAndGlyphs" class="l" fill="#151515" stroke="#151515">ΠΕΡΟΥ</text>
<text x="823.9" y="870.0" font-size="13.1" textLength="19.2" lengthAdjust="spacingAndGlyphs" class="l" fill="#151515" stroke="#151515">1%</text>
<text x="872.5" y="884.5" font-size="13.1" textLength="41.8" lengthAdjust="spacingAndGlyphs" class="l" fill="#151515" stroke="#151515">ΓΑΛΛΙΑ</text>
<text x="883.8" y="898.8" font-size="13.1" textLength="19.2" lengthAdjust="spacingAndGlyphs" class="l" fill="#151515" stroke="#151515">1%</text>
<text x="587.7" y="897.5" font-size="13.1" textLength="40.6" lengthAdjust="spacingAndGlyphs" class="l" fill="#151515" stroke="#151515">ΙΤΑΛΙΑ</text>
<text x="598.4" y="912.0" font-size="13.1" textLength="19.2" lengthAdjust="spacingAndGlyphs" class="l" fill="#151515" stroke="#151515">5%</text>
<text x="538.0" y="953.2" font-size="13.1" textLength="51.6" lengthAdjust="spacingAndGlyphs" class="l" fill="#151515" stroke="#151515">ΜΑΡΟΚΟ</text>
<text x="554.1" y="967.5" font-size="13.1" textLength="19.2" lengthAdjust="spacingAndGlyphs" class="l" fill="#151515" stroke="#151515">6%</text>
<text x="837.0" y="970.8" font-size="13.1" textLength="49.0" lengthAdjust="spacingAndGlyphs" class="l" fill="#0e1c36" stroke="#0e1c36">ΙΣΠΑΝΙΑ</text>
<text x="848.3" y="984.9" font-size="13.1" textLength="26.4" lengthAdjust="spacingAndGlyphs" class="l" fill="#0e1c36" stroke="#0e1c36">48%</text>
<text x="665.0" y="997.4" font-size="13.1" textLength="46.8" lengthAdjust="spacingAndGlyphs" class="l" fill="#3a1012" stroke="#3a1012">ΕΛΛΑΔΑ</text>
<text x="675.2" y="1011.5" font-size="13.1" textLength="26.4" lengthAdjust="spacingAndGlyphs" class="l" fill="#3a1012" stroke="#3a1012">34%</text>
</svg>
</body></html>
